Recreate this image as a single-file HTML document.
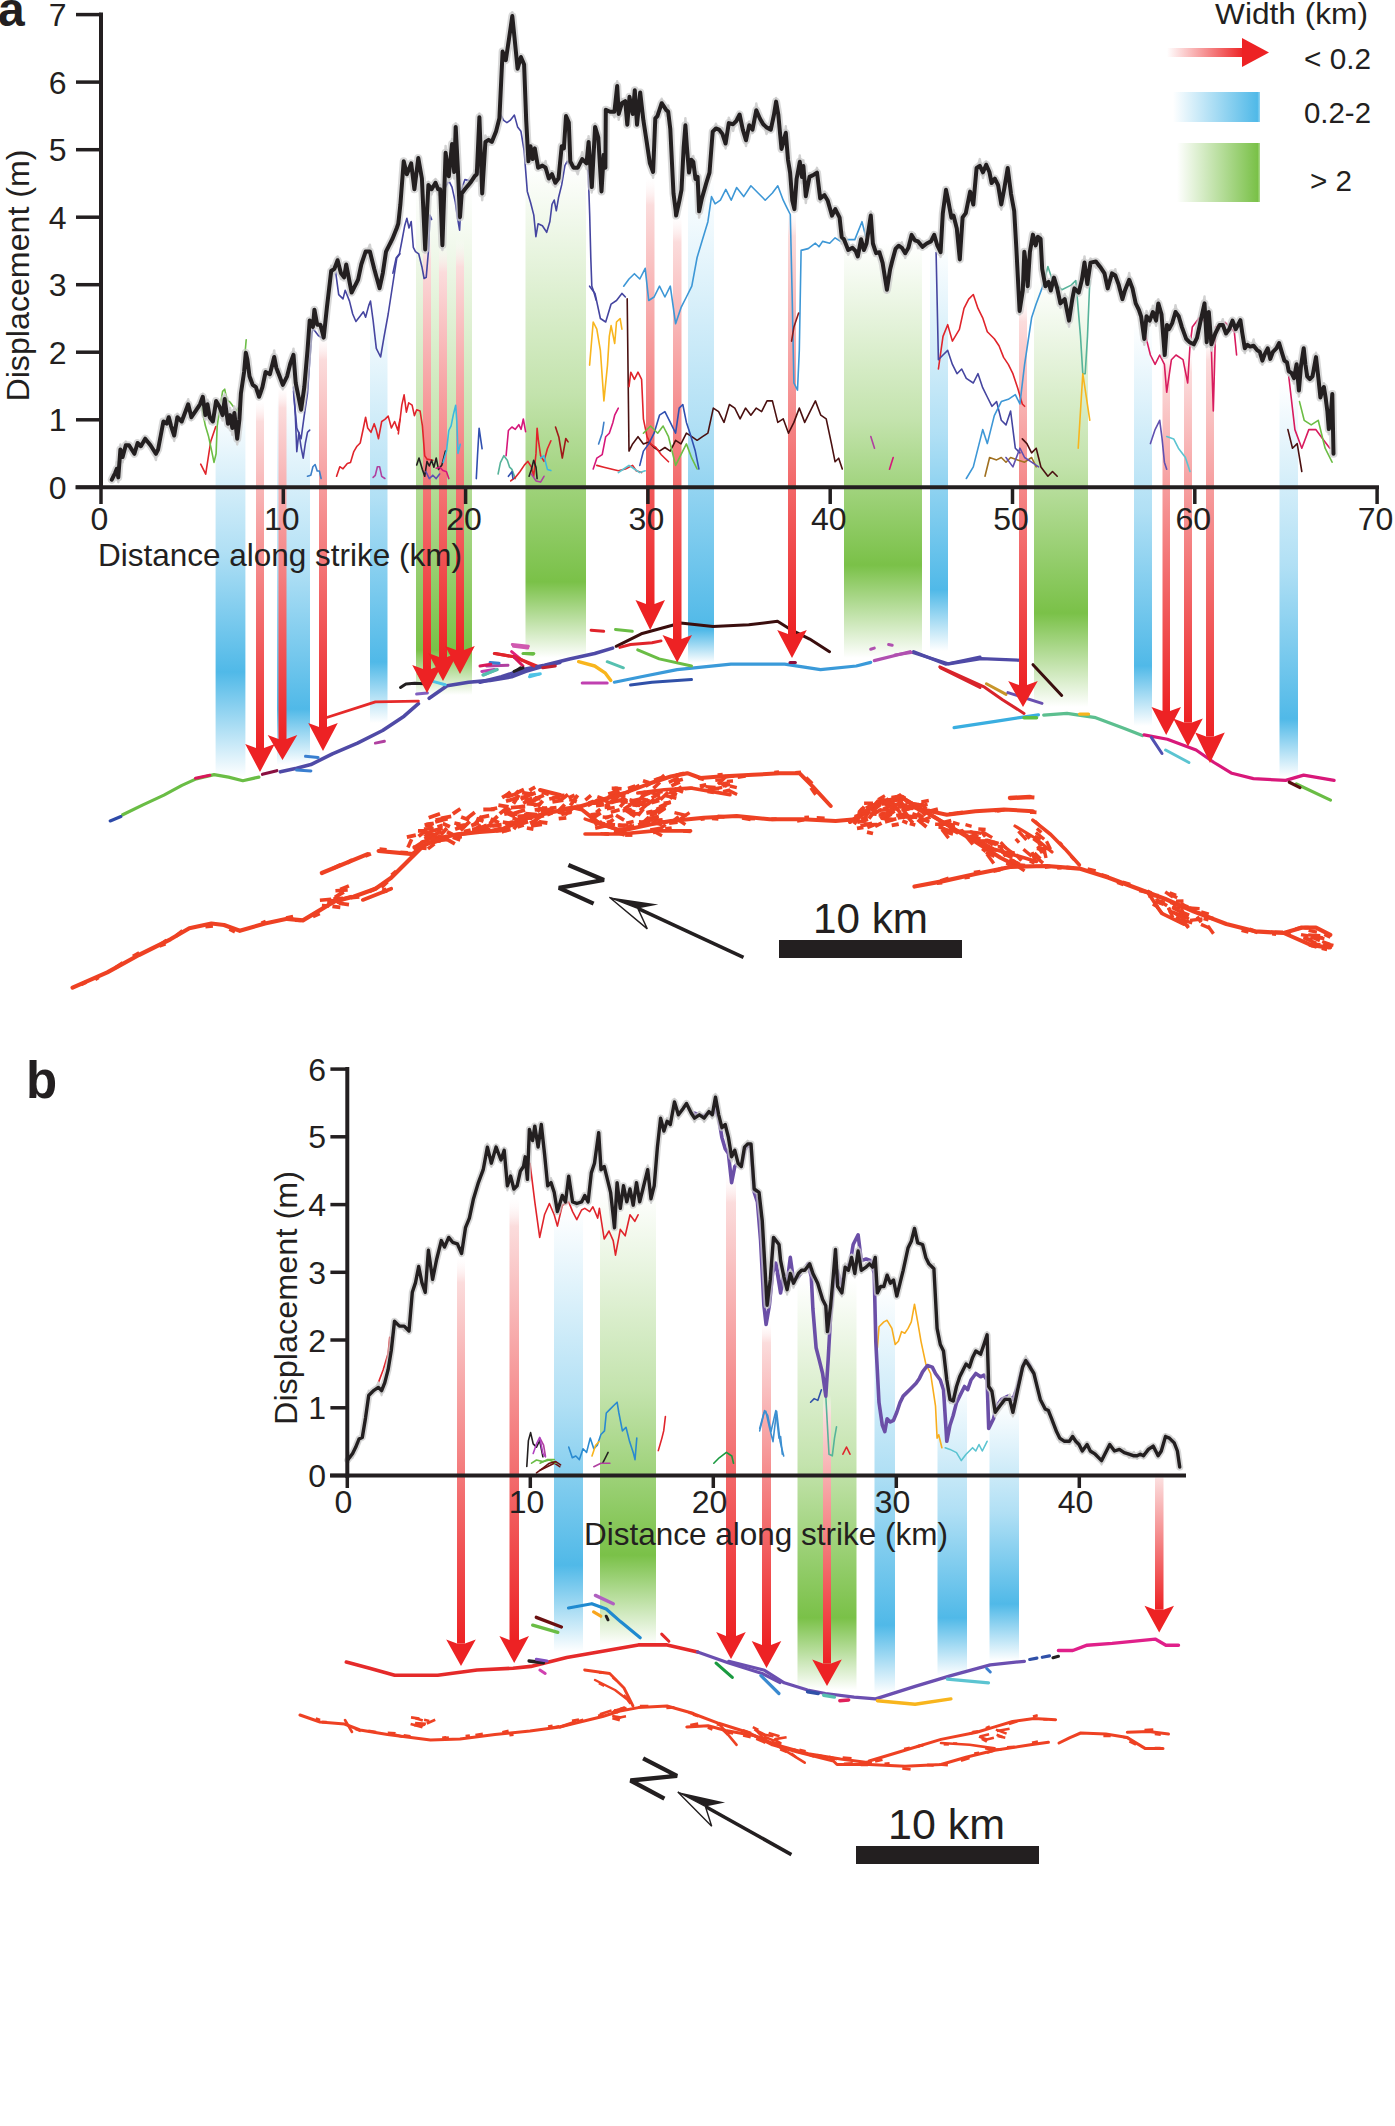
<!DOCTYPE html>
<html><head><meta charset="utf-8"><style>html,body{margin:0;padding:0;background:#fff;}svg{display:block;}</style></head>
<body><svg width="1395" height="2126" viewBox="0 0 1395 2126">
<defs>
<linearGradient id="gBlue" x1="0" y1="0" x2="0" y2="1">
 <stop offset="0" stop-color="#50b9e8" stop-opacity="0"/>
 <stop offset="0.78" stop-color="#50b9e8" stop-opacity="1"/>
 <stop offset="1" stop-color="#50b9e8" stop-opacity="0"/>
</linearGradient>
<linearGradient id="gGreen" x1="0" y1="0" x2="0" y2="1">
 <stop offset="0" stop-color="#7ac148" stop-opacity="0"/>
 <stop offset="0.83" stop-color="#7ac148" stop-opacity="1"/>
 <stop offset="1" stop-color="#7ac148" stop-opacity="0"/>
</linearGradient>
<linearGradient id="gRed" x1="0" y1="0" x2="0" y2="1">
 <stop offset="0" stop-color="#ffffff" stop-opacity="0"/>
 <stop offset="0.07" stop-color="#fbdcdc"/>
 <stop offset="1" stop-color="#ed2224"/>
</linearGradient>
<linearGradient id="gRedH" x1="0" y1="0" x2="1" y2="0">
 <stop offset="0" stop-color="#ed2224" stop-opacity="0"/>
 <stop offset="1" stop-color="#ed2224" stop-opacity="1"/>
</linearGradient>
<linearGradient id="gBlueH" x1="0" y1="0" x2="1" y2="0">
 <stop offset="0" stop-color="#50b9e8" stop-opacity="0"/>
 <stop offset="0.97" stop-color="#50b9e8" stop-opacity="1"/>
 <stop offset="1" stop-color="#50b9e8" stop-opacity="0.6"/>
</linearGradient>
<linearGradient id="gGreenH" x1="0" y1="0" x2="1" y2="0">
 <stop offset="0" stop-color="#7ac148" stop-opacity="0"/>
 <stop offset="0.97" stop-color="#7ac148" stop-opacity="1"/>
 <stop offset="1" stop-color="#7ac148" stop-opacity="0.6"/>
</linearGradient>
<linearGradient id="bg1" x1="0" y1="0" x2="0" y2="1"><stop offset="0" stop-color="#50b9e8" stop-opacity="0"/><stop offset="0.394" stop-color="#50b9e8" stop-opacity="0.45"/><stop offset="0.717" stop-color="#50b9e8" stop-opacity="1"/><stop offset="1" stop-color="#50b9e8" stop-opacity="0"/></linearGradient><linearGradient id="bg2" x1="0" y1="0" x2="0" y2="1"><stop offset="0" stop-color="#50b9e8" stop-opacity="0"/><stop offset="0.466" stop-color="#50b9e8" stop-opacity="0.45"/><stop offset="0.848" stop-color="#50b9e8" stop-opacity="1"/><stop offset="1" stop-color="#50b9e8" stop-opacity="0"/></linearGradient><linearGradient id="bg3" x1="0" y1="0" x2="0" y2="1"><stop offset="0" stop-color="#50b9e8" stop-opacity="0"/><stop offset="0.471" stop-color="#50b9e8" stop-opacity="0.45"/><stop offset="0.856" stop-color="#50b9e8" stop-opacity="1"/><stop offset="1" stop-color="#50b9e8" stop-opacity="0"/></linearGradient><linearGradient id="bg4" x1="0" y1="0" x2="0" y2="1"><stop offset="0" stop-color="#7ac148" stop-opacity="0"/><stop offset="0.501" stop-color="#7ac148" stop-opacity="0.45"/><stop offset="0.911" stop-color="#7ac148" stop-opacity="1"/><stop offset="1" stop-color="#7ac148" stop-opacity="0"/></linearGradient><linearGradient id="bg5" x1="0" y1="0" x2="0" y2="1"><stop offset="0" stop-color="#7ac148" stop-opacity="0"/><stop offset="0.465" stop-color="#7ac148" stop-opacity="0.45"/><stop offset="0.846" stop-color="#7ac148" stop-opacity="1"/><stop offset="1" stop-color="#7ac148" stop-opacity="0"/></linearGradient><linearGradient id="bg6" x1="0" y1="0" x2="0" y2="1"><stop offset="0" stop-color="#50b9e8" stop-opacity="0"/><stop offset="0.513" stop-color="#50b9e8" stop-opacity="0.45"/><stop offset="0.932" stop-color="#50b9e8" stop-opacity="1"/><stop offset="1" stop-color="#50b9e8" stop-opacity="0"/></linearGradient><linearGradient id="bg7" x1="0" y1="0" x2="0" y2="1"><stop offset="0" stop-color="#7ac148" stop-opacity="0"/><stop offset="0.427" stop-color="#7ac148" stop-opacity="0.45"/><stop offset="0.776" stop-color="#7ac148" stop-opacity="1"/><stop offset="1" stop-color="#7ac148" stop-opacity="0"/></linearGradient><linearGradient id="bg8" x1="0" y1="0" x2="0" y2="1"><stop offset="0" stop-color="#50b9e8" stop-opacity="0"/><stop offset="0.468" stop-color="#50b9e8" stop-opacity="0.45"/><stop offset="0.850" stop-color="#50b9e8" stop-opacity="1"/><stop offset="1" stop-color="#50b9e8" stop-opacity="0"/></linearGradient><linearGradient id="bg9" x1="0" y1="0" x2="0" y2="1"><stop offset="0" stop-color="#7ac148" stop-opacity="0"/><stop offset="0.429" stop-color="#7ac148" stop-opacity="0.45"/><stop offset="0.780" stop-color="#7ac148" stop-opacity="1"/><stop offset="1" stop-color="#7ac148" stop-opacity="0"/></linearGradient><linearGradient id="bg10" x1="0" y1="0" x2="0" y2="1"><stop offset="0" stop-color="#50b9e8" stop-opacity="0"/><stop offset="0.468" stop-color="#50b9e8" stop-opacity="0.45"/><stop offset="0.851" stop-color="#50b9e8" stop-opacity="1"/><stop offset="1" stop-color="#50b9e8" stop-opacity="0"/></linearGradient><linearGradient id="bg11" x1="0" y1="0" x2="0" y2="1"><stop offset="0" stop-color="#50b9e8" stop-opacity="0"/><stop offset="0.469" stop-color="#50b9e8" stop-opacity="0.45"/><stop offset="0.853" stop-color="#50b9e8" stop-opacity="1"/><stop offset="1" stop-color="#50b9e8" stop-opacity="0"/></linearGradient><linearGradient id="bg12" x1="0" y1="0" x2="0" y2="1"><stop offset="0" stop-color="#50b9e8" stop-opacity="0"/><stop offset="0.442" stop-color="#50b9e8" stop-opacity="0.45"/><stop offset="0.804" stop-color="#50b9e8" stop-opacity="1"/><stop offset="1" stop-color="#50b9e8" stop-opacity="0"/></linearGradient><linearGradient id="bg13" x1="0" y1="0" x2="0" y2="1"><stop offset="0" stop-color="#7ac148" stop-opacity="0"/><stop offset="0.441" stop-color="#7ac148" stop-opacity="0.45"/><stop offset="0.802" stop-color="#7ac148" stop-opacity="1"/><stop offset="1" stop-color="#7ac148" stop-opacity="0"/></linearGradient><linearGradient id="bg14" x1="0" y1="0" x2="0" y2="1"><stop offset="0" stop-color="#7ac148" stop-opacity="0"/><stop offset="0.453" stop-color="#7ac148" stop-opacity="0.45"/><stop offset="0.824" stop-color="#7ac148" stop-opacity="1"/><stop offset="1" stop-color="#7ac148" stop-opacity="0"/></linearGradient><linearGradient id="bg15" x1="0" y1="0" x2="0" y2="1"><stop offset="0" stop-color="#50b9e8" stop-opacity="0"/><stop offset="0.457" stop-color="#50b9e8" stop-opacity="0.45"/><stop offset="0.832" stop-color="#50b9e8" stop-opacity="1"/><stop offset="1" stop-color="#50b9e8" stop-opacity="0"/></linearGradient><linearGradient id="bg16" x1="0" y1="0" x2="0" y2="1"><stop offset="0" stop-color="#50b9e8" stop-opacity="0"/><stop offset="0.442" stop-color="#50b9e8" stop-opacity="0.45"/><stop offset="0.803" stop-color="#50b9e8" stop-opacity="1"/><stop offset="1" stop-color="#50b9e8" stop-opacity="0"/></linearGradient><linearGradient id="bg17" x1="0" y1="0" x2="0" y2="1"><stop offset="0" stop-color="#50b9e8" stop-opacity="0"/><stop offset="0.429" stop-color="#50b9e8" stop-opacity="0.45"/><stop offset="0.780" stop-color="#50b9e8" stop-opacity="1"/><stop offset="1" stop-color="#50b9e8" stop-opacity="0"/></linearGradient></defs>
<rect width="1395" height="2126" fill="#fff"/>
<rect x="215.6" y="406" width="29.80000000000001" height="371" fill="url(#bg1)"/><rect x="277" y="397" width="33" height="368" fill="url(#bg2)"/><rect x="370" y="300" width="17.5" height="423" fill="url(#bg3)"/><rect x="416" y="187" width="56" height="508" fill="url(#bg4)"/><rect x="525.5" y="164" width="60.5" height="494" fill="url(#bg5)"/><rect x="688" y="178" width="26" height="485" fill="url(#bg6)"/><rect x="844" y="243" width="78" height="415" fill="url(#bg7)"/><rect x="930" y="243" width="18" height="408" fill="url(#bg8)"/><rect x="1034" y="280" width="54" height="427" fill="url(#bg9)"/><rect x="1134" y="322" width="18" height="404" fill="url(#bg10)"/><rect x="1279.5" y="382" width="18.5" height="395" fill="url(#bg11)"/><rect x="554" y="1209" width="29" height="443" fill="url(#bg12)"/><rect x="600" y="1191" width="56" height="454" fill="url(#bg13)"/><rect x="797.5" y="1280" width="59.0" height="410" fill="url(#bg14)"/><rect x="874.5" y="1284" width="20.5" height="410" fill="url(#bg15)"/><rect x="937.5" y="1381" width="29.5" height="295" fill="url(#bg16)"/><rect x="989.5" y="1402" width="29.5" height="259" fill="url(#bg17)"/>
<polyline points="122.7,814.8 142.4,805.1 163.9,795.1 181.9,785.4 196.2,778.9 214.1,774.6 228.5,777.1 242.8,780.7 258.9,777.1" fill="none" stroke="#6abd45" stroke-width="3.2" stroke-linejoin="round" stroke-linecap="round" stroke-linecap="butt"/><polyline points="110.2,820.9 120.9,816.6" fill="none" stroke="#2d4aa8" stroke-width="3.2" stroke-linejoin="round" stroke-linecap="round" stroke-linecap="butt"/><polyline points="195.5,778.2 209.8,775.3" fill="none" stroke="#d8185a" stroke-width="3.2" stroke-linejoin="round" stroke-linecap="round" stroke-linecap="butt"/><polyline points="262.5,774.3 276.8,770.7" fill="none" stroke="#8a1040" stroke-width="3.2" stroke-linejoin="round" stroke-linecap="round" stroke-linecap="butt"/><polyline points="280.4,771.8 296.6,768.2 310.9,764.6 332.4,753.8 357.5,743.1 382.6,730.5 404.1,716.2 418.4,703.7" fill="none" stroke="#4f4aa6" stroke-width="3.6" stroke-linejoin="round" stroke-linecap="round" stroke-linecap="butt"/><polyline points="429.2,698.3 447.1,685.7 468.6,682.2 490.1,680.4 511.6,676.8 525.9,671.4 543.9,666.0 560.0,662.4" fill="none" stroke="#4f4aa6" stroke-width="3.6" stroke-linejoin="round" stroke-linecap="round" stroke-linecap="butt"/><polyline points="325.2,718.0 375.4,701.9 418.4,701.1" fill="none" stroke="#e52a2a" stroke-width="2.8" stroke-linejoin="round" stroke-linecap="round" stroke-linecap="butt"/><polyline points="400.5,687.5 405.9,683.9 414.8,683.2 429.2,683.9" fill="none" stroke="#231f20" stroke-width="3" stroke-linejoin="round" stroke-linecap="round" stroke-linecap="butt"/><polyline points="432.8,681.4 445.3,684.7" fill="none" stroke="#4fc3e6" stroke-width="3" stroke-linejoin="round" stroke-linecap="round" stroke-linecap="butt"/><polyline points="296.6,770.0 310.9,771.0" fill="none" stroke="#3a7fd0" stroke-width="3" stroke-linejoin="round" stroke-linecap="round" stroke-linecap="butt"/><polyline points="305.5,756.3 318.1,757.4" fill="none" stroke="#3a7fd0" stroke-width="3" stroke-linejoin="round" stroke-linecap="round" stroke-linecap="butt"/><polyline points="375.4,743.1 384.4,741.3" fill="none" stroke="#b040a0" stroke-width="3" stroke-linejoin="round" stroke-linecap="round" stroke-linecap="butt"/><polyline points="416.6,694.0 427.4,692.9" fill="none" stroke="#8060c0" stroke-width="3" stroke-linejoin="round" stroke-linecap="round" stroke-linecap="butt"/><polyline points="418.4,673.2 429.2,673.9" fill="none" stroke="#e0207a" stroke-width="3" stroke-linejoin="round" stroke-linecap="round" stroke-linecap="butt"/><polyline points="482.9,675.0 497.3,669.6" fill="none" stroke="#56b39a" stroke-width="3" stroke-linejoin="round" stroke-linecap="round" stroke-linecap="butt"/><polyline points="486.5,666.0 508.0,665.3" fill="none" stroke="#b040a0" stroke-width="3" stroke-linejoin="round" stroke-linecap="round" stroke-linecap="butt"/><polyline points="495.5,653.5 515.2,657.1 536.7,666.0" fill="none" stroke="#e0242b" stroke-width="3" stroke-linejoin="round" stroke-linecap="round" stroke-linecap="butt"/><polyline points="513.4,646.3 527.7,648.1" fill="none" stroke="#d05ab0" stroke-width="3" stroke-linejoin="round" stroke-linecap="round" stroke-linecap="butt"/><polyline points="511.6,651.7 522.4,660.6" fill="none" stroke="#e0207a" stroke-width="3" stroke-linejoin="round" stroke-linecap="round" stroke-linecap="butt"/><polyline points="524.2,653.5 533.1,654.2" fill="none" stroke="#6abd45" stroke-width="3" stroke-linejoin="round" stroke-linecap="round" stroke-linecap="butt"/><polyline points="513.4,672.5 520.6,667.8" fill="none" stroke="#231f20" stroke-width="3" stroke-linejoin="round" stroke-linecap="round" stroke-linecap="butt"/><polyline points="529.5,676.8 540.3,673.9" fill="none" stroke="#4fc3e6" stroke-width="3" stroke-linejoin="round" stroke-linecap="round" stroke-linecap="butt"/><polyline points="490.1,662.4 499.1,663.2" fill="none" stroke="#3a7fd0" stroke-width="3" stroke-linejoin="round" stroke-linecap="round" stroke-linecap="butt"/><polyline points="480.0,682.2 501.5,676.8 523.0,669.6 544.5,665.3 569.6,658.9 594.7,653.5 612.6,648.1" fill="none" stroke="#4f4aa6" stroke-width="3.6" stroke-linejoin="round" stroke-linecap="round" stroke-linecap="butt"/><polyline points="616.2,646.3 641.3,633.8 680.7,623.0 713.0,626.6 748.8,624.8 777.5,621.2 791.8,630.2 809.7,639.1 829.5,651.7" fill="none" stroke="#3a0e0e" stroke-width="3" stroke-linejoin="round" stroke-linecap="round" stroke-linecap="butt"/><polyline points="614.4,682.2 641.3,676.8 677.1,669.6 730.9,664.2 784.7,664.2 820.5,669.6 856.3,666.0 870.7,662.4" fill="none" stroke="#3a9ad9" stroke-width="3.2" stroke-linejoin="round" stroke-linecap="round" stroke-linecap="butt"/><polyline points="874.3,660.6 910.1,651.7" fill="none" stroke="#b050b0" stroke-width="3.2" stroke-linejoin="round" stroke-linecap="round" stroke-linecap="butt"/><polyline points="913.7,651.7 945.9,664.2 980.0,657.1" fill="none" stroke="#4f4aa6" stroke-width="3.2" stroke-linejoin="round" stroke-linecap="round" stroke-linecap="butt"/><polyline points="940.6,667.8 980.0,687.5" fill="none" stroke="#d8242b" stroke-width="3" stroke-linejoin="round" stroke-linecap="round" stroke-linecap="butt"/><polyline points="637.7,649.9 659.2,658.9 691.5,666.0" fill="none" stroke="#6abd45" stroke-width="3" stroke-linejoin="round" stroke-linecap="round" stroke-linecap="butt"/><polyline points="578.6,661.7 594.7,666.0 605.4,673.2 610.8,680.4" fill="none" stroke="#f8b51d" stroke-width="3.4" stroke-linejoin="round" stroke-linecap="round" stroke-linecap="butt"/><polyline points="607.2,661.7 623.4,667.8" fill="none" stroke="#56c0b0" stroke-width="3" stroke-linejoin="round" stroke-linecap="round" stroke-linecap="butt"/><polyline points="582.2,682.9 607.2,682.9" fill="none" stroke="#c040b0" stroke-width="3" stroke-linejoin="round" stroke-linecap="round" stroke-linecap="butt"/><polyline points="630.5,685.0 652.0,682.2 691.5,679.6" fill="none" stroke="#3050a8" stroke-width="3" stroke-linejoin="round" stroke-linecap="round" stroke-linecap="butt"/><polyline points="591.1,630.2 603.7,631.3" fill="none" stroke="#e0242b" stroke-width="3" stroke-linejoin="round" stroke-linecap="round" stroke-linecap="butt"/><polyline points="619.8,647.4 630.5,644.5 652.0,642.7 661.0,640.9" fill="none" stroke="#e0242b" stroke-width="3" stroke-linejoin="round" stroke-linecap="round" stroke-linecap="butt"/><polyline points="615.5,629.5 632.3,631.3" fill="none" stroke="#6abd45" stroke-width="3" stroke-linejoin="round" stroke-linecap="round" stroke-linecap="butt"/><polyline points="480.0,666.0 490.8,664.2" fill="none" stroke="#d8185a" stroke-width="3" stroke-linejoin="round" stroke-linecap="round" stroke-linecap="butt"/><polyline points="481.8,671.4 494.3,669.6" fill="none" stroke="#c040b0" stroke-width="3" stroke-linejoin="round" stroke-linecap="round" stroke-linecap="butt"/><polyline points="483.6,675.0 496.1,669.6" fill="none" stroke="#56c0b0" stroke-width="3" stroke-linejoin="round" stroke-linecap="round" stroke-linecap="butt"/><polyline points="494.3,653.5 515.8,657.1 533.8,666.0" fill="none" stroke="#e0242b" stroke-width="3" stroke-linejoin="round" stroke-linecap="round" stroke-linecap="butt"/><polyline points="512.3,644.5 528.4,646.3" fill="none" stroke="#d05ab0" stroke-width="3" stroke-linejoin="round" stroke-linecap="round" stroke-linecap="butt"/><polyline points="514.1,657.1 523.0,666.0" fill="none" stroke="#d8185a" stroke-width="3" stroke-linejoin="round" stroke-linecap="round" stroke-linecap="butt"/><polyline points="523.0,653.5 533.8,653.5" fill="none" stroke="#6abd45" stroke-width="3" stroke-linejoin="round" stroke-linecap="round" stroke-linecap="butt"/><polyline points="530.2,675.0 539.1,673.9" fill="none" stroke="#4fc3e6" stroke-width="3" stroke-linejoin="round" stroke-linecap="round" stroke-linecap="butt"/><polyline points="542.7,667.8 555.3,666.0" fill="none" stroke="#c02030" stroke-width="3" stroke-linejoin="round" stroke-linecap="round" stroke-linecap="butt"/><polyline points="514.1,671.4 523.0,667.8" fill="none" stroke="#231f20" stroke-width="3" stroke-linejoin="round" stroke-linecap="round" stroke-linecap="butt"/><polyline points="870.7,649.2 874.3,648.1" fill="none" stroke="#b050b0" stroke-width="3" stroke-linejoin="round" stroke-linecap="round" stroke-linecap="butt"/><polyline points="888.6,644.5 892.2,645.2" fill="none" stroke="#b050b0" stroke-width="3" stroke-linejoin="round" stroke-linecap="round" stroke-linecap="butt"/><polyline points="790.0,662.4 795.4,662.4" fill="none" stroke="#8a1040" stroke-width="3" stroke-linejoin="round" stroke-linecap="round" stroke-linecap="butt"/><polyline points="912.9,652.5 948.8,663.9 981.0,658.6 1024.0,660.4" fill="none" stroke="#4f4aa6" stroke-width="3.2" stroke-linejoin="round" stroke-linecap="round" stroke-linecap="butt"/><polyline points="939.8,666.8 984.6,687.2 1002.5,699.8 1024.0,713.4" fill="none" stroke="#d8242b" stroke-width="3" stroke-linejoin="round" stroke-linecap="round" stroke-linecap="butt"/><polyline points="986.4,683.7 1006.1,694.4" fill="none" stroke="#c8952a" stroke-width="3" stroke-linejoin="round" stroke-linecap="round" stroke-linecap="butt"/><polyline points="1007.9,692.6 1042.0,703.4" fill="none" stroke="#6a50b0" stroke-width="3" stroke-linejoin="round" stroke-linecap="round" stroke-linecap="butt"/><polyline points="1033.0,664.7 1061.7,695.5" fill="none" stroke="#3a0e0e" stroke-width="3" stroke-linejoin="round" stroke-linecap="round" stroke-linecap="butt"/><polyline points="954.1,727.7 995.4,721.3 1038.4,714.8" fill="none" stroke="#3aaee0" stroke-width="3.2" stroke-linejoin="round" stroke-linecap="round" stroke-linecap="butt"/><polyline points="1024.0,717.7 1036.6,717.7" fill="none" stroke="#5cbf45" stroke-width="3.4" stroke-linejoin="round" stroke-linecap="round" stroke-linecap="butt"/><polyline points="1043.7,715.2 1067.0,713.4 1095.7,717.7 1124.4,728.5 1142.3,735.6" fill="none" stroke="#5cbf8f" stroke-width="3.2" stroke-linejoin="round" stroke-linecap="round" stroke-linecap="butt"/><polyline points="1079.6,714.1 1088.5,714.1" fill="none" stroke="#f8b51d" stroke-width="3.4" stroke-linejoin="round" stroke-linecap="round" stroke-linecap="butt"/><polyline points="1144.1,734.9 1167.4,739.2 1196.1,750.0 1214.0,762.5 1231.9,773.3 1253.4,778.6 1285.7,780.4 1303.6,775.1 1334.1,780.4" fill="none" stroke="#d8187a" stroke-width="3.2" stroke-linejoin="round" stroke-linecap="round" stroke-linecap="butt"/><polyline points="1296.4,784.0 1330.5,800.1" fill="none" stroke="#6abd45" stroke-width="3.2" stroke-linejoin="round" stroke-linecap="round" stroke-linecap="butt"/><polyline points="1289.3,782.2 1300.0,787.6" fill="none" stroke="#5a1010" stroke-width="3.2" stroke-linejoin="round" stroke-linecap="round" stroke-linecap="butt"/><polyline points="1151.3,737.4 1162.0,753.5" fill="none" stroke="#5050b0" stroke-width="3" stroke-linejoin="round" stroke-linecap="round" stroke-linecap="butt"/><polyline points="1165.6,750.0 1188.9,762.5" fill="none" stroke="#5bc4d1" stroke-width="3" stroke-linejoin="round" stroke-linecap="round" stroke-linecap="butt"/><polyline points="895.0,655.0 911.1,652.5" fill="none" stroke="#b050b0" stroke-width="3" stroke-linejoin="round" stroke-linecap="round" stroke-linecap="butt"/><polyline points="346.3,1662.1 369.6,1668.2 394.7,1675.3 437.7,1675.3 477.1,1670.0 513.0,1668.2 530.9,1666.4 566.7,1657.4 602.6,1651.3 638.4,1644.9 667.1,1644.9 697.6,1652.0" fill="none" stroke="#e52a2a" stroke-width="3.6" stroke-linejoin="round" stroke-linecap="round" stroke-linecap="butt"/><polyline points="697.6,1652.0 728.0,1662.8 762.1,1673.5 780.0,1682.5" fill="none" stroke="#6b4fb0" stroke-width="3.2" stroke-linejoin="round" stroke-linecap="round" stroke-linecap="butt"/><polyline points="568.5,1608.0 591.8,1603.7 606.2,1609.0 620.5,1621.6 640.2,1637.7" fill="none" stroke="#1f8ad0" stroke-width="3.2" stroke-linejoin="round" stroke-linecap="round" stroke-linecap="butt"/><polyline points="595.4,1595.4 613.3,1603.7" fill="none" stroke="#b060c0" stroke-width="3.4" stroke-linejoin="round" stroke-linecap="round" stroke-linecap="butt"/><polyline points="593.6,1611.9 600.8,1616.2" fill="none" stroke="#f8a51d" stroke-width="3.2" stroke-linejoin="round" stroke-linecap="round" stroke-linecap="butt"/><polyline points="536.3,1617.3 561.4,1627.0" fill="none" stroke="#6a1010" stroke-width="3.4" stroke-linejoin="round" stroke-linecap="round" stroke-linecap="butt"/><polyline points="532.7,1625.2 557.8,1632.3" fill="none" stroke="#6abd45" stroke-width="3.4" stroke-linejoin="round" stroke-linecap="round" stroke-linecap="butt"/><polyline points="529.1,1661.0 543.4,1662.8" fill="none" stroke="#231f20" stroke-width="3.4" stroke-linejoin="round" stroke-linecap="round" stroke-linecap="butt"/><polyline points="536.3,1659.2 547.0,1661.0" fill="none" stroke="#8050c0" stroke-width="3" stroke-linejoin="round" stroke-linecap="round" stroke-linecap="butt"/><polyline points="539.9,1670.0 545.2,1673.5" fill="none" stroke="#d040b0" stroke-width="3" stroke-linejoin="round" stroke-linecap="round" stroke-linecap="butt"/><polyline points="661.7,1634.1 668.9,1641.3" fill="none" stroke="#e52a2a" stroke-width="3" stroke-linejoin="round" stroke-linecap="round" stroke-linecap="butt"/><polyline points="606.2,1616.2 608.0,1619.8" fill="none" stroke="#231f20" stroke-width="3" stroke-linejoin="round" stroke-linecap="round" stroke-linecap="butt"/><polyline points="728.7,1661.3 764.5,1670.3 784.2,1682.8 807.5,1690.0 825.4,1693.5 854.1,1697.1 875.6,1698.9 915.1,1686.4 950.9,1675.6 990.3,1664.9 1024.4,1661.3" fill="none" stroke="#6b4fb0" stroke-width="3.2" stroke-linejoin="round" stroke-linecap="round" stroke-linecap="butt"/><polyline points="1029.7,1659.5 1036.9,1658.1" fill="none" stroke="#3050a8" stroke-width="3.2" stroke-linejoin="round" stroke-linecap="round" stroke-linecap="butt"/><polyline points="1042.3,1657.3 1049.5,1655.9" fill="none" stroke="#3050a8" stroke-width="3.2" stroke-linejoin="round" stroke-linecap="round" stroke-linecap="butt"/><polyline points="1053.0,1657.7 1058.4,1656.3" fill="none" stroke="#231f20" stroke-width="3.2" stroke-linejoin="round" stroke-linecap="round" stroke-linecap="butt"/><polyline points="1058.4,1650.5 1072.8,1650.5 1087.1,1645.2 1112.2,1643.4 1155.2,1639.1 1165.9,1645.2 1178.5,1645.2" fill="none" stroke="#e0208a" stroke-width="3.4" stroke-linejoin="round" stroke-linecap="round" stroke-linecap="butt"/><polyline points="877.4,1700.7 915.1,1704.3 950.9,1698.9" fill="none" stroke="#f8b51d" stroke-width="3.4" stroke-linejoin="round" stroke-linecap="round" stroke-linecap="butt"/><polyline points="947.3,1679.2 988.5,1682.8" fill="none" stroke="#5bc4d1" stroke-width="3.2" stroke-linejoin="round" stroke-linecap="round" stroke-linecap="butt"/><polyline points="716.1,1663.1 732.3,1677.4" fill="none" stroke="#1a9a40" stroke-width="3.2" stroke-linejoin="round" stroke-linecap="round" stroke-linecap="butt"/><polyline points="760.9,1675.6 778.9,1693.5" fill="none" stroke="#3a8ad0" stroke-width="3.2" stroke-linejoin="round" stroke-linecap="round" stroke-linecap="butt"/><polyline points="807.5,1691.8 818.3,1693.5" fill="none" stroke="#3050a8" stroke-width="3.4" stroke-linejoin="round" stroke-linecap="round" stroke-linecap="butt"/><polyline points="823.7,1695.3 834.4,1697.1" fill="none" stroke="#56c0b0" stroke-width="3.4" stroke-linejoin="round" stroke-linecap="round" stroke-linecap="butt"/><polyline points="839.8,1700.7 848.7,1700.0" fill="none" stroke="#e0205a" stroke-width="3.4" stroke-linejoin="round" stroke-linecap="round" stroke-linecap="butt"/><polyline points="986.7,1668.5 990.3,1672.0" fill="none" stroke="#3a7fd0" stroke-width="3" stroke-linejoin="round" stroke-linecap="round" stroke-linecap="butt"/><polyline points="72.6,987.6 107.3,972.4 138.9,955.0 170.4,939.3 189.3,928.3 211.4,923.5 224.0,925.0 239.8,930.8 265.0,923.5 287.1,918.8 302.9,920.4 318.7,910.9 334.4,901.5 353.4,896.7 375.5,888.8 391.2,877.8 407.0,862.0 422.8,846.2 438.5,838.4 457.5,834.3 479.6,832.0 500.0,830.5 522.4,819.3 548.8,812.8 575.2,807.8" fill="none" stroke="#ee4123" stroke-width="4.2" stroke-linejoin="round" stroke-linecap="round" /><line x1="81.0" y1="984.4" x2="86.4" y2="982.1" stroke="#ee4123" stroke-width="3.8"/><line x1="95.1" y1="979.4" x2="98.6" y2="977.3" stroke="#ee4123" stroke-width="3.8"/><line x1="115.4" y1="967.8" x2="122.9" y2="962.8" stroke="#ee4123" stroke-width="3.8"/><line x1="133.0" y1="956.5" x2="139.3" y2="953.0" stroke="#ee4123" stroke-width="3.8"/><line x1="159.3" y1="946.0" x2="165.5" y2="943.7" stroke="#ee4123" stroke-width="3.8"/><line x1="160.3" y1="944.8" x2="166.7" y2="940.4" stroke="#ee4123" stroke-width="3.8"/><line x1="176.0" y1="935.9" x2="182.6" y2="930.7" stroke="#ee4123" stroke-width="3.8"/><line x1="205.4" y1="926.7" x2="212.9" y2="925.9" stroke="#ee4123" stroke-width="3.8"/><line x1="229.4" y1="929.0" x2="235.0" y2="931.7" stroke="#ee4123" stroke-width="3.8"/><line x1="261.5" y1="923.2" x2="265.8" y2="921.4" stroke="#ee4123" stroke-width="3.8"/><line x1="286.1" y1="918.1" x2="293.1" y2="916.5" stroke="#ee4123" stroke-width="3.8"/><line x1="295.1" y1="920.0" x2="300.8" y2="920.4" stroke="#ee4123" stroke-width="3.8"/><line x1="312.9" y1="916.6" x2="319.7" y2="913.6" stroke="#ee4123" stroke-width="3.8"/><line x1="331.6" y1="901.5" x2="338.4" y2="898.7" stroke="#ee4123" stroke-width="3.8"/><line x1="350.8" y1="897.7" x2="359.3" y2="896.8" stroke="#ee4123" stroke-width="3.8"/><line x1="369.3" y1="891.4" x2="376.7" y2="888.0" stroke="#ee4123" stroke-width="3.8"/><line x1="381.4" y1="887.3" x2="387.5" y2="881.7" stroke="#ee4123" stroke-width="3.8"/><line x1="391.6" y1="875.2" x2="396.3" y2="871.3" stroke="#ee4123" stroke-width="3.8"/><line x1="410.3" y1="855.8" x2="416.7" y2="850.4" stroke="#ee4123" stroke-width="3.8"/><line x1="432.0" y1="840.8" x2="438.3" y2="836.5" stroke="#ee4123" stroke-width="3.8"/><line x1="455.4" y1="837.0" x2="461.9" y2="836.5" stroke="#ee4123" stroke-width="3.8"/><line x1="463.9" y1="831.6" x2="470.7" y2="830.0" stroke="#ee4123" stroke-width="3.8"/><line x1="483.5" y1="830.2" x2="490.5" y2="829.5" stroke="#ee4123" stroke-width="3.8"/><line x1="501.6" y1="831.9" x2="506.9" y2="830.0" stroke="#ee4123" stroke-width="3.8"/><line x1="546.1" y1="813.6" x2="552.2" y2="811.8" stroke="#ee4123" stroke-width="3.8"/><line x1="565.9" y1="810.1" x2="572.6" y2="809.0" stroke="#ee4123" stroke-width="3.8"/><polyline points="321.8,873.0 367.6,854.1" fill="none" stroke="#ee4123" stroke-width="4.2" stroke-linejoin="round" stroke-linecap="round" /><line x1="365.2" y1="856.1" x2="370.9" y2="853.8" stroke="#ee4123" stroke-width="3.8"/><line x1="332.7" y1="868.6" x2="340.7" y2="864.7" stroke="#ee4123" stroke-width="3.8"/><line x1="347.1" y1="862.9" x2="352.3" y2="859.8" stroke="#ee4123" stroke-width="3.8"/><polyline points="378.6,851.0 413.3,854.1" fill="none" stroke="#ee4123" stroke-width="4.2" stroke-linejoin="round" stroke-linecap="round" /><line x1="379.5" y1="849.1" x2="386.6" y2="850.0" stroke="#ee4123" stroke-width="3.8"/><line x1="400.4" y1="852.3" x2="407.8" y2="852.9" stroke="#ee4123" stroke-width="3.8"/><polyline points="362.8,899.9 391.2,888.8" fill="none" stroke="#ee4123" stroke-width="3.8" stroke-linejoin="round" stroke-linecap="round" /><line x1="382.3" y1="890.2" x2="386.2" y2="889.0" stroke="#ee4123" stroke-width="3.4"/><line x1="382.0" y1="892.2" x2="387.1" y2="891.0" stroke="#ee4123" stroke-width="3.4"/><polyline points="575.0,808.0 598.0,801.0 624.6,793.0 651.0,783.0 670.8,776.5 687.3,773.2 700.5,778.0 720.0,776.5 753.0,774.8 779.6,773.2 799.4,773.2 812.6,786.4 830.7,806.0" fill="none" stroke="#ee4123" stroke-width="4.0" stroke-linejoin="round" stroke-linecap="round" /><line x1="588.3" y1="803.1" x2="593.8" y2="801.1" stroke="#ee4123" stroke-width="3.6"/><line x1="607.7" y1="797.5" x2="613.0" y2="796.1" stroke="#ee4123" stroke-width="3.6"/><line x1="645.5" y1="786.2" x2="651.5" y2="782.9" stroke="#ee4123" stroke-width="3.6"/><line x1="632.3" y1="788.9" x2="639.5" y2="785.4" stroke="#ee4123" stroke-width="3.6"/><line x1="654.1" y1="780.1" x2="661.2" y2="777.7" stroke="#ee4123" stroke-width="3.6"/><line x1="676.0" y1="775.2" x2="684.0" y2="773.2" stroke="#ee4123" stroke-width="3.6"/><line x1="698.4" y1="777.9" x2="703.9" y2="779.4" stroke="#ee4123" stroke-width="3.6"/><line x1="717.6" y1="775.0" x2="722.7" y2="774.5" stroke="#ee4123" stroke-width="3.6"/><line x1="737.7" y1="777.1" x2="745.6" y2="775.9" stroke="#ee4123" stroke-width="3.6"/><line x1="726.1" y1="776.8" x2="734.1" y2="775.9" stroke="#ee4123" stroke-width="3.6"/><line x1="774.3" y1="772.6" x2="779.0" y2="772.1" stroke="#ee4123" stroke-width="3.6"/><line x1="795.3" y1="772.8" x2="801.0" y2="772.4" stroke="#ee4123" stroke-width="3.6"/><line x1="806.0" y1="777.6" x2="812.2" y2="783.6" stroke="#ee4123" stroke-width="3.6"/><line x1="810.9" y1="787.7" x2="815.8" y2="794.6" stroke="#ee4123" stroke-width="3.6"/><polyline points="575.0,808.0 581.8,809.5 598.3,822.6 621.3,830.9 651.0,824.3 670.8,821.0 703.8,817.7 736.7,816.0 769.7,819.3 802.7,819.3 835.6,821.0 855.4,819.3 868.6,809.5 881.8,801.2 903.8,798.7" fill="none" stroke="#ee4123" stroke-width="4.0" stroke-linejoin="round" stroke-linecap="round" /><line x1="589.8" y1="814.3" x2="595.8" y2="820.6" stroke="#ee4123" stroke-width="3.6"/><line x1="615.4" y1="828.9" x2="622.0" y2="832.0" stroke="#ee4123" stroke-width="3.6"/><line x1="629.4" y1="827.2" x2="634.3" y2="825.8" stroke="#ee4123" stroke-width="3.6"/><line x1="638.2" y1="825.1" x2="646.0" y2="822.8" stroke="#ee4123" stroke-width="3.6"/><line x1="669.1" y1="823.1" x2="677.6" y2="822.1" stroke="#ee4123" stroke-width="3.6"/><line x1="700.6" y1="819.1" x2="704.6" y2="818.8" stroke="#ee4123" stroke-width="3.6"/><line x1="676.5" y1="820.5" x2="683.7" y2="819.4" stroke="#ee4123" stroke-width="3.6"/><line x1="717.5" y1="816.3" x2="724.5" y2="816.9" stroke="#ee4123" stroke-width="3.6"/><line x1="712.0" y1="818.5" x2="718.4" y2="818.9" stroke="#ee4123" stroke-width="3.6"/><line x1="748.3" y1="818.6" x2="755.0" y2="818.6" stroke="#ee4123" stroke-width="3.6"/><line x1="742.1" y1="817.9" x2="750.6" y2="819.5" stroke="#ee4123" stroke-width="3.6"/><line x1="797.1" y1="820.9" x2="804.2" y2="819.8" stroke="#ee4123" stroke-width="3.6"/><line x1="771.4" y1="819.4" x2="776.7" y2="819.1" stroke="#ee4123" stroke-width="3.6"/><line x1="816.7" y1="817.8" x2="824.6" y2="818.2" stroke="#ee4123" stroke-width="3.6"/><line x1="804.4" y1="817.5" x2="809.0" y2="817.2" stroke="#ee4123" stroke-width="3.6"/><line x1="854.9" y1="819.4" x2="859.3" y2="819.4" stroke="#ee4123" stroke-width="3.6"/><line x1="860.0" y1="816.7" x2="864.4" y2="813.0" stroke="#ee4123" stroke-width="3.6"/><line x1="875.9" y1="804.0" x2="880.0" y2="801.2" stroke="#ee4123" stroke-width="3.6"/><line x1="884.5" y1="800.4" x2="892.0" y2="799.6" stroke="#ee4123" stroke-width="3.6"/><polyline points="637.8,793.0 664.2,789.7 690.6,788.0 730.0,794.6" fill="none" stroke="#ee4123" stroke-width="3.6" stroke-linejoin="round" stroke-linecap="round" /><line x1="640.0" y1="793.2" x2="645.7" y2="791.9" stroke="#ee4123" stroke-width="3.2"/><line x1="684.9" y1="788.9" x2="692.9" y2="788.1" stroke="#ee4123" stroke-width="3.2"/><line x1="707.5" y1="791.7" x2="713.9" y2="792.6" stroke="#ee4123" stroke-width="3.2"/><line x1="707.4" y1="789.7" x2="713.6" y2="791.1" stroke="#ee4123" stroke-width="3.2"/><polyline points="585.0,834.0 621.0,834.0 654.3,830.9 690.6,830.9" fill="none" stroke="#ee4123" stroke-width="3.6" stroke-linejoin="round" stroke-linecap="round" /><line x1="604.3" y1="833.7" x2="608.7" y2="833.9" stroke="#ee4123" stroke-width="3.2"/><line x1="600.4" y1="833.5" x2="609.0" y2="834.4" stroke="#ee4123" stroke-width="3.2"/><line x1="650.9" y1="831.1" x2="656.2" y2="831.0" stroke="#ee4123" stroke-width="3.2"/><line x1="625.1" y1="835.3" x2="632.4" y2="835.3" stroke="#ee4123" stroke-width="3.2"/><line x1="683.1" y1="831.2" x2="690.7" y2="831.6" stroke="#ee4123" stroke-width="3.2"/><line x1="658.1" y1="829.3" x2="662.1" y2="829.4" stroke="#ee4123" stroke-width="3.2"/><polyline points="585.0,819.0 605.0,826.0 625.0,832.0" fill="none" stroke="#ee4123" stroke-width="3.2" stroke-linejoin="round" stroke-linecap="round" /><line x1="600.8" y1="822.7" x2="605.2" y2="823.6" stroke="#ee4123" stroke-width="2.9"/><line x1="622.3" y1="832.8" x2="626.4" y2="833.6" stroke="#ee4123" stroke-width="2.9"/><polyline points="540.0,790.0 560.0,795.0" fill="none" stroke="#ee4123" stroke-width="4" stroke-linejoin="round" stroke-linecap="round" /><line x1="541.9" y1="792.0" x2="548.8" y2="794.5" stroke="#ee4123" stroke-width="3.6"/><polyline points="850.0,822.0 868.0,809.4 882.3,802.3 903.8,798.7 921.7,809.4 946.8,814.8 975.4,811.2 1004.0,809.4 1032.8,811.2" fill="none" stroke="#ee4123" stroke-width="4.0" stroke-linejoin="round" stroke-linecap="round" /><line x1="866.0" y1="808.3" x2="872.7" y2="803.9" stroke="#ee4123" stroke-width="3.6"/><line x1="878.2" y1="802.4" x2="885.0" y2="799.1" stroke="#ee4123" stroke-width="3.6"/><line x1="898.4" y1="798.8" x2="902.7" y2="798.7" stroke="#ee4123" stroke-width="3.6"/><line x1="914.7" y1="803.6" x2="918.9" y2="806.7" stroke="#ee4123" stroke-width="3.6"/><line x1="928.1" y1="810.3" x2="935.6" y2="812.2" stroke="#ee4123" stroke-width="3.6"/><line x1="957.3" y1="813.1" x2="962.9" y2="812.2" stroke="#ee4123" stroke-width="3.6"/><line x1="949.1" y1="814.1" x2="957.9" y2="813.0" stroke="#ee4123" stroke-width="3.6"/><line x1="997.0" y1="811.0" x2="1004.3" y2="809.7" stroke="#ee4123" stroke-width="3.6"/><line x1="994.7" y1="810.6" x2="1001.1" y2="810.2" stroke="#ee4123" stroke-width="3.6"/><line x1="1029.9" y1="812.1" x2="1034.4" y2="811.9" stroke="#ee4123" stroke-width="3.6"/><line x1="1030.3" y1="812.0" x2="1036.5" y2="812.4" stroke="#ee4123" stroke-width="3.6"/><polyline points="903.8,798.7 939.6,820.2 975.4,841.7 1000.5,857.8 1014.9,865.0" fill="none" stroke="#ee4123" stroke-width="4.0" stroke-linejoin="round" stroke-linecap="round" /><line x1="910.3" y1="803.0" x2="914.7" y2="805.3" stroke="#ee4123" stroke-width="3.6"/><line x1="914.2" y1="807.3" x2="920.9" y2="810.6" stroke="#ee4123" stroke-width="3.6"/><line x1="949.3" y1="827.8" x2="954.3" y2="831.3" stroke="#ee4123" stroke-width="3.6"/><line x1="961.5" y1="830.9" x2="966.0" y2="833.2" stroke="#ee4123" stroke-width="3.6"/><line x1="987.7" y1="848.9" x2="991.9" y2="851.4" stroke="#ee4123" stroke-width="3.6"/><line x1="982.2" y1="848.6" x2="985.9" y2="851.5" stroke="#ee4123" stroke-width="3.6"/><line x1="1006.7" y1="862.5" x2="1012.3" y2="865.6" stroke="#ee4123" stroke-width="3.6"/><polyline points="921.7,809.4 957.5,831.0 993.4,848.9 1036.4,861.4" fill="none" stroke="#ee4123" stroke-width="3.6" stroke-linejoin="round" stroke-linecap="round" /><line x1="950.6" y1="828.0" x2="956.0" y2="831.4" stroke="#ee4123" stroke-width="3.2"/><line x1="951.4" y1="829.7" x2="958.1" y2="833.4" stroke="#ee4123" stroke-width="3.2"/><line x1="973.9" y1="840.3" x2="978.7" y2="842.2" stroke="#ee4123" stroke-width="3.2"/><line x1="982.4" y1="842.2" x2="989.2" y2="846.8" stroke="#ee4123" stroke-width="3.2"/><line x1="1001.4" y1="852.2" x2="1006.2" y2="853.2" stroke="#ee4123" stroke-width="3.2"/><line x1="1029.7" y1="861.1" x2="1034.5" y2="863.2" stroke="#ee4123" stroke-width="3.2"/><line x1="1007.3" y1="851.1" x2="1014.7" y2="853.0" stroke="#ee4123" stroke-width="3.2"/><polyline points="1032.8,820.2 1050.7,834.5 1065.0,848.9 1079.4,865.0" fill="none" stroke="#ee4123" stroke-width="3.6" stroke-linejoin="round" stroke-linecap="round" /><line x1="1034.9" y1="821.1" x2="1038.8" y2="824.9" stroke="#ee4123" stroke-width="3.2"/><line x1="1059.5" y1="842.4" x2="1062.2" y2="845.4" stroke="#ee4123" stroke-width="3.2"/><line x1="1071.0" y1="856.2" x2="1074.4" y2="859.9" stroke="#ee4123" stroke-width="3.2"/><polyline points="1015.0,826.0 1035.0,838.0 1052.0,852.0" fill="none" stroke="#ee4123" stroke-width="3.2" stroke-linejoin="round" stroke-linecap="round" /><line x1="1034.9" y1="836.0" x2="1040.8" y2="839.3" stroke="#ee4123" stroke-width="2.9"/><line x1="1038.5" y1="843.1" x2="1041.9" y2="846.2" stroke="#ee4123" stroke-width="2.9"/><polyline points="914.5,886.5 943.2,881.1 975.4,874.0 1011.3,866.8 1047.1,866.0 1079.4,868.6 1108.0,877.5 1136.7,888.3 1165.4,899.0 1194.0,911.6 1226.3,924.0 1255.0,931.3 1283.7,933.0 1301.6,927.7 1316.0,927.7 1330.3,934.9" fill="none" stroke="#ee4123" stroke-width="4.2" stroke-linejoin="round" stroke-linecap="round" /><line x1="940.4" y1="881.1" x2="948.7" y2="878.4" stroke="#ee4123" stroke-width="3.8"/><line x1="936.8" y1="883.1" x2="942.2" y2="882.5" stroke="#ee4123" stroke-width="3.8"/><line x1="964.4" y1="877.6" x2="969.7" y2="876.9" stroke="#ee4123" stroke-width="3.8"/><line x1="973.9" y1="872.6" x2="980.5" y2="871.5" stroke="#ee4123" stroke-width="3.8"/><line x1="993.3" y1="871.2" x2="1000.7" y2="869.4" stroke="#ee4123" stroke-width="3.8"/><line x1="995.9" y1="870.5" x2="1002.8" y2="868.4" stroke="#ee4123" stroke-width="3.8"/><line x1="1017.9" y1="865.0" x2="1025.1" y2="865.7" stroke="#ee4123" stroke-width="3.8"/><line x1="1044.8" y1="867.0" x2="1050.4" y2="866.3" stroke="#ee4123" stroke-width="3.8"/><line x1="1066.4" y1="867.4" x2="1073.6" y2="868.1" stroke="#ee4123" stroke-width="3.8"/><line x1="1057.2" y1="867.8" x2="1061.6" y2="867.7" stroke="#ee4123" stroke-width="3.8"/><line x1="1101.2" y1="874.7" x2="1108.5" y2="877.1" stroke="#ee4123" stroke-width="3.8"/><line x1="1087.5" y1="869.0" x2="1095.6" y2="871.2" stroke="#ee4123" stroke-width="3.8"/><line x1="1122.7" y1="882.3" x2="1130.2" y2="884.5" stroke="#ee4123" stroke-width="3.8"/><line x1="1117.2" y1="882.2" x2="1123.5" y2="884.4" stroke="#ee4123" stroke-width="3.8"/><line x1="1147.3" y1="891.2" x2="1151.4" y2="893.2" stroke="#ee4123" stroke-width="3.8"/><line x1="1139.3" y1="890.3" x2="1147.0" y2="892.2" stroke="#ee4123" stroke-width="3.8"/><line x1="1170.3" y1="902.3" x2="1176.1" y2="904.3" stroke="#ee4123" stroke-width="3.8"/><line x1="1189.5" y1="907.9" x2="1195.6" y2="911.2" stroke="#ee4123" stroke-width="3.8"/><line x1="1206.8" y1="916.8" x2="1213.2" y2="918.6" stroke="#ee4123" stroke-width="3.8"/><line x1="1201.1" y1="912.1" x2="1208.7" y2="914.4" stroke="#ee4123" stroke-width="3.8"/><line x1="1249.5" y1="929.4" x2="1257.7" y2="932.5" stroke="#ee4123" stroke-width="3.8"/><line x1="1241.6" y1="930.1" x2="1248.5" y2="932.0" stroke="#ee4123" stroke-width="3.8"/><line x1="1274.7" y1="932.4" x2="1283.0" y2="932.4" stroke="#ee4123" stroke-width="3.8"/><line x1="1272.1" y1="933.5" x2="1276.1" y2="934.0" stroke="#ee4123" stroke-width="3.8"/><line x1="1295.5" y1="929.3" x2="1301.8" y2="927.4" stroke="#ee4123" stroke-width="3.8"/><line x1="1304.4" y1="927.7" x2="1308.6" y2="927.7" stroke="#ee4123" stroke-width="3.8"/><line x1="1324.4" y1="934.2" x2="1330.5" y2="937.1" stroke="#ee4123" stroke-width="3.8"/><polyline points="1283.7,933.0 1312.4,945.6 1330.3,947.4" fill="none" stroke="#ee4123" stroke-width="4.0" stroke-linejoin="round" stroke-linecap="round" /><line x1="1309.1" y1="944.8" x2="1316.7" y2="947.1" stroke="#ee4123" stroke-width="3.6"/><line x1="1285.8" y1="931.9" x2="1290.6" y2="933.8" stroke="#ee4123" stroke-width="3.6"/><line x1="1321.7" y1="948.2" x2="1327.1" y2="949.4" stroke="#ee4123" stroke-width="3.6"/><polyline points="1147.5,892.0 1161.8,913.4 1183.3,924.0" fill="none" stroke="#ee4123" stroke-width="3.6" stroke-linejoin="round" stroke-linecap="round" /><line x1="1157.1" y1="907.2" x2="1162.4" y2="913.5" stroke="#ee4123" stroke-width="3.2"/><line x1="1182.1" y1="922.6" x2="1188.7" y2="926.5" stroke="#ee4123" stroke-width="3.2"/><polyline points="1010.0,798.0 1030.0,797.0" fill="none" stroke="#ee4123" stroke-width="4.5" stroke-linejoin="round" stroke-linecap="round" /><line x1="1026.2" y1="796.9" x2="1034.4" y2="797.6" stroke="#ee4123" stroke-width="4.0"/><polyline points="300.0,1715.0 320.0,1722.0 344.5,1724.0 360.0,1730.0 387.5,1734.5 430.5,1740.0 460.0,1739.0 495.0,1734.5 530.0,1731.0 559.6,1727.0 580.0,1722.0 602.6,1716.5 620.0,1711.0 638.4,1707.6 667.0,1706.0 690.0,1712.5 718.7,1723.3 747.3,1732.3 776.0,1744.8 808.3,1753.8 840.5,1759.0 869.2,1762.7" fill="none" stroke="#ee4123" stroke-width="3.0" stroke-linejoin="round" stroke-linecap="round" /><line x1="315.8" y1="1718.4" x2="320.1" y2="1719.9" stroke="#ee4123" stroke-width="2.7"/><line x1="321.9" y1="1722.1" x2="326.7" y2="1722.1" stroke="#ee4123" stroke-width="2.7"/><line x1="355.1" y1="1728.8" x2="360.8" y2="1731.1" stroke="#ee4123" stroke-width="2.7"/><line x1="368.4" y1="1730.9" x2="376.1" y2="1732.1" stroke="#ee4123" stroke-width="2.7"/><line x1="395.4" y1="1734.9" x2="402.8" y2="1736.8" stroke="#ee4123" stroke-width="2.7"/><line x1="403.6" y1="1735.3" x2="410.5" y2="1736.3" stroke="#ee4123" stroke-width="2.7"/><line x1="387.7" y1="1732.9" x2="395.6" y2="1733.3" stroke="#ee4123" stroke-width="2.7"/><line x1="443.9" y1="1738.1" x2="448.9" y2="1737.5" stroke="#ee4123" stroke-width="2.7"/><line x1="442.2" y1="1737.9" x2="446.3" y2="1737.3" stroke="#ee4123" stroke-width="2.7"/><line x1="465.6" y1="1736.2" x2="469.9" y2="1735.6" stroke="#ee4123" stroke-width="2.7"/><line x1="475.4" y1="1735.0" x2="482.8" y2="1733.9" stroke="#ee4123" stroke-width="2.7"/><line x1="509.4" y1="1735.1" x2="513.5" y2="1734.6" stroke="#ee4123" stroke-width="2.7"/><line x1="502.3" y1="1732.3" x2="508.6" y2="1730.9" stroke="#ee4123" stroke-width="2.7"/><line x1="548.1" y1="1726.6" x2="552.6" y2="1725.7" stroke="#ee4123" stroke-width="2.7"/><line x1="551.5" y1="1727.9" x2="559.3" y2="1726.3" stroke="#ee4123" stroke-width="2.7"/><line x1="578.3" y1="1721.4" x2="583.3" y2="1719.8" stroke="#ee4123" stroke-width="2.7"/><line x1="598.1" y1="1715.8" x2="603.7" y2="1714.6" stroke="#ee4123" stroke-width="2.7"/><line x1="614.1" y1="1710.6" x2="621.0" y2="1709.4" stroke="#ee4123" stroke-width="2.7"/><line x1="619.9" y1="1709.0" x2="624.6" y2="1707.5" stroke="#ee4123" stroke-width="2.7"/><line x1="639.9" y1="1706.2" x2="648.4" y2="1706.1" stroke="#ee4123" stroke-width="2.7"/><line x1="666.4" y1="1707.9" x2="674.4" y2="1707.4" stroke="#ee4123" stroke-width="2.7"/><line x1="688.6" y1="1712.6" x2="694.0" y2="1713.3" stroke="#ee4123" stroke-width="2.7"/><line x1="716.8" y1="1724.2" x2="722.1" y2="1725.5" stroke="#ee4123" stroke-width="2.7"/><line x1="693.0" y1="1714.5" x2="698.4" y2="1716.3" stroke="#ee4123" stroke-width="2.7"/><line x1="745.0" y1="1732.7" x2="752.6" y2="1734.2" stroke="#ee4123" stroke-width="2.7"/><line x1="742.8" y1="1730.2" x2="751.0" y2="1733.0" stroke="#ee4123" stroke-width="2.7"/><line x1="759.2" y1="1737.4" x2="766.7" y2="1740.0" stroke="#ee4123" stroke-width="2.7"/><line x1="754.9" y1="1736.1" x2="762.1" y2="1738.4" stroke="#ee4123" stroke-width="2.7"/><line x1="799.3" y1="1749.7" x2="805.6" y2="1751.2" stroke="#ee4123" stroke-width="2.7"/><line x1="798.8" y1="1752.3" x2="805.1" y2="1753.1" stroke="#ee4123" stroke-width="2.7"/><line x1="830.1" y1="1758.8" x2="835.2" y2="1759.0" stroke="#ee4123" stroke-width="2.7"/><line x1="829.0" y1="1756.9" x2="837.1" y2="1759.2" stroke="#ee4123" stroke-width="2.7"/><line x1="866.4" y1="1761.8" x2="871.9" y2="1762.9" stroke="#ee4123" stroke-width="2.7"/><line x1="842.7" y1="1757.5" x2="851.5" y2="1758.4" stroke="#ee4123" stroke-width="2.7"/><polyline points="584.6,1670.0 609.7,1673.5 624.0,1688.0 633.0,1706.0" fill="none" stroke="#ee4123" stroke-width="2.8" stroke-linejoin="round" stroke-linecap="round" /><line x1="598.9" y1="1672.6" x2="603.3" y2="1672.7" stroke="#ee4123" stroke-width="2.5"/><line x1="612.8" y1="1677.5" x2="616.5" y2="1680.4" stroke="#ee4123" stroke-width="2.5"/><line x1="627.6" y1="1699.7" x2="630.5" y2="1703.9" stroke="#ee4123" stroke-width="2.5"/><polyline points="595.0,1680.0 615.0,1690.0 628.0,1700.0" fill="none" stroke="#ee4123" stroke-width="2.4" stroke-linejoin="round" stroke-linecap="round" /><line x1="598.8" y1="1683.3" x2="604.2" y2="1686.1" stroke="#ee4123" stroke-width="2.2"/><line x1="623.8" y1="1695.0" x2="628.7" y2="1699.5" stroke="#ee4123" stroke-width="2.2"/><polyline points="686.8,1727.0 708.0,1725.8 725.8,1730.5 754.5,1735.8 772.4,1744.8 797.5,1752.0 833.4,1761.0 837.0,1764.5 869.2,1764.5 905.0,1766.3 941.0,1764.5 966.0,1757.3 994.7,1750.2 1030.5,1744.8 1048.4,1742.3" fill="none" stroke="#ee4123" stroke-width="3.0" stroke-linejoin="round" stroke-linecap="round" /><line x1="690.3" y1="1725.1" x2="698.2" y2="1723.6" stroke="#ee4123" stroke-width="2.7"/><line x1="707.8" y1="1727.5" x2="712.4" y2="1729.4" stroke="#ee4123" stroke-width="2.7"/><line x1="728.0" y1="1732.4" x2="733.1" y2="1733.3" stroke="#ee4123" stroke-width="2.7"/><line x1="743.1" y1="1735.4" x2="750.7" y2="1737.1" stroke="#ee4123" stroke-width="2.7"/><line x1="761.5" y1="1737.4" x2="767.0" y2="1740.4" stroke="#ee4123" stroke-width="2.7"/><line x1="793.8" y1="1749.6" x2="801.5" y2="1752.0" stroke="#ee4123" stroke-width="2.7"/><line x1="817.3" y1="1755.0" x2="824.7" y2="1756.8" stroke="#ee4123" stroke-width="2.7"/><line x1="809.9" y1="1755.3" x2="814.1" y2="1756.4" stroke="#ee4123" stroke-width="2.7"/><line x1="860.7" y1="1765.0" x2="867.9" y2="1764.8" stroke="#ee4123" stroke-width="2.7"/><line x1="843.9" y1="1763.8" x2="852.8" y2="1763.4" stroke="#ee4123" stroke-width="2.7"/><line x1="884.5" y1="1763.8" x2="889.6" y2="1763.4" stroke="#ee4123" stroke-width="2.7"/><line x1="902.3" y1="1768.3" x2="910.6" y2="1769.3" stroke="#ee4123" stroke-width="2.7"/><line x1="927.1" y1="1764.8" x2="933.7" y2="1765.4" stroke="#ee4123" stroke-width="2.7"/><line x1="939.1" y1="1764.5" x2="947.9" y2="1765.1" stroke="#ee4123" stroke-width="2.7"/><line x1="960.9" y1="1760.7" x2="969.5" y2="1758.0" stroke="#ee4123" stroke-width="2.7"/><line x1="974.2" y1="1753.5" x2="979.1" y2="1752.9" stroke="#ee4123" stroke-width="2.7"/><line x1="986.9" y1="1752.8" x2="993.2" y2="1750.8" stroke="#ee4123" stroke-width="2.7"/><line x1="996.1" y1="1749.7" x2="1001.5" y2="1749.3" stroke="#ee4123" stroke-width="2.7"/><line x1="1007.0" y1="1747.4" x2="1014.7" y2="1746.8" stroke="#ee4123" stroke-width="2.7"/><line x1="1032.0" y1="1742.7" x2="1037.9" y2="1741.5" stroke="#ee4123" stroke-width="2.7"/><polyline points="869.2,1761.0 905.0,1750.2 941.0,1739.4 976.7,1732.3 994.7,1726.9 1012.6,1721.5 1034.0,1718.6 1055.6,1719.7" fill="none" stroke="#ee4123" stroke-width="3.0" stroke-linejoin="round" stroke-linecap="round" /><line x1="875.1" y1="1761.4" x2="882.5" y2="1759.8" stroke="#ee4123" stroke-width="2.7"/><line x1="904.0" y1="1749.0" x2="909.8" y2="1747.9" stroke="#ee4123" stroke-width="2.7"/><line x1="916.3" y1="1747.0" x2="922.6" y2="1745.0" stroke="#ee4123" stroke-width="2.7"/><line x1="917.9" y1="1746.2" x2="923.3" y2="1745.2" stroke="#ee4123" stroke-width="2.7"/><line x1="972.5" y1="1732.0" x2="978.0" y2="1731.4" stroke="#ee4123" stroke-width="2.7"/><line x1="969.8" y1="1733.8" x2="974.2" y2="1732.2" stroke="#ee4123" stroke-width="2.7"/><line x1="985.8" y1="1728.2" x2="989.8" y2="1726.6" stroke="#ee4123" stroke-width="2.7"/><line x1="1008.9" y1="1723.9" x2="1017.3" y2="1721.3" stroke="#ee4123" stroke-width="2.7"/><line x1="1033.0" y1="1716.6" x2="1037.7" y2="1715.3" stroke="#ee4123" stroke-width="2.7"/><line x1="1043.3" y1="1719.3" x2="1047.6" y2="1719.3" stroke="#ee4123" stroke-width="2.7"/><polyline points="941.0,1743.0 969.6,1744.8 994.7,1748.4" fill="none" stroke="#ee4123" stroke-width="2.6" stroke-linejoin="round" stroke-linecap="round" /><line x1="943.7" y1="1744.5" x2="948.9" y2="1744.5" stroke="#ee4123" stroke-width="2.3"/><line x1="953.0" y1="1743.4" x2="957.2" y2="1743.4" stroke="#ee4123" stroke-width="2.3"/><line x1="985.1" y1="1748.4" x2="993.5" y2="1750.1" stroke="#ee4123" stroke-width="2.3"/><polyline points="718.7,1723.3 736.6,1744.8" fill="none" stroke="#ee4123" stroke-width="2.6" stroke-linejoin="round" stroke-linecap="round" /><line x1="722.2" y1="1729.5" x2="727.9" y2="1734.9" stroke="#ee4123" stroke-width="2.3"/><polyline points="776.0,1744.8 804.7,1762.7" fill="none" stroke="#ee4123" stroke-width="2.6" stroke-linejoin="round" stroke-linecap="round" /><line x1="791.2" y1="1753.1" x2="796.5" y2="1757.3" stroke="#ee4123" stroke-width="2.3"/><line x1="780.1" y1="1749.4" x2="786.8" y2="1752.3" stroke="#ee4123" stroke-width="2.3"/><polyline points="1059.0,1743.0 1070.0,1737.6 1080.7,1733.0 1105.8,1734.0 1127.3,1737.6 1145.0,1748.4 1163.0,1748.4" fill="none" stroke="#ee4123" stroke-width="3.0" stroke-linejoin="round" stroke-linecap="round" /><line x1="1103.4" y1="1735.8" x2="1110.7" y2="1736.0" stroke="#ee4123" stroke-width="2.7"/><line x1="1123.3" y1="1737.0" x2="1129.2" y2="1738.2" stroke="#ee4123" stroke-width="2.7"/><line x1="1129.4" y1="1741.4" x2="1136.0" y2="1744.6" stroke="#ee4123" stroke-width="2.7"/><line x1="1154.8" y1="1748.2" x2="1160.6" y2="1748.0" stroke="#ee4123" stroke-width="2.7"/><polyline points="1127.3,1732.3 1148.8,1731.5 1168.5,1734.0" fill="none" stroke="#ee4123" stroke-width="3.0" stroke-linejoin="round" stroke-linecap="round" /><line x1="1144.5" y1="1730.1" x2="1153.3" y2="1729.7" stroke="#ee4123" stroke-width="2.7"/><line x1="1154.8" y1="1733.8" x2="1160.8" y2="1734.6" stroke="#ee4123" stroke-width="2.7"/><polyline points="345.0,1720.0 352.0,1732.0" fill="none" stroke="#ee4123" stroke-width="2.6" stroke-linejoin="round" stroke-linecap="round" /><polyline points="560.0,1727.0 575.0,1722.0" fill="none" stroke="#ee4123" stroke-width="3" stroke-linejoin="round" stroke-linecap="round" /><line x1="572.0" y1="1720.8" x2="579.0" y2="1719.5" stroke="#ee4123" stroke-width="2.7"/><line x1="319.9" y1="900.2" x2="331.1" y2="899.2" stroke="#ee4123" stroke-width="3.6"/><line x1="332.4" y1="906.4" x2="340.3" y2="907.4" stroke="#ee4123" stroke-width="3.6"/><line x1="335.4" y1="890.7" x2="347.7" y2="890.0" stroke="#ee4123" stroke-width="3.6"/><line x1="327.2" y1="902.5" x2="334.4" y2="902.4" stroke="#ee4123" stroke-width="3.6"/><line x1="340.2" y1="889.5" x2="348.9" y2="885.9" stroke="#ee4123" stroke-width="3.6"/><line x1="328.3" y1="899.8" x2="333.8" y2="901.2" stroke="#ee4123" stroke-width="3.6"/><line x1="333.8" y1="901.3" x2="339.4" y2="899.2" stroke="#ee4123" stroke-width="3.6"/><line x1="339.6" y1="899.7" x2="351.9" y2="896.4" stroke="#ee4123" stroke-width="3.6"/><line x1="321.9" y1="905.6" x2="329.2" y2="906.0" stroke="#ee4123" stroke-width="3.6"/><line x1="337.1" y1="902.0" x2="343.1" y2="903.5" stroke="#ee4123" stroke-width="3.6"/><line x1="338.9" y1="903.3" x2="349.0" y2="904.6" stroke="#ee4123" stroke-width="3.6"/><line x1="335.0" y1="897.0" x2="343.9" y2="892.1" stroke="#ee4123" stroke-width="3.6"/><line x1="334.0" y1="899.3" x2="340.8" y2="893.0" stroke="#ee4123" stroke-width="3.6"/><line x1="337.8" y1="898.6" x2="343.0" y2="898.3" stroke="#ee4123" stroke-width="3.6"/><line x1="455.1" y1="829.3" x2="462.5" y2="826.8" stroke="#ee4123" stroke-width="3.8"/><line x1="479.4" y1="828.2" x2="486.9" y2="825.4" stroke="#ee4123" stroke-width="3.8"/><line x1="430.4" y1="831.3" x2="442.7" y2="828.4" stroke="#ee4123" stroke-width="3.8"/><line x1="435.5" y1="820.2" x2="446.2" y2="818.2" stroke="#ee4123" stroke-width="3.8"/><line x1="461.1" y1="816.9" x2="469.2" y2="820.0" stroke="#ee4123" stroke-width="3.8"/><line x1="418.6" y1="836.4" x2="424.8" y2="831.2" stroke="#ee4123" stroke-width="3.8"/><line x1="437.3" y1="841.2" x2="448.8" y2="838.2" stroke="#ee4123" stroke-width="3.8"/><line x1="431.4" y1="843.1" x2="440.8" y2="840.0" stroke="#ee4123" stroke-width="3.8"/><line x1="437.5" y1="827.1" x2="442.4" y2="825.4" stroke="#ee4123" stroke-width="3.8"/><line x1="452.8" y1="813.9" x2="460.4" y2="808.7" stroke="#ee4123" stroke-width="3.8"/><line x1="475.0" y1="829.5" x2="481.1" y2="825.0" stroke="#ee4123" stroke-width="3.8"/><line x1="452.8" y1="837.3" x2="460.3" y2="839.9" stroke="#ee4123" stroke-width="3.8"/><line x1="432.1" y1="836.5" x2="441.2" y2="830.7" stroke="#ee4123" stroke-width="3.8"/><line x1="435.2" y1="822.0" x2="447.6" y2="818.7" stroke="#ee4123" stroke-width="3.8"/><line x1="460.5" y1="830.4" x2="469.7" y2="821.3" stroke="#ee4123" stroke-width="3.8"/><line x1="447.4" y1="839.7" x2="454.9" y2="843.9" stroke="#ee4123" stroke-width="3.8"/><line x1="418.0" y1="830.8" x2="427.2" y2="831.0" stroke="#ee4123" stroke-width="3.8"/><line x1="424.6" y1="825.2" x2="433.8" y2="823.3" stroke="#ee4123" stroke-width="3.8"/><line x1="439.0" y1="839.8" x2="447.0" y2="839.5" stroke="#ee4123" stroke-width="3.8"/><line x1="420.7" y1="842.8" x2="429.1" y2="839.7" stroke="#ee4123" stroke-width="3.8"/><line x1="442.7" y1="823.6" x2="449.9" y2="826.7" stroke="#ee4123" stroke-width="3.8"/><line x1="423.4" y1="831.6" x2="435.1" y2="835.2" stroke="#ee4123" stroke-width="3.8"/><line x1="472.1" y1="830.4" x2="478.7" y2="831.6" stroke="#ee4123" stroke-width="3.8"/><line x1="426.0" y1="825.6" x2="432.7" y2="825.5" stroke="#ee4123" stroke-width="3.8"/><line x1="455.0" y1="835.1" x2="467.2" y2="833.1" stroke="#ee4123" stroke-width="3.8"/><line x1="441.0" y1="818.4" x2="451.2" y2="816.3" stroke="#ee4123" stroke-width="3.8"/><line x1="454.4" y1="823.0" x2="460.4" y2="824.3" stroke="#ee4123" stroke-width="3.8"/><line x1="423.9" y1="829.2" x2="433.7" y2="828.7" stroke="#ee4123" stroke-width="3.8"/><line x1="456.4" y1="826.7" x2="465.1" y2="824.8" stroke="#ee4123" stroke-width="3.8"/><line x1="406.9" y1="837.1" x2="415.8" y2="835.2" stroke="#ee4123" stroke-width="3.8"/><line x1="426.0" y1="824.6" x2="431.6" y2="823.5" stroke="#ee4123" stroke-width="3.8"/><line x1="428.7" y1="817.8" x2="440.0" y2="813.7" stroke="#ee4123" stroke-width="3.8"/><line x1="432.2" y1="841.3" x2="444.1" y2="838.4" stroke="#ee4123" stroke-width="3.8"/><line x1="472.1" y1="829.5" x2="484.0" y2="828.1" stroke="#ee4123" stroke-width="3.8"/><line x1="437.8" y1="835.3" x2="442.5" y2="838.0" stroke="#ee4123" stroke-width="3.8"/><line x1="467.2" y1="818.2" x2="474.8" y2="812.3" stroke="#ee4123" stroke-width="3.8"/><line x1="447.0" y1="831.8" x2="458.1" y2="837.2" stroke="#ee4123" stroke-width="3.8"/><line x1="432.5" y1="837.6" x2="441.0" y2="841.2" stroke="#ee4123" stroke-width="3.8"/><line x1="440.7" y1="834.9" x2="447.0" y2="828.1" stroke="#ee4123" stroke-width="3.8"/><line x1="427.5" y1="839.9" x2="436.9" y2="834.4" stroke="#ee4123" stroke-width="3.8"/><line x1="512.8" y1="817.7" x2="521.9" y2="821.9" stroke="#ee4123" stroke-width="3.8"/><line x1="510.9" y1="807.7" x2="523.3" y2="806.7" stroke="#ee4123" stroke-width="3.8"/><line x1="508.2" y1="813.7" x2="515.0" y2="816.8" stroke="#ee4123" stroke-width="3.8"/><line x1="490.4" y1="831.1" x2="501.8" y2="828.1" stroke="#ee4123" stroke-width="3.8"/><line x1="526.0" y1="817.0" x2="532.6" y2="818.6" stroke="#ee4123" stroke-width="3.8"/><line x1="492.4" y1="825.9" x2="500.1" y2="824.9" stroke="#ee4123" stroke-width="3.8"/><line x1="502.8" y1="822.1" x2="509.0" y2="823.1" stroke="#ee4123" stroke-width="3.8"/><line x1="507.1" y1="826.1" x2="513.5" y2="825.0" stroke="#ee4123" stroke-width="3.8"/><line x1="481.5" y1="829.6" x2="486.3" y2="825.2" stroke="#ee4123" stroke-width="3.8"/><line x1="489.8" y1="825.8" x2="501.6" y2="824.6" stroke="#ee4123" stroke-width="3.8"/><line x1="481.0" y1="817.3" x2="489.2" y2="815.6" stroke="#ee4123" stroke-width="3.8"/><line x1="485.5" y1="827.5" x2="492.2" y2="823.7" stroke="#ee4123" stroke-width="3.8"/><line x1="471.2" y1="825.6" x2="479.0" y2="822.7" stroke="#ee4123" stroke-width="3.8"/><line x1="519.0" y1="824.4" x2="527.6" y2="821.1" stroke="#ee4123" stroke-width="3.8"/><line x1="473.6" y1="825.5" x2="481.7" y2="816.2" stroke="#ee4123" stroke-width="3.8"/><line x1="517.8" y1="816.5" x2="524.4" y2="816.0" stroke="#ee4123" stroke-width="3.8"/><line x1="499.7" y1="813.7" x2="507.3" y2="807.7" stroke="#ee4123" stroke-width="3.8"/><line x1="496.5" y1="830.2" x2="508.2" y2="830.0" stroke="#ee4123" stroke-width="3.8"/><line x1="495.9" y1="830.8" x2="505.1" y2="828.6" stroke="#ee4123" stroke-width="3.8"/><line x1="478.5" y1="828.4" x2="485.4" y2="827.1" stroke="#ee4123" stroke-width="3.8"/><line x1="476.4" y1="818.4" x2="483.5" y2="821.2" stroke="#ee4123" stroke-width="3.8"/><line x1="509.6" y1="813.0" x2="517.6" y2="814.3" stroke="#ee4123" stroke-width="3.8"/><line x1="489.8" y1="823.6" x2="497.6" y2="816.2" stroke="#ee4123" stroke-width="3.8"/><line x1="491.0" y1="809.3" x2="497.2" y2="808.0" stroke="#ee4123" stroke-width="3.8"/><line x1="490.7" y1="818.9" x2="499.0" y2="822.8" stroke="#ee4123" stroke-width="3.8"/><line x1="517.7" y1="817.9" x2="524.4" y2="817.0" stroke="#ee4123" stroke-width="3.8"/><line x1="505.0" y1="824.0" x2="513.3" y2="822.2" stroke="#ee4123" stroke-width="3.8"/><line x1="514.3" y1="813.3" x2="525.0" y2="809.9" stroke="#ee4123" stroke-width="3.8"/><line x1="483.3" y1="809.5" x2="494.6" y2="809.3" stroke="#ee4123" stroke-width="3.8"/><line x1="519.2" y1="806.9" x2="525.2" y2="806.5" stroke="#ee4123" stroke-width="3.8"/><line x1="520.8" y1="797.6" x2="528.4" y2="796.4" stroke="#ee4123" stroke-width="3.8"/><line x1="526.7" y1="803.7" x2="535.8" y2="804.3" stroke="#ee4123" stroke-width="3.8"/><line x1="522.1" y1="792.7" x2="532.5" y2="794.3" stroke="#ee4123" stroke-width="3.8"/><line x1="517.4" y1="792.6" x2="523.9" y2="789.6" stroke="#ee4123" stroke-width="3.8"/><line x1="528.8" y1="803.3" x2="537.8" y2="798.6" stroke="#ee4123" stroke-width="3.8"/><line x1="513.9" y1="795.5" x2="518.8" y2="790.9" stroke="#ee4123" stroke-width="3.8"/><line x1="502.1" y1="797.7" x2="510.2" y2="792.9" stroke="#ee4123" stroke-width="3.8"/><line x1="529.3" y1="790.4" x2="535.2" y2="787.2" stroke="#ee4123" stroke-width="3.8"/><line x1="534.6" y1="797.5" x2="540.6" y2="799.0" stroke="#ee4123" stroke-width="3.8"/><line x1="505.3" y1="796.7" x2="510.5" y2="791.8" stroke="#ee4123" stroke-width="3.8"/><line x1="520.8" y1="799.4" x2="530.1" y2="794.2" stroke="#ee4123" stroke-width="3.8"/><line x1="498.4" y1="805.1" x2="508.6" y2="806.8" stroke="#ee4123" stroke-width="3.8"/><line x1="523.2" y1="803.3" x2="532.3" y2="798.1" stroke="#ee4123" stroke-width="3.8"/><line x1="528.4" y1="795.4" x2="535.6" y2="792.9" stroke="#ee4123" stroke-width="3.8"/><line x1="533.4" y1="799.6" x2="543.9" y2="795.2" stroke="#ee4123" stroke-width="3.8"/><line x1="506.2" y1="797.0" x2="514.3" y2="794.5" stroke="#ee4123" stroke-width="3.8"/><line x1="525.1" y1="796.5" x2="532.6" y2="792.8" stroke="#ee4123" stroke-width="3.8"/><line x1="513.4" y1="803.6" x2="519.0" y2="794.9" stroke="#ee4123" stroke-width="3.8"/><line x1="524.3" y1="799.6" x2="532.1" y2="799.3" stroke="#ee4123" stroke-width="3.8"/><line x1="506.0" y1="801.3" x2="518.4" y2="797.6" stroke="#ee4123" stroke-width="3.8"/><line x1="424.5" y1="839.0" x2="431.8" y2="834.8" stroke="#ee4123" stroke-width="3.6"/><line x1="427.1" y1="842.9" x2="432.9" y2="842.8" stroke="#ee4123" stroke-width="3.6"/><line x1="407.9" y1="847.6" x2="411.6" y2="839.2" stroke="#ee4123" stroke-width="3.6"/><line x1="413.0" y1="848.3" x2="423.9" y2="841.2" stroke="#ee4123" stroke-width="3.6"/><line x1="415.8" y1="847.5" x2="426.6" y2="848.5" stroke="#ee4123" stroke-width="3.6"/><line x1="431.0" y1="839.7" x2="435.3" y2="837.1" stroke="#ee4123" stroke-width="3.6"/><line x1="424.5" y1="836.7" x2="432.4" y2="830.0" stroke="#ee4123" stroke-width="3.6"/><line x1="413.8" y1="849.5" x2="424.2" y2="844.9" stroke="#ee4123" stroke-width="3.6"/><line x1="412.9" y1="847.1" x2="418.2" y2="848.0" stroke="#ee4123" stroke-width="3.6"/><line x1="427.9" y1="848.9" x2="434.4" y2="843.9" stroke="#ee4123" stroke-width="3.6"/><line x1="549.2" y1="799.0" x2="554.7" y2="797.8" stroke="#ee4123" stroke-width="3.8"/><line x1="537.4" y1="811.9" x2="540.6" y2="807.4" stroke="#ee4123" stroke-width="3.8"/><line x1="569.5" y1="799.5" x2="576.8" y2="801.8" stroke="#ee4123" stroke-width="3.8"/><line x1="538.9" y1="816.7" x2="544.0" y2="815.6" stroke="#ee4123" stroke-width="3.8"/><line x1="552.4" y1="801.8" x2="563.3" y2="800.2" stroke="#ee4123" stroke-width="3.8"/><line x1="563.7" y1="808.9" x2="576.2" y2="806.8" stroke="#ee4123" stroke-width="3.8"/><line x1="561.3" y1="814.5" x2="571.4" y2="812.2" stroke="#ee4123" stroke-width="3.8"/><line x1="576.2" y1="806.1" x2="582.6" y2="806.9" stroke="#ee4123" stroke-width="3.8"/><line x1="558.8" y1="810.5" x2="564.8" y2="804.5" stroke="#ee4123" stroke-width="3.8"/><line x1="541.8" y1="807.8" x2="547.1" y2="808.9" stroke="#ee4123" stroke-width="3.8"/><line x1="552.5" y1="798.0" x2="560.6" y2="797.2" stroke="#ee4123" stroke-width="3.8"/><line x1="566.7" y1="811.7" x2="571.9" y2="810.9" stroke="#ee4123" stroke-width="3.8"/><line x1="561.0" y1="799.8" x2="568.0" y2="794.4" stroke="#ee4123" stroke-width="3.8"/><line x1="541.9" y1="811.4" x2="550.3" y2="813.8" stroke="#ee4123" stroke-width="3.8"/><line x1="550.0" y1="808.3" x2="556.5" y2="807.6" stroke="#ee4123" stroke-width="3.8"/><line x1="558.5" y1="795.9" x2="564.5" y2="795.5" stroke="#ee4123" stroke-width="3.8"/><line x1="568.5" y1="797.9" x2="574.6" y2="795.2" stroke="#ee4123" stroke-width="3.8"/><line x1="534.7" y1="809.8" x2="543.1" y2="809.0" stroke="#ee4123" stroke-width="3.8"/><line x1="557.9" y1="811.8" x2="567.6" y2="814.2" stroke="#ee4123" stroke-width="3.8"/><line x1="570.4" y1="805.5" x2="577.7" y2="795.2" stroke="#ee4123" stroke-width="3.8"/><line x1="547.2" y1="814.7" x2="552.5" y2="812.8" stroke="#ee4123" stroke-width="3.8"/><line x1="558.7" y1="818.7" x2="566.3" y2="817.8" stroke="#ee4123" stroke-width="3.8"/><line x1="670.0" y1="798.7" x2="674.5" y2="793.7" stroke="#ee4123" stroke-width="3.6"/><line x1="612.3" y1="800.4" x2="622.4" y2="800.8" stroke="#ee4123" stroke-width="3.6"/><line x1="646.4" y1="813.1" x2="657.8" y2="811.2" stroke="#ee4123" stroke-width="3.6"/><line x1="641.2" y1="802.6" x2="648.5" y2="800.0" stroke="#ee4123" stroke-width="3.6"/><line x1="647.6" y1="804.2" x2="654.5" y2="799.0" stroke="#ee4123" stroke-width="3.6"/><line x1="620.6" y1="801.3" x2="627.8" y2="802.3" stroke="#ee4123" stroke-width="3.6"/><line x1="655.8" y1="811.0" x2="665.5" y2="807.6" stroke="#ee4123" stroke-width="3.6"/><line x1="649.2" y1="791.9" x2="660.0" y2="795.5" stroke="#ee4123" stroke-width="3.6"/><line x1="646.7" y1="812.6" x2="652.5" y2="811.3" stroke="#ee4123" stroke-width="3.6"/><line x1="634.9" y1="806.4" x2="639.7" y2="800.4" stroke="#ee4123" stroke-width="3.6"/><line x1="636.1" y1="804.8" x2="643.3" y2="795.0" stroke="#ee4123" stroke-width="3.6"/><line x1="669.0" y1="792.0" x2="677.0" y2="794.9" stroke="#ee4123" stroke-width="3.6"/><line x1="606.8" y1="808.7" x2="614.7" y2="807.5" stroke="#ee4123" stroke-width="3.6"/><line x1="638.0" y1="815.5" x2="643.5" y2="808.8" stroke="#ee4123" stroke-width="3.6"/><line x1="628.3" y1="789.0" x2="635.9" y2="788.4" stroke="#ee4123" stroke-width="3.6"/><line x1="610.9" y1="802.7" x2="621.2" y2="799.8" stroke="#ee4123" stroke-width="3.6"/><line x1="656.3" y1="792.7" x2="662.6" y2="791.4" stroke="#ee4123" stroke-width="3.6"/><line x1="671.3" y1="785.9" x2="679.8" y2="782.0" stroke="#ee4123" stroke-width="3.6"/><line x1="656.5" y1="779.5" x2="661.9" y2="779.1" stroke="#ee4123" stroke-width="3.6"/><line x1="660.4" y1="799.7" x2="668.2" y2="792.0" stroke="#ee4123" stroke-width="3.6"/><line x1="674.4" y1="788.7" x2="683.1" y2="792.2" stroke="#ee4123" stroke-width="3.6"/><line x1="647.7" y1="792.6" x2="654.2" y2="791.3" stroke="#ee4123" stroke-width="3.6"/><line x1="651.6" y1="797.9" x2="657.6" y2="795.0" stroke="#ee4123" stroke-width="3.6"/><line x1="672.7" y1="792.9" x2="681.6" y2="786.8" stroke="#ee4123" stroke-width="3.6"/><line x1="620.1" y1="806.9" x2="625.2" y2="801.3" stroke="#ee4123" stroke-width="3.6"/><line x1="660.5" y1="778.5" x2="664.4" y2="775.1" stroke="#ee4123" stroke-width="3.6"/><line x1="610.8" y1="812.2" x2="619.6" y2="809.7" stroke="#ee4123" stroke-width="3.6"/><line x1="663.6" y1="803.2" x2="670.8" y2="802.4" stroke="#ee4123" stroke-width="3.6"/><line x1="651.5" y1="802.7" x2="659.3" y2="800.4" stroke="#ee4123" stroke-width="3.6"/><line x1="628.0" y1="788.5" x2="635.3" y2="785.9" stroke="#ee4123" stroke-width="3.6"/><line x1="659.4" y1="807.0" x2="670.7" y2="801.8" stroke="#ee4123" stroke-width="3.6"/><line x1="610.4" y1="797.1" x2="618.7" y2="800.8" stroke="#ee4123" stroke-width="3.6"/><line x1="668.8" y1="782.3" x2="678.6" y2="777.5" stroke="#ee4123" stroke-width="3.6"/><line x1="665.2" y1="795.4" x2="676.4" y2="798.3" stroke="#ee4123" stroke-width="3.6"/><line x1="653.4" y1="788.4" x2="659.9" y2="782.3" stroke="#ee4123" stroke-width="3.6"/><line x1="656.5" y1="809.4" x2="666.1" y2="805.1" stroke="#ee4123" stroke-width="3.6"/><line x1="643.0" y1="780.7" x2="649.3" y2="782.8" stroke="#ee4123" stroke-width="3.6"/><line x1="655.0" y1="801.0" x2="660.9" y2="797.0" stroke="#ee4123" stroke-width="3.6"/><line x1="673.7" y1="781.8" x2="682.8" y2="779.2" stroke="#ee4123" stroke-width="3.6"/><line x1="626.7" y1="793.1" x2="630.6" y2="789.9" stroke="#ee4123" stroke-width="3.6"/><line x1="705.5" y1="786.6" x2="715.6" y2="787.4" stroke="#ee4123" stroke-width="3.4"/><line x1="729.0" y1="790.6" x2="737.1" y2="794.5" stroke="#ee4123" stroke-width="3.4"/><line x1="699.8" y1="785.9" x2="706.2" y2="784.6" stroke="#ee4123" stroke-width="3.4"/><line x1="722.9" y1="783.7" x2="727.9" y2="783.0" stroke="#ee4123" stroke-width="3.4"/><line x1="722.4" y1="786.1" x2="730.2" y2="784.4" stroke="#ee4123" stroke-width="3.4"/><line x1="700.4" y1="787.8" x2="705.1" y2="785.0" stroke="#ee4123" stroke-width="3.4"/><line x1="723.1" y1="791.6" x2="730.2" y2="790.0" stroke="#ee4123" stroke-width="3.4"/><line x1="726.8" y1="781.4" x2="733.0" y2="781.0" stroke="#ee4123" stroke-width="3.4"/><line x1="715.3" y1="780.4" x2="723.5" y2="779.6" stroke="#ee4123" stroke-width="3.4"/><line x1="717.9" y1="784.2" x2="726.9" y2="775.8" stroke="#ee4123" stroke-width="3.4"/><line x1="711.0" y1="789.7" x2="722.1" y2="787.3" stroke="#ee4123" stroke-width="3.4"/><line x1="719.5" y1="782.6" x2="726.9" y2="786.5" stroke="#ee4123" stroke-width="3.4"/><line x1="729.8" y1="786.0" x2="736.8" y2="787.6" stroke="#ee4123" stroke-width="3.4"/><line x1="708.2" y1="788.1" x2="719.1" y2="788.8" stroke="#ee4123" stroke-width="3.4"/><line x1="899.0" y1="795.2" x2="905.2" y2="798.2" stroke="#ee4123" stroke-width="3.6"/><line x1="881.6" y1="813.2" x2="887.8" y2="814.3" stroke="#ee4123" stroke-width="3.6"/><line x1="905.7" y1="801.5" x2="914.1" y2="804.3" stroke="#ee4123" stroke-width="3.6"/><line x1="894.1" y1="804.4" x2="900.5" y2="813.4" stroke="#ee4123" stroke-width="3.6"/><line x1="916.7" y1="803.7" x2="920.5" y2="808.7" stroke="#ee4123" stroke-width="3.6"/><line x1="921.0" y1="802.9" x2="926.3" y2="809.1" stroke="#ee4123" stroke-width="3.6"/><line x1="898.8" y1="802.9" x2="908.2" y2="807.1" stroke="#ee4123" stroke-width="3.6"/><line x1="911.7" y1="803.4" x2="923.7" y2="805.6" stroke="#ee4123" stroke-width="3.6"/><line x1="885.9" y1="813.1" x2="892.1" y2="812.3" stroke="#ee4123" stroke-width="3.6"/><line x1="919.2" y1="817.7" x2="929.3" y2="822.1" stroke="#ee4123" stroke-width="3.6"/><line x1="908.5" y1="818.1" x2="913.0" y2="823.0" stroke="#ee4123" stroke-width="3.6"/><line x1="881.1" y1="801.8" x2="887.6" y2="804.6" stroke="#ee4123" stroke-width="3.6"/><line x1="917.8" y1="809.3" x2="923.1" y2="811.9" stroke="#ee4123" stroke-width="3.6"/><line x1="926.5" y1="812.1" x2="937.9" y2="808.9" stroke="#ee4123" stroke-width="3.6"/><line x1="921.4" y1="801.9" x2="928.8" y2="800.4" stroke="#ee4123" stroke-width="3.6"/><line x1="919.1" y1="821.9" x2="930.5" y2="817.2" stroke="#ee4123" stroke-width="3.6"/><line x1="917.1" y1="812.9" x2="922.5" y2="817.2" stroke="#ee4123" stroke-width="3.6"/><line x1="886.2" y1="798.8" x2="895.8" y2="805.2" stroke="#ee4123" stroke-width="3.6"/><line x1="902.2" y1="808.6" x2="908.1" y2="816.1" stroke="#ee4123" stroke-width="3.6"/><line x1="917.6" y1="819.7" x2="926.5" y2="827.0" stroke="#ee4123" stroke-width="3.6"/><line x1="920.1" y1="808.8" x2="925.5" y2="815.7" stroke="#ee4123" stroke-width="3.6"/><line x1="901.1" y1="803.2" x2="905.0" y2="807.7" stroke="#ee4123" stroke-width="3.6"/><line x1="920.6" y1="805.9" x2="927.6" y2="804.3" stroke="#ee4123" stroke-width="3.6"/><line x1="902.4" y1="820.9" x2="907.4" y2="823.0" stroke="#ee4123" stroke-width="3.6"/><line x1="898.3" y1="806.4" x2="905.1" y2="807.4" stroke="#ee4123" stroke-width="3.6"/><line x1="909.8" y1="823.6" x2="915.3" y2="825.1" stroke="#ee4123" stroke-width="3.6"/><line x1="886.8" y1="804.9" x2="897.4" y2="809.7" stroke="#ee4123" stroke-width="3.6"/><line x1="909.5" y1="804.8" x2="913.3" y2="809.3" stroke="#ee4123" stroke-width="3.6"/><line x1="912.4" y1="813.8" x2="923.5" y2="817.6" stroke="#ee4123" stroke-width="3.6"/><line x1="908.6" y1="816.6" x2="917.4" y2="817.4" stroke="#ee4123" stroke-width="3.6"/><line x1="1006.6" y1="863.1" x2="1012.6" y2="867.0" stroke="#ee4123" stroke-width="3.4"/><line x1="1014.9" y1="864.6" x2="1024.6" y2="870.9" stroke="#ee4123" stroke-width="3.4"/><line x1="1009.0" y1="860.1" x2="1018.3" y2="863.9" stroke="#ee4123" stroke-width="3.4"/><line x1="1004.9" y1="847.2" x2="1014.2" y2="854.6" stroke="#ee4123" stroke-width="3.4"/><line x1="985.1" y1="839.8" x2="992.9" y2="845.2" stroke="#ee4123" stroke-width="3.4"/><line x1="1011.8" y1="860.0" x2="1019.7" y2="864.3" stroke="#ee4123" stroke-width="3.4"/><line x1="991.0" y1="849.9" x2="1000.8" y2="850.6" stroke="#ee4123" stroke-width="3.4"/><line x1="997.7" y1="846.7" x2="1003.7" y2="846.3" stroke="#ee4123" stroke-width="3.4"/><line x1="1016.0" y1="854.6" x2="1021.4" y2="860.6" stroke="#ee4123" stroke-width="3.4"/><line x1="984.5" y1="840.2" x2="996.2" y2="844.6" stroke="#ee4123" stroke-width="3.4"/><line x1="1003.4" y1="853.6" x2="1012.3" y2="857.9" stroke="#ee4123" stroke-width="3.4"/><line x1="986.9" y1="854.0" x2="993.8" y2="863.4" stroke="#ee4123" stroke-width="3.4"/><line x1="1005.8" y1="852.8" x2="1010.9" y2="853.1" stroke="#ee4123" stroke-width="3.4"/><line x1="1010.5" y1="859.6" x2="1015.2" y2="861.7" stroke="#ee4123" stroke-width="3.4"/><line x1="1000.1" y1="846.1" x2="1005.7" y2="856.5" stroke="#ee4123" stroke-width="3.4"/><line x1="1000.6" y1="842.1" x2="1005.8" y2="847.9" stroke="#ee4123" stroke-width="3.4"/><line x1="985.8" y1="852.3" x2="994.5" y2="856.5" stroke="#ee4123" stroke-width="3.4"/><line x1="992.9" y1="841.7" x2="997.9" y2="844.4" stroke="#ee4123" stroke-width="3.4"/><line x1="1172.5" y1="907.4" x2="1180.6" y2="908.4" stroke="#ee4123" stroke-width="3.4"/><line x1="1176.0" y1="901.3" x2="1183.5" y2="901.0" stroke="#ee4123" stroke-width="3.4"/><line x1="1190.0" y1="920.4" x2="1202.5" y2="919.0" stroke="#ee4123" stroke-width="3.4"/><line x1="1182.2" y1="919.9" x2="1192.2" y2="922.9" stroke="#ee4123" stroke-width="3.4"/><line x1="1174.4" y1="904.2" x2="1186.6" y2="908.1" stroke="#ee4123" stroke-width="3.4"/><line x1="1188.7" y1="907.9" x2="1199.6" y2="908.6" stroke="#ee4123" stroke-width="3.4"/><line x1="1182.0" y1="918.7" x2="1188.5" y2="927.9" stroke="#ee4123" stroke-width="3.4"/><line x1="1189.3" y1="908.8" x2="1196.8" y2="908.6" stroke="#ee4123" stroke-width="3.4"/><line x1="1197.1" y1="916.5" x2="1201.0" y2="922.4" stroke="#ee4123" stroke-width="3.4"/><line x1="1201.0" y1="924.4" x2="1209.8" y2="928.3" stroke="#ee4123" stroke-width="3.4"/><line x1="1172.1" y1="907.5" x2="1181.6" y2="912.4" stroke="#ee4123" stroke-width="3.4"/><line x1="1179.6" y1="912.1" x2="1188.0" y2="917.0" stroke="#ee4123" stroke-width="3.4"/><line x1="1195.1" y1="911.6" x2="1206.7" y2="915.1" stroke="#ee4123" stroke-width="3.4"/><line x1="1207.7" y1="925.7" x2="1213.5" y2="933.7" stroke="#ee4123" stroke-width="3.4"/><line x1="1203.6" y1="918.5" x2="1208.5" y2="919.9" stroke="#ee4123" stroke-width="3.4"/><line x1="1169.0" y1="910.9" x2="1180.0" y2="914.8" stroke="#ee4123" stroke-width="3.4"/><line x1="504.2" y1="814.1" x2="511.9" y2="812.7" stroke="#ee4123" stroke-width="3.8"/><line x1="539.9" y1="809.5" x2="547.2" y2="807.9" stroke="#ee4123" stroke-width="3.8"/><line x1="505.2" y1="814.0" x2="510.2" y2="808.2" stroke="#ee4123" stroke-width="3.8"/><line x1="519.1" y1="818.7" x2="531.5" y2="817.3" stroke="#ee4123" stroke-width="3.8"/><line x1="520.3" y1="819.0" x2="525.7" y2="817.7" stroke="#ee4123" stroke-width="3.8"/><line x1="541.6" y1="812.7" x2="553.2" y2="808.6" stroke="#ee4123" stroke-width="3.8"/><line x1="539.0" y1="821.8" x2="547.4" y2="823.0" stroke="#ee4123" stroke-width="3.8"/><line x1="538.3" y1="816.7" x2="543.1" y2="814.9" stroke="#ee4123" stroke-width="3.8"/><line x1="513.7" y1="829.2" x2="517.7" y2="823.7" stroke="#ee4123" stroke-width="3.8"/><line x1="526.2" y1="818.5" x2="537.4" y2="815.0" stroke="#ee4123" stroke-width="3.8"/><line x1="534.2" y1="824.2" x2="541.5" y2="821.8" stroke="#ee4123" stroke-width="3.8"/><line x1="525.3" y1="813.7" x2="537.0" y2="814.6" stroke="#ee4123" stroke-width="3.8"/><line x1="534.4" y1="818.2" x2="541.5" y2="816.2" stroke="#ee4123" stroke-width="3.8"/><line x1="517.4" y1="826.9" x2="523.7" y2="824.9" stroke="#ee4123" stroke-width="3.8"/><line x1="537.8" y1="806.4" x2="542.7" y2="800.7" stroke="#ee4123" stroke-width="3.8"/><line x1="532.3" y1="823.5" x2="540.0" y2="816.3" stroke="#ee4123" stroke-width="3.8"/><line x1="531.0" y1="825.9" x2="541.9" y2="824.4" stroke="#ee4123" stroke-width="3.8"/><line x1="523.8" y1="814.2" x2="530.4" y2="816.5" stroke="#ee4123" stroke-width="3.8"/><line x1="516.4" y1="825.1" x2="528.1" y2="821.7" stroke="#ee4123" stroke-width="3.8"/><line x1="516.6" y1="825.7" x2="525.8" y2="816.5" stroke="#ee4123" stroke-width="3.8"/><line x1="533.5" y1="805.4" x2="540.5" y2="804.2" stroke="#ee4123" stroke-width="3.8"/><line x1="526.9" y1="828.0" x2="533.4" y2="829.1" stroke="#ee4123" stroke-width="3.8"/><line x1="504.9" y1="830.9" x2="510.6" y2="829.3" stroke="#ee4123" stroke-width="3.8"/><line x1="529.9" y1="823.3" x2="534.8" y2="821.0" stroke="#ee4123" stroke-width="3.8"/><line x1="541.2" y1="812.5" x2="552.7" y2="808.4" stroke="#ee4123" stroke-width="3.8"/><line x1="509.7" y1="822.6" x2="517.2" y2="822.1" stroke="#ee4123" stroke-width="3.8"/><line x1="585.3" y1="800.2" x2="591.0" y2="795.4" stroke="#ee4123" stroke-width="3.6"/><line x1="630.2" y1="801.2" x2="637.1" y2="801.4" stroke="#ee4123" stroke-width="3.6"/><line x1="640.9" y1="823.1" x2="646.3" y2="820.9" stroke="#ee4123" stroke-width="3.6"/><line x1="627.9" y1="809.7" x2="635.1" y2="812.1" stroke="#ee4123" stroke-width="3.6"/><line x1="602.7" y1="817.0" x2="608.6" y2="817.5" stroke="#ee4123" stroke-width="3.6"/><line x1="619.3" y1="795.6" x2="625.5" y2="795.6" stroke="#ee4123" stroke-width="3.6"/><line x1="617.8" y1="825.4" x2="628.4" y2="825.0" stroke="#ee4123" stroke-width="3.6"/><line x1="616.0" y1="815.2" x2="624.1" y2="820.1" stroke="#ee4123" stroke-width="3.6"/><line x1="632.4" y1="805.0" x2="640.2" y2="805.5" stroke="#ee4123" stroke-width="3.6"/><line x1="629.9" y1="813.6" x2="639.7" y2="813.9" stroke="#ee4123" stroke-width="3.6"/><line x1="624.6" y1="809.5" x2="635.1" y2="816.6" stroke="#ee4123" stroke-width="3.6"/><line x1="618.6" y1="829.0" x2="628.7" y2="829.2" stroke="#ee4123" stroke-width="3.6"/><line x1="639.9" y1="810.4" x2="648.4" y2="803.4" stroke="#ee4123" stroke-width="3.6"/><line x1="590.0" y1="817.9" x2="599.0" y2="822.5" stroke="#ee4123" stroke-width="3.6"/><line x1="612.4" y1="791.0" x2="619.6" y2="794.0" stroke="#ee4123" stroke-width="3.6"/><line x1="614.5" y1="788.4" x2="621.6" y2="788.7" stroke="#ee4123" stroke-width="3.6"/><line x1="606.5" y1="825.6" x2="613.5" y2="819.1" stroke="#ee4123" stroke-width="3.6"/><line x1="615.3" y1="798.9" x2="621.6" y2="793.0" stroke="#ee4123" stroke-width="3.6"/><line x1="596.2" y1="812.5" x2="600.4" y2="809.1" stroke="#ee4123" stroke-width="3.6"/><line x1="633.5" y1="800.5" x2="640.3" y2="799.0" stroke="#ee4123" stroke-width="3.6"/><line x1="604.7" y1="818.0" x2="613.2" y2="815.6" stroke="#ee4123" stroke-width="3.6"/><line x1="601.9" y1="798.9" x2="609.0" y2="802.7" stroke="#ee4123" stroke-width="3.6"/><line x1="608.7" y1="797.5" x2="615.3" y2="791.2" stroke="#ee4123" stroke-width="3.6"/><line x1="626.3" y1="823.3" x2="633.6" y2="821.6" stroke="#ee4123" stroke-width="3.6"/><line x1="623.8" y1="809.2" x2="630.6" y2="804.7" stroke="#ee4123" stroke-width="3.6"/><line x1="606.9" y1="822.5" x2="611.9" y2="821.0" stroke="#ee4123" stroke-width="3.6"/><line x1="606.7" y1="824.3" x2="615.1" y2="824.7" stroke="#ee4123" stroke-width="3.6"/><line x1="604.6" y1="807.4" x2="610.4" y2="806.5" stroke="#ee4123" stroke-width="3.6"/><line x1="641.4" y1="796.4" x2="650.1" y2="792.8" stroke="#ee4123" stroke-width="3.6"/><line x1="597.3" y1="796.7" x2="603.5" y2="798.9" stroke="#ee4123" stroke-width="3.6"/><line x1="592.5" y1="803.3" x2="603.7" y2="802.9" stroke="#ee4123" stroke-width="3.6"/><line x1="596.0" y1="805.6" x2="603.9" y2="804.6" stroke="#ee4123" stroke-width="3.6"/><line x1="630.1" y1="802.2" x2="638.4" y2="802.3" stroke="#ee4123" stroke-width="3.6"/><line x1="629.5" y1="799.7" x2="641.2" y2="802.7" stroke="#ee4123" stroke-width="3.6"/><line x1="594.2" y1="817.2" x2="600.8" y2="812.9" stroke="#ee4123" stroke-width="3.6"/><line x1="595.2" y1="828.2" x2="607.1" y2="825.4" stroke="#ee4123" stroke-width="3.6"/><line x1="622.6" y1="810.8" x2="631.7" y2="809.5" stroke="#ee4123" stroke-width="3.6"/><line x1="608.2" y1="794.0" x2="619.4" y2="790.7" stroke="#ee4123" stroke-width="3.6"/><line x1="625.8" y1="828.7" x2="632.2" y2="824.9" stroke="#ee4123" stroke-width="3.6"/><line x1="594.7" y1="825.2" x2="602.0" y2="821.5" stroke="#ee4123" stroke-width="3.6"/><line x1="621.4" y1="797.1" x2="627.1" y2="800.9" stroke="#ee4123" stroke-width="3.6"/><line x1="628.5" y1="804.8" x2="639.4" y2="802.2" stroke="#ee4123" stroke-width="3.6"/><line x1="614.0" y1="831.3" x2="624.7" y2="835.0" stroke="#ee4123" stroke-width="3.6"/><line x1="590.7" y1="814.8" x2="598.7" y2="813.9" stroke="#ee4123" stroke-width="3.6"/><line x1="618.3" y1="824.8" x2="625.2" y2="826.5" stroke="#ee4123" stroke-width="3.6"/><line x1="611.7" y1="788.3" x2="617.8" y2="788.3" stroke="#ee4123" stroke-width="3.6"/><line x1="635.2" y1="804.0" x2="645.9" y2="804.4" stroke="#ee4123" stroke-width="3.6"/><line x1="640.4" y1="798.0" x2="649.6" y2="801.3" stroke="#ee4123" stroke-width="3.6"/><line x1="605.1" y1="806.1" x2="615.1" y2="798.6" stroke="#ee4123" stroke-width="3.6"/><line x1="587.7" y1="805.7" x2="598.1" y2="799.9" stroke="#ee4123" stroke-width="3.6"/><line x1="639.9" y1="825.5" x2="648.9" y2="817.0" stroke="#ee4123" stroke-width="3.4"/><line x1="649.7" y1="814.9" x2="657.1" y2="813.7" stroke="#ee4123" stroke-width="3.4"/><line x1="652.9" y1="832.9" x2="659.4" y2="829.4" stroke="#ee4123" stroke-width="3.4"/><line x1="660.6" y1="828.3" x2="665.7" y2="824.7" stroke="#ee4123" stroke-width="3.4"/><line x1="647.9" y1="820.1" x2="653.5" y2="820.3" stroke="#ee4123" stroke-width="3.4"/><line x1="650.2" y1="829.9" x2="662.0" y2="827.9" stroke="#ee4123" stroke-width="3.4"/><line x1="638.9" y1="821.7" x2="650.0" y2="822.7" stroke="#ee4123" stroke-width="3.4"/><line x1="657.5" y1="813.5" x2="665.3" y2="808.4" stroke="#ee4123" stroke-width="3.4"/><line x1="653.7" y1="820.2" x2="662.6" y2="819.6" stroke="#ee4123" stroke-width="3.4"/><line x1="648.2" y1="818.5" x2="658.8" y2="816.4" stroke="#ee4123" stroke-width="3.4"/><line x1="674.5" y1="812.7" x2="686.7" y2="815.7" stroke="#ee4123" stroke-width="3.4"/><line x1="665.2" y1="828.8" x2="671.7" y2="827.9" stroke="#ee4123" stroke-width="3.4"/><line x1="659.9" y1="821.8" x2="667.6" y2="822.0" stroke="#ee4123" stroke-width="3.4"/><line x1="652.8" y1="822.0" x2="662.1" y2="824.8" stroke="#ee4123" stroke-width="3.4"/><line x1="651.2" y1="830.0" x2="662.0" y2="835.7" stroke="#ee4123" stroke-width="3.4"/><line x1="676.3" y1="818.5" x2="685.4" y2="824.6" stroke="#ee4123" stroke-width="3.4"/><line x1="643.8" y1="823.6" x2="648.5" y2="821.5" stroke="#ee4123" stroke-width="3.4"/><line x1="645.9" y1="820.9" x2="658.3" y2="817.8" stroke="#ee4123" stroke-width="3.4"/><line x1="673.4" y1="820.8" x2="678.6" y2="816.5" stroke="#ee4123" stroke-width="3.4"/><line x1="680.4" y1="818.8" x2="689.5" y2="812.6" stroke="#ee4123" stroke-width="3.4"/><line x1="854.0" y1="824.2" x2="860.9" y2="814.8" stroke="#ee4123" stroke-width="3.8"/><line x1="854.7" y1="816.7" x2="861.4" y2="815.4" stroke="#ee4123" stroke-width="3.8"/><line x1="867.0" y1="832.1" x2="873.0" y2="833.5" stroke="#ee4123" stroke-width="3.8"/><line x1="871.5" y1="806.2" x2="878.4" y2="804.8" stroke="#ee4123" stroke-width="3.8"/><line x1="898.0" y1="806.9" x2="907.6" y2="804.8" stroke="#ee4123" stroke-width="3.8"/><line x1="881.8" y1="804.2" x2="893.0" y2="801.2" stroke="#ee4123" stroke-width="3.8"/><line x1="904.1" y1="810.0" x2="915.6" y2="806.9" stroke="#ee4123" stroke-width="3.8"/><line x1="858.8" y1="812.6" x2="862.7" y2="808.3" stroke="#ee4123" stroke-width="3.8"/><line x1="891.6" y1="807.0" x2="903.0" y2="801.4" stroke="#ee4123" stroke-width="3.8"/><line x1="902.6" y1="816.6" x2="913.6" y2="817.3" stroke="#ee4123" stroke-width="3.8"/><line x1="904.6" y1="809.9" x2="913.3" y2="806.9" stroke="#ee4123" stroke-width="3.8"/><line x1="874.2" y1="813.7" x2="881.5" y2="809.3" stroke="#ee4123" stroke-width="3.8"/><line x1="885.0" y1="822.0" x2="896.3" y2="818.7" stroke="#ee4123" stroke-width="3.8"/><line x1="860.5" y1="825.9" x2="872.1" y2="823.3" stroke="#ee4123" stroke-width="3.8"/><line x1="868.6" y1="824.9" x2="877.2" y2="824.6" stroke="#ee4123" stroke-width="3.8"/><line x1="891.5" y1="797.7" x2="896.6" y2="796.8" stroke="#ee4123" stroke-width="3.8"/><line x1="891.7" y1="825.4" x2="898.7" y2="824.1" stroke="#ee4123" stroke-width="3.8"/><line x1="868.2" y1="806.0" x2="877.8" y2="804.5" stroke="#ee4123" stroke-width="3.8"/><line x1="897.7" y1="818.0" x2="904.8" y2="816.8" stroke="#ee4123" stroke-width="3.8"/><line x1="868.9" y1="818.7" x2="876.1" y2="809.0" stroke="#ee4123" stroke-width="3.8"/><line x1="867.3" y1="827.5" x2="873.4" y2="825.1" stroke="#ee4123" stroke-width="3.8"/><line x1="864.1" y1="824.2" x2="871.8" y2="824.7" stroke="#ee4123" stroke-width="3.8"/><line x1="861.2" y1="819.7" x2="867.1" y2="816.5" stroke="#ee4123" stroke-width="3.8"/><line x1="857.2" y1="822.1" x2="866.2" y2="820.6" stroke="#ee4123" stroke-width="3.8"/><line x1="896.2" y1="815.6" x2="906.6" y2="814.0" stroke="#ee4123" stroke-width="3.8"/><line x1="855.0" y1="817.4" x2="861.3" y2="813.8" stroke="#ee4123" stroke-width="3.8"/><line x1="857.0" y1="828.3" x2="863.4" y2="827.3" stroke="#ee4123" stroke-width="3.8"/><line x1="899.1" y1="802.8" x2="904.4" y2="796.0" stroke="#ee4123" stroke-width="3.8"/><line x1="880.6" y1="802.6" x2="885.5" y2="800.5" stroke="#ee4123" stroke-width="3.8"/><line x1="902.1" y1="809.0" x2="912.7" y2="804.7" stroke="#ee4123" stroke-width="3.8"/><line x1="885.1" y1="817.4" x2="891.4" y2="814.0" stroke="#ee4123" stroke-width="3.8"/><line x1="899.2" y1="816.1" x2="912.1" y2="816.7" stroke="#ee4123" stroke-width="3.8"/><line x1="883.3" y1="809.3" x2="893.4" y2="804.6" stroke="#ee4123" stroke-width="3.8"/><line x1="858.5" y1="814.4" x2="864.3" y2="806.6" stroke="#ee4123" stroke-width="3.8"/><line x1="881.3" y1="818.0" x2="893.4" y2="819.7" stroke="#ee4123" stroke-width="3.8"/><line x1="865.0" y1="817.4" x2="869.7" y2="810.6" stroke="#ee4123" stroke-width="3.8"/><line x1="872.9" y1="806.7" x2="878.7" y2="800.3" stroke="#ee4123" stroke-width="3.8"/><line x1="890.2" y1="800.2" x2="901.2" y2="794.8" stroke="#ee4123" stroke-width="3.8"/><line x1="861.8" y1="821.3" x2="868.0" y2="819.3" stroke="#ee4123" stroke-width="3.8"/><line x1="875.1" y1="826.3" x2="881.6" y2="823.1" stroke="#ee4123" stroke-width="3.8"/><line x1="946.3" y1="822.1" x2="954.6" y2="826.1" stroke="#ee4123" stroke-width="3.4"/><line x1="935.1" y1="824.2" x2="945.9" y2="824.3" stroke="#ee4123" stroke-width="3.4"/><line x1="938.8" y1="826.8" x2="948.6" y2="830.7" stroke="#ee4123" stroke-width="3.4"/><line x1="969.6" y1="836.1" x2="980.5" y2="839.0" stroke="#ee4123" stroke-width="3.4"/><line x1="986.2" y1="839.9" x2="998.6" y2="843.5" stroke="#ee4123" stroke-width="3.4"/><line x1="952.9" y1="822.3" x2="959.3" y2="824.3" stroke="#ee4123" stroke-width="3.4"/><line x1="958.3" y1="831.4" x2="963.4" y2="830.5" stroke="#ee4123" stroke-width="3.4"/><line x1="975.3" y1="839.5" x2="981.3" y2="841.8" stroke="#ee4123" stroke-width="3.4"/><line x1="945.1" y1="829.3" x2="951.0" y2="832.6" stroke="#ee4123" stroke-width="3.4"/><line x1="966.8" y1="837.2" x2="972.8" y2="844.5" stroke="#ee4123" stroke-width="3.4"/><line x1="941.9" y1="829.5" x2="948.6" y2="838.1" stroke="#ee4123" stroke-width="3.4"/><line x1="944.5" y1="831.9" x2="953.0" y2="834.0" stroke="#ee4123" stroke-width="3.4"/><line x1="982.0" y1="832.2" x2="985.3" y2="836.7" stroke="#ee4123" stroke-width="3.4"/><line x1="938.8" y1="823.3" x2="951.2" y2="820.3" stroke="#ee4123" stroke-width="3.4"/><line x1="971.4" y1="834.1" x2="978.4" y2="836.4" stroke="#ee4123" stroke-width="3.4"/><line x1="969.8" y1="831.9" x2="981.2" y2="833.3" stroke="#ee4123" stroke-width="3.4"/><line x1="965.5" y1="824.7" x2="971.6" y2="826.3" stroke="#ee4123" stroke-width="3.4"/><line x1="978.3" y1="829.0" x2="985.6" y2="829.5" stroke="#ee4123" stroke-width="3.4"/><line x1="965.1" y1="832.1" x2="972.5" y2="831.9" stroke="#ee4123" stroke-width="3.4"/><line x1="981.3" y1="831.2" x2="992.2" y2="837.6" stroke="#ee4123" stroke-width="3.4"/><line x1="948.9" y1="825.3" x2="952.5" y2="831.7" stroke="#ee4123" stroke-width="3.4"/><line x1="948.1" y1="823.0" x2="954.4" y2="827.5" stroke="#ee4123" stroke-width="3.4"/><line x1="939.1" y1="825.7" x2="948.4" y2="831.8" stroke="#ee4123" stroke-width="3.4"/><line x1="978.1" y1="841.0" x2="990.2" y2="840.7" stroke="#ee4123" stroke-width="3.4"/><line x1="1018.4" y1="831.2" x2="1026.5" y2="839.8" stroke="#ee4123" stroke-width="3.4"/><line x1="1032.0" y1="852.1" x2="1035.3" y2="861.1" stroke="#ee4123" stroke-width="3.4"/><line x1="1036.9" y1="828.4" x2="1041.4" y2="832.6" stroke="#ee4123" stroke-width="3.4"/><line x1="1037.8" y1="848.0" x2="1045.3" y2="853.1" stroke="#ee4123" stroke-width="3.4"/><line x1="1033.3" y1="838.6" x2="1041.8" y2="844.9" stroke="#ee4123" stroke-width="3.4"/><line x1="1035.8" y1="832.5" x2="1044.2" y2="839.3" stroke="#ee4123" stroke-width="3.4"/><line x1="1037.5" y1="846.2" x2="1041.3" y2="849.5" stroke="#ee4123" stroke-width="3.4"/><line x1="1039.1" y1="847.8" x2="1042.2" y2="853.1" stroke="#ee4123" stroke-width="3.4"/><line x1="1046.5" y1="841.2" x2="1050.5" y2="849.3" stroke="#ee4123" stroke-width="3.4"/><line x1="1026.0" y1="834.2" x2="1029.7" y2="838.7" stroke="#ee4123" stroke-width="3.4"/><line x1="1023.4" y1="849.3" x2="1031.7" y2="856.2" stroke="#ee4123" stroke-width="3.4"/><line x1="1033.2" y1="854.6" x2="1043.0" y2="863.1" stroke="#ee4123" stroke-width="3.4"/><line x1="1036.7" y1="848.5" x2="1048.1" y2="848.6" stroke="#ee4123" stroke-width="3.4"/><line x1="1015.7" y1="838.9" x2="1019.1" y2="842.6" stroke="#ee4123" stroke-width="3.4"/><line x1="1044.2" y1="849.7" x2="1046.0" y2="858.0" stroke="#ee4123" stroke-width="3.4"/><line x1="1034.4" y1="853.0" x2="1040.4" y2="858.7" stroke="#ee4123" stroke-width="3.4"/><line x1="1168.6" y1="908.1" x2="1171.3" y2="913.2" stroke="#ee4123" stroke-width="3.4"/><line x1="1179.5" y1="914.7" x2="1189.0" y2="919.0" stroke="#ee4123" stroke-width="3.4"/><line x1="1148.3" y1="896.0" x2="1158.7" y2="895.5" stroke="#ee4123" stroke-width="3.4"/><line x1="1180.0" y1="905.5" x2="1188.3" y2="906.8" stroke="#ee4123" stroke-width="3.4"/><line x1="1155.4" y1="900.3" x2="1164.8" y2="902.2" stroke="#ee4123" stroke-width="3.4"/><line x1="1178.2" y1="915.1" x2="1185.2" y2="919.6" stroke="#ee4123" stroke-width="3.4"/><line x1="1159.9" y1="901.3" x2="1167.1" y2="905.8" stroke="#ee4123" stroke-width="3.4"/><line x1="1156.1" y1="901.7" x2="1163.6" y2="904.5" stroke="#ee4123" stroke-width="3.4"/><line x1="1152.8" y1="904.1" x2="1158.2" y2="907.3" stroke="#ee4123" stroke-width="3.4"/><line x1="1175.9" y1="917.1" x2="1185.9" y2="923.4" stroke="#ee4123" stroke-width="3.4"/><line x1="1165.2" y1="891.9" x2="1173.0" y2="897.1" stroke="#ee4123" stroke-width="3.4"/><line x1="1172.5" y1="906.2" x2="1177.9" y2="909.6" stroke="#ee4123" stroke-width="3.4"/><line x1="1180.6" y1="903.1" x2="1190.5" y2="908.9" stroke="#ee4123" stroke-width="3.4"/><line x1="1169.7" y1="892.8" x2="1176.1" y2="895.3" stroke="#ee4123" stroke-width="3.4"/><line x1="1168.9" y1="893.9" x2="1177.2" y2="897.7" stroke="#ee4123" stroke-width="3.4"/><line x1="1181.3" y1="908.0" x2="1184.4" y2="916.0" stroke="#ee4123" stroke-width="3.4"/><line x1="1183.6" y1="912.8" x2="1189.2" y2="915.1" stroke="#ee4123" stroke-width="3.4"/><line x1="1172.5" y1="911.9" x2="1180.1" y2="916.5" stroke="#ee4123" stroke-width="3.4"/><line x1="1156.4" y1="898.5" x2="1160.6" y2="903.3" stroke="#ee4123" stroke-width="3.4"/><line x1="1168.5" y1="907.5" x2="1172.8" y2="917.7" stroke="#ee4123" stroke-width="3.4"/><line x1="1303.2" y1="937.8" x2="1312.6" y2="939.8" stroke="#ee4123" stroke-width="3.4"/><line x1="1314.5" y1="935.8" x2="1322.6" y2="938.0" stroke="#ee4123" stroke-width="3.4"/><line x1="1308.6" y1="930.3" x2="1316.9" y2="932.2" stroke="#ee4123" stroke-width="3.4"/><line x1="1305.0" y1="938.4" x2="1316.3" y2="943.4" stroke="#ee4123" stroke-width="3.4"/><line x1="1323.0" y1="944.8" x2="1329.7" y2="947.9" stroke="#ee4123" stroke-width="3.4"/><line x1="1301.0" y1="934.6" x2="1308.6" y2="935.9" stroke="#ee4123" stroke-width="3.4"/><line x1="1312.6" y1="943.9" x2="1320.4" y2="944.7" stroke="#ee4123" stroke-width="3.4"/><line x1="1322.2" y1="941.5" x2="1330.0" y2="944.4" stroke="#ee4123" stroke-width="3.4"/><line x1="1310.6" y1="936.8" x2="1319.9" y2="940.6" stroke="#ee4123" stroke-width="3.4"/><line x1="1310.8" y1="944.4" x2="1315.8" y2="942.7" stroke="#ee4123" stroke-width="3.4"/><line x1="1308.1" y1="934.9" x2="1320.2" y2="935.8" stroke="#ee4123" stroke-width="3.4"/><line x1="1314.8" y1="946.1" x2="1324.5" y2="946.8" stroke="#ee4123" stroke-width="3.4"/><line x1="1323.5" y1="943.4" x2="1333.4" y2="945.3" stroke="#ee4123" stroke-width="3.4"/><line x1="1313.8" y1="936.7" x2="1324.4" y2="938.6" stroke="#ee4123" stroke-width="3.4"/><line x1="861.2" y1="812.2" x2="868.3" y2="812.8" stroke="#ee4123" stroke-width="3.4"/><line x1="884.8" y1="803.5" x2="895.2" y2="810.2" stroke="#ee4123" stroke-width="3.4"/><line x1="871.5" y1="811.7" x2="880.8" y2="804.5" stroke="#ee4123" stroke-width="3.4"/><line x1="885.3" y1="800.8" x2="890.7" y2="803.6" stroke="#ee4123" stroke-width="3.4"/><line x1="878.1" y1="799.6" x2="884.9" y2="795.6" stroke="#ee4123" stroke-width="3.4"/><line x1="869.7" y1="813.9" x2="876.5" y2="814.2" stroke="#ee4123" stroke-width="3.4"/><line x1="880.0" y1="813.4" x2="887.5" y2="815.7" stroke="#ee4123" stroke-width="3.4"/><line x1="883.7" y1="802.2" x2="890.5" y2="803.5" stroke="#ee4123" stroke-width="3.4"/><line x1="880.8" y1="810.0" x2="893.7" y2="810.1" stroke="#ee4123" stroke-width="3.4"/><line x1="878.6" y1="815.0" x2="889.5" y2="814.7" stroke="#ee4123" stroke-width="3.4"/><line x1="886.1" y1="817.0" x2="894.7" y2="811.2" stroke="#ee4123" stroke-width="3.4"/><line x1="880.1" y1="818.5" x2="889.0" y2="812.5" stroke="#ee4123" stroke-width="3.4"/><line x1="861.0" y1="811.2" x2="869.5" y2="810.8" stroke="#ee4123" stroke-width="3.4"/><line x1="864.1" y1="803.2" x2="873.0" y2="803.1" stroke="#ee4123" stroke-width="3.4"/><line x1="415.5" y1="1718.2" x2="422.8" y2="1720.4" stroke="#ee4123" stroke-width="2.6"/><line x1="410.6" y1="1723.9" x2="422.5" y2="1727.3" stroke="#ee4123" stroke-width="2.6"/><line x1="426.8" y1="1723.5" x2="435.2" y2="1719.7" stroke="#ee4123" stroke-width="2.6"/><line x1="415.1" y1="1723.1" x2="425.9" y2="1723.9" stroke="#ee4123" stroke-width="2.6"/><line x1="424.1" y1="1719.8" x2="429.3" y2="1721.0" stroke="#ee4123" stroke-width="2.6"/><line x1="411.0" y1="1717.4" x2="419.4" y2="1718.6" stroke="#ee4123" stroke-width="2.6"/><line x1="414.1" y1="1725.1" x2="420.9" y2="1725.0" stroke="#ee4123" stroke-width="2.6"/><line x1="419.6" y1="1726.2" x2="424.8" y2="1724.5" stroke="#ee4123" stroke-width="2.6"/><line x1="613.8" y1="1718.8" x2="626.0" y2="1716.2" stroke="#ee4123" stroke-width="2.6"/><line x1="618.1" y1="1711.1" x2="626.6" y2="1708.0" stroke="#ee4123" stroke-width="2.6"/><line x1="613.3" y1="1711.6" x2="625.5" y2="1707.5" stroke="#ee4123" stroke-width="2.6"/><line x1="612.2" y1="1716.0" x2="621.3" y2="1717.5" stroke="#ee4123" stroke-width="2.6"/><line x1="614.3" y1="1711.1" x2="621.8" y2="1710.4" stroke="#ee4123" stroke-width="2.6"/><line x1="599.9" y1="1714.3" x2="611.6" y2="1710.4" stroke="#ee4123" stroke-width="2.6"/><line x1="612.4" y1="1718.2" x2="619.8" y2="1720.2" stroke="#ee4123" stroke-width="2.6"/><line x1="611.8" y1="1712.2" x2="618.1" y2="1712.2" stroke="#ee4123" stroke-width="2.6"/><line x1="771.5" y1="1741.8" x2="781.2" y2="1744.8" stroke="#ee4123" stroke-width="2.6"/><line x1="760.8" y1="1734.2" x2="773.5" y2="1736.3" stroke="#ee4123" stroke-width="2.6"/><line x1="756.2" y1="1738.9" x2="765.5" y2="1742.7" stroke="#ee4123" stroke-width="2.6"/><line x1="756.1" y1="1730.2" x2="764.4" y2="1739.3" stroke="#ee4123" stroke-width="2.6"/><line x1="773.7" y1="1739.1" x2="781.2" y2="1743.6" stroke="#ee4123" stroke-width="2.6"/><line x1="752.8" y1="1727.2" x2="758.4" y2="1729.9" stroke="#ee4123" stroke-width="2.6"/><line x1="775.0" y1="1739.1" x2="786.6" y2="1737.3" stroke="#ee4123" stroke-width="2.6"/><line x1="768.6" y1="1732.9" x2="779.5" y2="1736.3" stroke="#ee4123" stroke-width="2.6"/><line x1="754.3" y1="1729.3" x2="764.7" y2="1734.6" stroke="#ee4123" stroke-width="2.6"/><line x1="763.7" y1="1736.5" x2="774.6" y2="1740.9" stroke="#ee4123" stroke-width="2.6"/><line x1="995.9" y1="1729.6" x2="1006.6" y2="1733.6" stroke="#ee4123" stroke-width="2.6"/><line x1="979.0" y1="1736.6" x2="987.5" y2="1739.7" stroke="#ee4123" stroke-width="2.6"/><line x1="996.6" y1="1734.8" x2="1002.5" y2="1737.0" stroke="#ee4123" stroke-width="2.6"/><line x1="997.6" y1="1736.1" x2="1005.3" y2="1737.7" stroke="#ee4123" stroke-width="2.6"/><line x1="985.7" y1="1739.7" x2="993.9" y2="1737.7" stroke="#ee4123" stroke-width="2.6"/><line x1="979.8" y1="1736.4" x2="989.1" y2="1734.2" stroke="#ee4123" stroke-width="2.6"/><line x1="996.9" y1="1731.0" x2="1009.6" y2="1728.7" stroke="#ee4123" stroke-width="2.6"/><line x1="981.8" y1="1738.8" x2="986.9" y2="1741.6" stroke="#ee4123" stroke-width="2.6"/><polyline points="568.4,865.0 603.9,880.0 558.9,887.9 593.6,903.6" fill="none" stroke="#231f20" stroke-width="4.3" stroke-linejoin="bevel"/><line x1="743.5" y1="957.3" x2="637.8" y2="908.4" stroke="#231f20" stroke-width="3.6"/><polygon points="609.4,897.3 658.3,904.4 637.8,908.4" fill="#231f20"/><polygon points="609.4,897.3 637.8,908.4 647.3,928.9" fill="#fff" stroke="#231f20" stroke-width="1.4" stroke-linejoin="miter"/><polyline points="643.1,1758.4 677.0,1775.8 630.5,1780.5 664.4,1798.6" fill="none" stroke="#231f20" stroke-width="4.3" stroke-linejoin="bevel"/><line x1="791.4" y1="1854.6" x2="705.4" y2="1806.5" stroke="#231f20" stroke-width="3.6"/><polygon points="677.8,1792.0 725.1,1802.6 705.4,1806.5" fill="#231f20"/><polygon points="677.8,1792.0 705.4,1806.5 711.7,1826.2" fill="#fff" stroke="#231f20" stroke-width="1.4" stroke-linejoin="miter"/>
<rect x="256" y="397" width="8" height="351" fill="url(#gRed)"/><polygon points="245.2,744 256.0,748 264.0,748 274.8,744 260.0,772" fill="#ed2224"/><rect x="278.5" y="383" width="8.0" height="356" fill="url(#gRed)"/><polygon points="267.7,735 278.5,739 286.5,739 297.3,735 282.5,760" fill="#ed2224"/><rect x="319" y="332" width="8" height="395" fill="url(#gRed)"/><polygon points="308.2,723 319.0,727 327.0,727 337.8,723 323.0,751" fill="#ed2224"/><rect x="423" y="229" width="8" height="440" fill="url(#gRed)"/><polygon points="412.2,665 423.0,669 431.0,669 441.8,665 427.0,693" fill="#ed2224"/><rect x="439" y="243" width="8" height="414" fill="url(#gRed)"/><polygon points="428.2,653 439.0,657 447.0,657 457.8,653 443.0,681" fill="#ed2224"/><rect x="456" y="238" width="8" height="412" fill="url(#gRed)"/><polygon points="445.2,646 456.0,650 464.0,650 474.8,646 460.0,674" fill="#ed2224"/><rect x="646" y="175" width="8.5" height="429" fill="url(#gRed)"/><polygon points="635.5,600 646.0,604 654.5,604 665.0,600 650.2,630" fill="#ed2224"/><rect x="673" y="212" width="8.5" height="427" fill="url(#gRed)"/><polygon points="662.5,635 673.0,639 681.5,639 692.0,635 677.2,662.6" fill="#ed2224"/><rect x="788" y="206" width="8" height="428" fill="url(#gRed)"/><polygon points="777.2,630 788.0,634 796.0,634 806.8,630 792.0,658" fill="#ed2224"/><rect x="1019" y="294" width="8" height="391" fill="url(#gRed)"/><polygon points="1008.2,681 1019.0,685 1027.0,685 1037.8,681 1023.0,707" fill="#ed2224"/><rect x="1162.5" y="346" width="7.5" height="365" fill="url(#gRed)"/><polygon points="1151.5,707 1162.5,711 1170.0,711 1181.0,707 1166.2,735" fill="#ed2224"/><rect x="1184" y="346" width="8" height="376.5" fill="url(#gRed)"/><polygon points="1173.2,718.5 1184.0,722.5 1192.0,722.5 1202.8,718.5 1188.0,746.5" fill="#ed2224"/><rect x="1206" y="332" width="8" height="404.5" fill="url(#gRed)"/><polygon points="1195.2,732.5 1206.0,736.5 1214.0,736.5 1224.8,732.5 1210.0,763" fill="#ed2224"/><rect x="457" y="1255" width="8" height="388.5" fill="url(#gRed)"/><polygon points="446.2,1639.5 457.0,1643.5 465.0,1643.5 475.8,1639.5 461.0,1666" fill="#ed2224"/><rect x="509.5" y="1195" width="9.5" height="445" fill="url(#gRed)"/><polygon points="499.4,1636 509.5,1640 519.0,1640 529.0,1636 514.2,1663" fill="#ed2224"/><rect x="726" y="1170" width="10" height="466" fill="url(#gRed)"/><polygon points="716.2,1632 726.0,1636 736.0,1636 745.8,1632 731.0,1659" fill="#ed2224"/><rect x="762" y="1320" width="9" height="325" fill="url(#gRed)"/><polygon points="751.7,1641 762.0,1645 771.0,1645 781.3,1641 766.5,1668" fill="#ed2224"/><rect x="823" y="1395" width="8" height="268.5" fill="url(#gRed)"/><polygon points="812.2,1659.5 823.0,1663.5 831.0,1663.5 841.8,1659.5 827.0,1686" fill="#ed2224"/><rect x="1155" y="1470" width="8.5" height="139.70000000000005" fill="url(#gRed)"/><polygon points="1144.5,1605.7 1155.0,1609.7 1163.5,1609.7 1174.0,1605.7 1159.2,1632.6" fill="#ed2224"/>
<polyline points="293.5,387.1 295.3,415.1 296.8,451.6 298.9,432.3 301.1,447.3 303.2,458.1 305.4,443.0 307.5,432.3 309.7,430.1" fill="none" stroke="#4545a0" stroke-width="1.6" stroke-linejoin="round" stroke-linecap="round" /><polyline points="293.5,391.4 296.8,428.0 301.1,438.7 304.3,415.1 307.5,393.5 309.7,361.3 311.8,333.3 312.9,329.0 315.1,331.2 318.3,335.5 321.5,337.6 323.7,337.6" fill="none" stroke="#4545a0" stroke-width="1.6" stroke-linejoin="round" stroke-linecap="round" /><polyline points="335.5,271.0 338.7,294.6 343.0,298.9 345.2,290.3 349.5,301.1 352.7,314.0 355.9,321.5 360.2,316.1 363.4,311.8 365.6,317.2 368.8,305.4 370.5,301.1 373.1,320.4 376.3,348.4 380.6,357.0 383.9,337.6 388.2,314.0 392.5,286.0 396.8,258.1 400.0,253.8" fill="none" stroke="#4545a0" stroke-width="1.6" stroke-linejoin="round" stroke-linecap="round" /><polyline points="392.9,273.1 396.1,258.1 399.4,253.8 401.5,243.0 404.7,225.8 406.9,218.3 409.0,228.0 411.2,221.5 413.3,247.3 415.5,251.6 418.7,253.8 421.9,266.7 424.1,278.5 426.2,277.4 428.4,251.6 429.9,215.1 431.6,219.4" fill="none" stroke="#4545a0" stroke-width="1.6" stroke-linejoin="round" stroke-linecap="round" /><polyline points="445.6,187.1 448.8,180.6 452.0,187.1 455.3,202.2 457.4,217.2 459.6,230.1 461.7,189.2 464.9,179.6 469.2,180.6 472.5,180.6 475.7,176.3 478.9,172.0" fill="none" stroke="#4545a0" stroke-width="1.6" stroke-linejoin="round" stroke-linecap="round" /><polyline points="497.2,129.0 500.4,114.0 503.7,120.4 506.9,122.6 510.1,120.4 514.4,115.1 517.6,126.9 520.9,131.2 524.1,150.5 527.3,191.4 530.5,202.2 533.8,215.1 535.9,236.6 538.1,223.7 542.4,225.8 546.7,232.3 549.9,221.5 552.0,204.3 554.2,200.0 556.3,210.8 558.5,197.8 561.7,184.9 564.9,165.6 567.1,161.3 570.3,165.6 573.5,165.6 576.8,169.9 580.0,163.4 583.2,159.1 586.5,161.3 588.2,172.0 589.7,215.1 590.8,258.1 591.8,286.0 594.0,292.5 596.1,300.0" fill="none" stroke="#4545a0" stroke-width="1.6" stroke-linejoin="round" stroke-linecap="round" /><polyline points="589.6,286.2 595.0,293.4 600.4,318.5 605.7,322.0 611.1,304.1 616.5,300.5 621.9,293.4 625.4,297.0" fill="none" stroke="#4545a0" stroke-width="1.6" stroke-linejoin="round" stroke-linecap="round" /><polyline points="623.7,286.2 629.0,279.0 634.4,273.7 639.8,279.0 645.2,268.3 648.7,300.5 654.1,297.0 659.5,286.2 664.9,297.0 670.3,286.2 675.6,323.8 681.0,307.7 686.4,297.0 691.8,286.2 697.1,257.5 702.5,239.6 707.9,221.7 711.5,196.6 715.1,203.8 720.4,200.2 725.8,189.4 731.2,200.2 736.6,187.6 743.7,196.6 750.9,185.8 758.1,193.0 765.2,200.2 772.4,193.0 777.8,185.8 783.2,200.2 786.7,207.3 790.3,214.5 792.1,293.4 793.9,383.0 797.5,390.1 799.3,350.7 801.1,250.4 808.2,248.6 815.4,243.2 819.0,246.8 822.6,241.4 829.7,243.2 835.1,237.8 840.5,241.4 847.7,239.6 854.8,239.6 862.0,221.7 865.6,236.0" fill="none" stroke="#3d97d6" stroke-width="1.6" stroke-linejoin="round" stroke-linecap="round" /><polyline points="336.6,476.3 339.8,466.7 343.0,468.8 347.3,463.4 350.5,462.4 353.8,451.6 357.0,446.2 360.2,443.0 363.4,428.0 365.6,417.2 367.7,428.0 371.0,432.3 374.2,423.7 376.3,430.1 378.5,438.7 381.7,421.5 384.9,419.4 388.2,416.1 391.4,428.0 394.6,421.5 397.8,430.1 400.0,419.4" fill="none" stroke="#e0242b" stroke-width="1.6" stroke-linejoin="round" stroke-linecap="round" /><polyline points="398.3,433.9 401.8,405.2 404.1,394.9 406.4,412.1 408.7,402.9 412.1,405.2 414.4,415.6 416.7,409.8 420.1,411.0 422.4,425.9 424.7,455.7 427.0,459.1 432.8,460.3" fill="none" stroke="#e0242b" stroke-width="1.6" stroke-linejoin="round" stroke-linecap="round" /><polyline points="416.7,464.9 419.0,458.0 422.4,469.4 424.7,476.3 427.0,461.4 429.3,466.0 431.6,460.3 433.9,467.2 436.2,458.0 438.5,469.4 441.9,464.9 445.4,451.1" fill="none" stroke="#231f20" stroke-width="1.6" stroke-linejoin="round" stroke-linecap="round" /><polyline points="425.9,471.7 429.3,478.6 432.8,475.2 436.2,478.6 439.6,474.0" fill="none" stroke="#6050b0" stroke-width="1.6" stroke-linejoin="round" stroke-linecap="round" /><polyline points="436.2,468.3 439.6,467.2 443.1,470.6 446.5,471.7 448.8,478.6" fill="none" stroke="#d6177a" stroke-width="1.6" stroke-linejoin="round" stroke-linecap="round" /><polyline points="443.1,462.6 446.5,451.1 448.8,430.5 451.1,425.9 453.4,414.4 455.7,405.2 456.8,421.3 458.0,453.4 460.3,444.2" fill="none" stroke="#3cb8e0" stroke-width="1.6" stroke-linejoin="round" stroke-linecap="round" /><polyline points="476.3,478.6 477.5,455.7 479.1,428.2 482.1,448.8" fill="none" stroke="#3050b0" stroke-width="1.6" stroke-linejoin="round" stroke-linecap="round" /><polyline points="498.1,474.0 500.4,462.6 503.9,455.7 507.3,460.3 509.6,467.2 511.9,469.4 515.3,478.6" fill="none" stroke="#56b39a" stroke-width="1.6" stroke-linejoin="round" stroke-linecap="round" /><polyline points="506.1,455.7 508.4,430.5 511.9,427.0 515.3,429.3 518.8,424.7 521.1,429.3 523.3,419.0 525.6,431.6" fill="none" stroke="#d6177a" stroke-width="1.6" stroke-linejoin="round" stroke-linecap="round" /><polyline points="510.7,480.9 515.3,477.5 519.9,471.7 524.5,464.9 527.9,461.4 531.4,467.2 533.7,476.3 536.0,453.4 537.1,428.2 538.3,439.6 540.6,455.7 544.0,461.4 547.4,448.8 550.9,440.8" fill="none" stroke="#e0242b" stroke-width="1.6" stroke-linejoin="round" stroke-linecap="round" /><polyline points="555.5,427.0 558.9,437.3 562.3,458.0 565.8,438.5 568.1,441.9" fill="none" stroke="#a01818" stroke-width="1.6" stroke-linejoin="round" stroke-linecap="round" /><polyline points="529.1,476.3 531.4,469.4 533.7,460.3 536.0,467.2 537.1,478.6" fill="none" stroke="#231f20" stroke-width="1.6" stroke-linejoin="round" stroke-linecap="round" /><polyline points="540.6,458.0 544.0,455.7 547.4,469.4 550.9,470.6" fill="none" stroke="#3cb8e0" stroke-width="1.6" stroke-linejoin="round" stroke-linecap="round" /><polyline points="508.4,476.3 511.9,471.7 513.0,478.6" fill="none" stroke="#3050b0" stroke-width="1.6" stroke-linejoin="round" stroke-linecap="round" /><polyline points="531.4,474.0 536.0,480.9 540.6,482.1 544.0,476.3" fill="none" stroke="#b040a0" stroke-width="1.6" stroke-linejoin="round" stroke-linecap="round" /><polyline points="200.7,464.1 205.7,474.2 210.7,441.5 215.8,426.5" fill="none" stroke="#e0242b" stroke-width="1.6" stroke-linejoin="round" stroke-linecap="round" /><polyline points="201.1,404.3 203.2,415.1 205.4,425.8 208.6,436.6 211.8,451.6 214.0,462.4 216.1,453.8 217.2,425.8 219.4,410.8 222.6,391.4 224.7,389.2 226.9,400.0 230.1,402.2 233.3,406.5 236.6,410.8 238.7,406.5 240.9,393.5 243.0,376.3 246.2,339.8" fill="none" stroke="#6cbd45" stroke-width="1.6" stroke-linejoin="round" stroke-linecap="round" /><polyline points="307.5,476.3 310.8,475.3 312.9,466.7 315.1,464.5 317.2,471.0 319.4,471.0 321.1,478.5" fill="none" stroke="#3d7fc8" stroke-width="1.6" stroke-linejoin="round" stroke-linecap="round" /><polyline points="373.1,477.4 375.3,475.3 377.4,466.7 379.6,466.7 381.7,476.3 384.9,478.5" fill="none" stroke="#b040a0" stroke-width="1.6" stroke-linejoin="round" stroke-linecap="round" /><polyline points="627.2,298.7 629.0,451.1 632.6,443.9 638.0,436.7 643.4,443.9 648.7,442.1 654.1,447.5 659.5,451.1 664.9,447.5 670.3,451.1 675.6,440.3 681.0,443.9 686.4,433.2 691.8,436.7 697.1,440.3 702.5,436.7 707.9,433.2 713.3,408.1 718.6,411.6 724.0,422.4 729.4,404.5 734.8,408.1 740.1,418.8 745.5,408.1 750.9,415.2 756.3,408.1 761.6,411.6 767.0,400.9 772.4,400.9 777.8,422.4 783.2,418.8 788.5,433.2 793.9,422.4 799.3,408.1 804.7,422.4 810.0,411.6 815.4,400.9 820.8,415.2 826.2,418.8 831.5,443.9 835.1,461.8 838.7,458.2 842.3,469.0" fill="none" stroke="#4a1010" stroke-width="1.6" stroke-linejoin="round" stroke-linecap="round" /><polyline points="589.6,365.1 593.2,322.0 596.8,329.2 600.4,350.7 603.9,400.9 607.5,365.1 609.3,336.4 611.1,325.6 614.7,343.5 616.5,322.0 620.1,318.5 621.9,329.2" fill="none" stroke="#f8b51d" stroke-width="1.6" stroke-linejoin="round" stroke-linecap="round" /><polyline points="629.0,386.6 630.8,372.2 634.4,379.4 638.0,372.2 641.6,379.4 643.4,418.8 647.0,436.7 650.5,443.9 655.9,447.5 661.3,454.7 668.5,461.8" fill="none" stroke="#e0242b" stroke-width="1.6" stroke-linejoin="round" stroke-linecap="round" /><polyline points="639.8,465.4 643.4,451.1 648.7,443.9 654.1,433.2 659.5,415.2 664.9,411.6 670.3,422.4 675.6,433.2 679.2,408.1 682.8,404.5 686.4,422.4 690.0,433.2 695.3,451.1 698.9,469.0" fill="none" stroke="#3050b0" stroke-width="1.6" stroke-linejoin="round" stroke-linecap="round" /><polyline points="643.4,433.2 650.5,426.0 657.7,433.2 663.1,426.0 668.5,436.7 675.6,465.4 681.0,454.7 686.4,443.9 691.8,458.2 697.1,469.0" fill="none" stroke="#6cbd45" stroke-width="1.6" stroke-linejoin="round" stroke-linecap="round" /><polyline points="593.2,469.0 596.8,458.2 602.2,454.7 605.7,436.7 609.3,433.2 612.9,422.4 614.7,415.2 618.3,408.1" fill="none" stroke="#d6177a" stroke-width="1.6" stroke-linejoin="round" stroke-linecap="round" /><polyline points="596.8,465.4 603.9,467.2 611.1,469.0 618.3,470.8 625.4,469.0 632.6,465.4 636.2,470.8 641.6,472.6" fill="none" stroke="#e0242b" stroke-width="1.6" stroke-linejoin="round" stroke-linecap="round" /><polyline points="618.3,472.6 623.7,469.0 629.0,465.4 634.4,469.0 639.8,472.6 645.2,470.8" fill="none" stroke="#5bc4d1" stroke-width="1.6" stroke-linejoin="round" stroke-linecap="round" /><polyline points="598.6,443.9 602.2,433.2 603.9,422.4" fill="none" stroke="#3d7fc8" stroke-width="1.6" stroke-linejoin="round" stroke-linecap="round" /><polyline points="938.4,369.0 943.0,336.4 947.7,324.7 952.4,341.1 959.4,329.4 964.0,308.4 968.7,299.1 973.3,294.5 978.0,308.4 982.7,317.8 987.3,331.7 994.3,338.7 999.0,345.7 1003.6,357.4 1008.3,364.4 1012.9,373.7 1017.6,387.7 1022.3,404.0 1024.6,406.3" fill="none" stroke="#e0242b" stroke-width="1.6" stroke-linejoin="round" stroke-linecap="round" /><polyline points="936.1,252.5 938.4,359.7 943.0,355.0 947.7,350.4 952.4,364.4 957.0,373.7 961.7,369.0 966.3,378.3 973.3,383.0 978.0,373.7 982.7,387.7 987.3,397.0 992.0,406.3 996.6,401.6 1001.3,420.3 1006.0,424.9 1010.6,411.0 1015.3,448.2 1019.9,452.9" fill="none" stroke="#4545a0" stroke-width="1.6" stroke-linejoin="round" stroke-linecap="round" /><polyline points="966.3,478.5 973.3,466.9 982.7,429.6 987.3,443.6 994.3,415.6 1001.3,401.6 1008.3,399.3 1015.3,394.6 1019.9,404.0 1024.6,364.4 1031.6,317.8 1036.2,303.8 1043.2,285.1" fill="none" stroke="#3d97d6" stroke-width="1.6" stroke-linejoin="round" stroke-linecap="round" /><polyline points="1043.2,285.1 1047.9,266.5 1052.5,280.5 1061.9,289.8 1071.2,285.1 1075.8,280.5 1080.5,336.4 1082.8,373.7 1085.2,373.7 1087.5,336.4 1089.8,280.5" fill="none" stroke="#56b39a" stroke-width="1.6" stroke-linejoin="round" stroke-linecap="round" /><polyline points="1078.2,448.2 1082.8,373.7 1089.8,420.3" fill="none" stroke="#f8b51d" stroke-width="1.6" stroke-linejoin="round" stroke-linecap="round" /><polyline points="985.0,476.2 989.6,457.5 996.6,459.9 1001.3,457.5 1006.0,462.2 1010.6,457.5 1017.6,459.9 1024.6,462.2 1031.6,457.5 1036.2,466.9" fill="none" stroke="#a07020" stroke-width="1.6" stroke-linejoin="round" stroke-linecap="round" /><polyline points="1006.0,457.5 1012.9,466.9 1019.9,448.2 1024.6,457.5 1031.6,462.2 1038.6,466.9" fill="none" stroke="#6050b0" stroke-width="1.6" stroke-linejoin="round" stroke-linecap="round" /><polyline points="1022.3,438.9 1026.9,443.6 1031.6,452.9 1036.2,448.2 1040.9,466.9 1047.9,476.2 1052.5,471.5 1057.2,476.2" fill="none" stroke="#4a1010" stroke-width="1.6" stroke-linejoin="round" stroke-linecap="round" /><polyline points="1143.4,327.1 1150.4,355.0 1155.1,364.4 1159.7,355.0 1164.4,364.4 1166.7,392.3 1171.4,359.7 1176.0,355.0 1183.0,359.7 1187.7,383.0 1190.0,345.7 1192.3,327.1 1199.3,317.8 1206.3,322.4 1211.0,336.4 1213.3,411.0 1215.6,327.1 1225.0,322.4 1234.3,331.7 1236.6,355.0" fill="none" stroke="#d81b5e" stroke-width="1.6" stroke-linejoin="round" stroke-linecap="round" /><polyline points="1287.9,369.0 1294.9,429.6 1301.8,448.2 1308.8,429.6 1315.8,429.6 1322.8,438.9 1329.8,448.2" fill="none" stroke="#d81b5e" stroke-width="1.6" stroke-linejoin="round" stroke-linecap="round" /><polyline points="1299.5,401.6 1304.2,420.3 1311.2,424.9 1318.2,420.3 1325.1,448.2 1332.1,462.2" fill="none" stroke="#6cbd45" stroke-width="1.6" stroke-linejoin="round" stroke-linecap="round" /><polyline points="1287.9,429.6 1292.5,448.2 1297.2,443.6 1301.8,471.5" fill="none" stroke="#4a1010" stroke-width="1.6" stroke-linejoin="round" stroke-linecap="round" /><polyline points="1150.4,443.6 1155.1,429.6 1159.7,420.3 1162.1,438.9 1164.4,462.2 1166.7,469.2" fill="none" stroke="#6050b0" stroke-width="1.6" stroke-linejoin="round" stroke-linecap="round" /><polyline points="1166.7,436.6 1173.7,438.9 1178.4,448.2 1185.4,457.5 1190.0,471.5" fill="none" stroke="#5bc4d1" stroke-width="1.6" stroke-linejoin="round" stroke-linecap="round" /><polyline points="791.6,341.1 793.9,327.1 798.6,313.1" fill="none" stroke="#8a1a1a" stroke-width="1.6" stroke-linejoin="round" stroke-linecap="round" /><polyline points="870.8,436.6 874.5,448.2" fill="none" stroke="#b040a0" stroke-width="1.6" stroke-linejoin="round" stroke-linecap="round" /><polyline points="889.5,469.2 893.2,457.5" fill="none" stroke="#d6177a" stroke-width="1.6" stroke-linejoin="round" stroke-linecap="round" /><polyline points="530.0,1163.2 534.8,1201.9 539.7,1237.4 544.5,1214.8 549.4,1203.5 554.2,1214.8 557.4,1226.1 562.3,1205.2 568.7,1201.9 572.6,1211.6 576.8,1219.7 581.6,1210.0 584.8,1208.4 589.7,1211.6 592.9,1206.8 597.7,1218.1 599.4,1208.4 604.2,1239.0 609.0,1231.0 613.2,1240.6 615.5,1255.2 620.3,1229.4 625.2,1235.8 630.0,1214.8 634.8,1221.3 638.1,1214.8" fill="none" stroke="#e0242b" stroke-width="1.6" stroke-linejoin="round" stroke-linecap="round" /><polyline points="568.7,1447.0 572.3,1457.8 575.8,1456.0 579.4,1459.6 583.0,1448.8 586.6,1452.4 590.2,1438.1 593.8,1448.8 597.3,1445.2 600.9,1434.5 604.5,1430.9 606.3,1413.0 609.9,1409.4 613.5,1405.8 617.1,1402.2 618.9,1413.0 622.4,1430.9 626.0,1427.3 629.6,1441.6 633.2,1452.4 635.0,1459.6 636.8,1438.1" fill="none" stroke="#2a8ad0" stroke-width="1.6" stroke-linejoin="round" stroke-linecap="round" /><polyline points="592.0,1456.0 595.6,1445.2 599.1,1441.6" fill="none" stroke="#f8b51d" stroke-width="1.6" stroke-linejoin="round" stroke-linecap="round" /><polyline points="602.7,1463.2 606.3,1456.0 608.1,1452.4" fill="none" stroke="#231f20" stroke-width="1.6" stroke-linejoin="round" stroke-linecap="round" /><polyline points="593.8,1466.7 600.9,1463.2 609.9,1463.2" fill="none" stroke="#b040a0" stroke-width="1.6" stroke-linejoin="round" stroke-linecap="round" /><polyline points="658.3,1450.6 661.9,1438.1 663.7,1430.9 665.4,1416.6" fill="none" stroke="#e0242b" stroke-width="1.6" stroke-linejoin="round" stroke-linecap="round" /><polyline points="713.8,1463.2 719.2,1457.8 726.4,1452.4 731.8,1456.0 733.5,1463.2" fill="none" stroke="#1a9a40" stroke-width="1.6" stroke-linejoin="round" stroke-linecap="round" /><polyline points="759.7,1430.9 764.0,1413.0 765.8,1411.2 769.4,1427.3 773.0,1441.6 776.6,1411.2 780.1,1441.6 783.7,1456.0" fill="none" stroke="#3d8fd1" stroke-width="1.6" stroke-linejoin="round" stroke-linecap="round" /><polyline points="810.6,1402.2 814.2,1398.6 817.8,1400.4 821.4,1389.7" fill="none" stroke="#3050a8" stroke-width="1.6" stroke-linejoin="round" stroke-linecap="round" /><polyline points="842.9,1454.2 846.5,1447.0 850.0,1454.2" fill="none" stroke="#e0242b" stroke-width="1.6" stroke-linejoin="round" stroke-linecap="round" /><polyline points="540.0,1438.1 543.6,1445.2 545.4,1456.0" fill="none" stroke="#b040a0" stroke-width="1.6" stroke-linejoin="round" stroke-linecap="round" /><polyline points="540.0,1470.3 547.2,1466.7 554.3,1463.2 559.7,1466.7" fill="none" stroke="#6a1010" stroke-width="1.6" stroke-linejoin="round" stroke-linecap="round" /><polyline points="540.0,1463.2 547.2,1459.6 554.3,1459.6" fill="none" stroke="#6abd45" stroke-width="1.6" stroke-linejoin="round" stroke-linecap="round" /><polyline points="526.8,1466.5 528.4,1440.6 530.6,1432.6 533.2,1443.9 536.5,1447.1 539.7,1440.6 542.9,1456.8" fill="none" stroke="#231f20" stroke-width="1.6" stroke-linejoin="round" stroke-linecap="round" /><polyline points="533.2,1453.5 536.5,1443.9 539.7,1437.4 542.9,1453.5 545.5,1456.8" fill="none" stroke="#b040c0" stroke-width="1.6" stroke-linejoin="round" stroke-linecap="round" /><polyline points="531.6,1463.2 536.5,1460.0 542.9,1461.6 549.4,1460.0 555.8,1463.2" fill="none" stroke="#6abd45" stroke-width="1.6" stroke-linejoin="round" stroke-linecap="round" /><polyline points="536.5,1472.9 542.9,1468.1 549.4,1463.2 555.8,1461.6 560.6,1464.8" fill="none" stroke="#6a1010" stroke-width="1.6" stroke-linejoin="round" stroke-linecap="round" /><polyline points="378.4,1382.6 383.2,1369.7 388.1,1353.5 389.7,1337.4" fill="none" stroke="#e0242b" stroke-width="1.6" stroke-linejoin="round" stroke-linecap="round" /><polyline points="877.4,1347.7 879.0,1326.8 883.9,1321.9 887.1,1320.3 891.9,1328.4 895.2,1344.5 898.4,1341.3 901.6,1331.6 904.8,1333.2 908.1,1328.4 911.3,1321.9 914.5,1304.2 917.7,1321.9 921.0,1341.3 925.8,1363.9 930.6,1373.5 935.5,1405.8 937.1,1438.1 938.7,1434.8 941.9,1447.7" fill="none" stroke="#f8ad1d" stroke-width="1.6" stroke-linejoin="round" stroke-linecap="round" /><polyline points="945.2,1447.7 950.0,1449.4 956.5,1452.6 961.3,1460.6 966.1,1454.2 972.6,1447.7 975.8,1451.0 979.0,1444.5 982.3,1451.0 987.1,1441.3" fill="none" stroke="#5bc4d1" stroke-width="1.6" stroke-linejoin="round" stroke-linecap="round" /><polyline points="759.7,1428.4 764.5,1410.6 767.7,1415.5 771.0,1431.6 775.8,1410.6 779.0,1438.1 780.6,1436.5 782.3,1454.2" fill="none" stroke="#3d8fd1" stroke-width="1.6" stroke-linejoin="round" stroke-linecap="round" /><polyline points="825.8,1396.1 827.4,1425.2 829.0,1454.2 832.3,1455.8 834.5,1438.1 836.5,1426.8" fill="none" stroke="#56b39a" stroke-width="1.6" stroke-linejoin="round" stroke-linecap="round" /><polyline points="694.5,1113.2 699.4,1114.8 704.2,1116.5 709.0,1111.6 712.3,1114.8 715.5,1108.4 718.7,1118.1 721.9,1137.4 725.2,1148.7 728.4,1153.5 731.6,1182.6 734.8,1166.5 738.1,1163.2 741.3,1166.5 744.5,1150.3 747.7,1145.5 751.0,1147.1 754.2,1192.3 757.4,1201.9 760.6,1240.6 763.9,1305.2 766.1,1324.5 769.4,1305.2 772.6,1272.9 775.8,1263.2 780.0,1285.8 777.4,1273.5 780.6,1292.9 783.9,1273.5 787.1,1283.2 790.3,1257.4 793.5,1280.0 798.4,1276.8 803.2,1270.3 808.1,1263.9 811.3,1276.8 812.9,1309.0 816.1,1347.7 819.4,1360.6 822.6,1373.5 825.8,1396.1 828.1,1360.6 830.6,1315.5 833.2,1286.5 837.1,1270.3 841.9,1286.5 845.2,1267.1 850.0,1263.9 853.2,1244.5 858.1,1234.8 861.3,1260.6 866.1,1259.0 871.0,1260.6 874.2,1273.5 875.8,1341.3 879.0,1402.6 882.3,1425.2 884.8,1431.6 887.1,1418.7 890.3,1421.9 893.5,1420.3 896.8,1412.3 900.0,1402.6 903.2,1396.1 906.5,1392.9 909.7,1389.7 912.9,1386.5 916.1,1383.2 919.4,1378.4 922.6,1371.9 927.4,1365.5 932.3,1367.1 935.5,1373.5 940.3,1380.0 943.5,1389.7 946.8,1441.3 950.0,1425.2 953.2,1415.5 956.5,1402.6 959.7,1396.1 964.5,1386.5 967.7,1389.7 971.0,1380.0 975.8,1373.5 980.6,1376.8 983.9,1375.2 987.1,1380.0 988.7,1428.4 993.5,1418.7 996.8,1405.8 1001.6,1399.4 1008.1,1396.1 1012.9,1399.4 1017.7,1386.5 1022.6,1367.1 1025.8,1359.0 1030.6,1367.1" fill="none" stroke="#6b4fa7" stroke-width="3.6" stroke-linejoin="round" stroke-linecap="round" /><polyline points="111.8,474.9 115.1,478.3 116.8,462.1 118.3,482.2 120.4,444.5 122.6,462.3 125.8,441.6 129.0,450.1 134.4,448.3 137.6,449.1 140.9,443.0 145.2,442.8 150.5,442.0 155.9,460.0 158.1,443.7 163.4,424.5 166.7,416.7 168.8,424.1 171.0,420.3 174.2,440.9 177.4,413.7 181.7,424.4 188.2,399.3 191.4,420.3 195.7,407.2 200.0,408.1 202.8,393.8 205.4,419.8 207.5,399.7 209.7,423.5 212.9,416.5 216.1,406.6 219.4,401.6 222.6,420.6 224.7,394.2 228.0,427.6 230.1,408.1 232.3,434.9 234.4,406.6 237.2,444.5 239.4,415.2 240.9,397.3 244.1,368.0 245.8,355.8 247.3,353.1 249.5,380.8 252.7,378.6 255.9,391.5 259.1,390.0 262.4,393.5 265.6,369.2 269.9,377.9 274.2,350.4 276.3,372.5 279.6,369.4 282.8,389.4 287.1,373.2 290.3,368.9 293.5,348.8 295.7,386.7 301.1,406.5 304.3,391.3 307.5,343.7 309.7,326.4 312.9,323.6 314.4,313.5 317.2,321.5 320.4,327.8 323.7,331.5 326.9,311.1 331.2,265.8 334.4,273.5 337.6,256.6 340.9,279.0 344.1,274.1 346.2,270.0 351.6,289.2 358.1,284.1 361.3,260.8 365.6,255.5 369.9,244.7 374.2,275.0 379.6,284.1 382.8,279.6 386.0,247.9 392.5,243.2 396.8,221.6 398.3,229.2 400.4,201.1 403.7,168.2 406.9,170.5 411.2,167.3 414.4,183.2 418.3,162.2 421.9,174.5 425.2,252.6 428.4,181.8 431.6,194.5 435.5,179.0 438.1,194.6 440.2,184.9 442.4,249.9 445.6,145.9 448.8,181.2 452.0,138.9 454.2,178.5 455.7,123.3 457.8,171.2 460.0,210.6 461.7,199.8 464.9,185.4 470.3,186.4 474.6,170.4 476.8,180.9 479.4,113.6 482.2,200.3 485.4,135.4 488.6,145.1 491.8,137.4 496.1,134.4 499.4,115.3 502.6,58.5 505.8,56.4 509.0,44.5 512.3,12.2 514.4,42.8 517.6,63.5 520.9,61.0 524.1,61.0 526.2,126.3 528.4,158.2 530.5,150.0 532.7,154.0 534.8,154.8 538.1,162.4 542.4,169.6 545.6,161.1 548.8,182.2 552.0,171.3 555.3,186.7 558.5,173.8 561.7,149.3 563.9,144.8 566.0,120.5 568.8,117.4 570.3,164.6 573.5,163.4 577.8,174.3 582.2,152.2 586.5,169.0 588.6,136.2 591.8,192.4 595.1,123.5 598.3,140.6 601.5,188.5 603.7,161.5 605.4,162.0 605.8,116.5 610.1,108.9 614.4,117.3 617.2,81.2 618.7,119.8 621.9,99.1 625.2,108.1 627.3,121.6 629.5,101.9 632.7,108.1 634.8,96.9 637.0,118.8 640.2,98.2 643.4,114.3 646.7,148.6 649.9,159.2 653.1,177.7 655.3,111.7 657.4,122.6 661.7,98.7 666.0,115.8 668.2,105.4 670.3,134.2 673.5,188.1 675.7,215.2 676.1,210.3 679.4,205.9 681.5,186.6 683.7,152.3 685.4,118.3 686.9,153.3 689.0,166.7 691.2,164.1 693.3,155.9 695.5,184.3 697.6,172.2 699.1,217.6 701.9,195.2 706.2,189.3 709.5,169.7 712.7,137.0 715.9,123.7 719.1,133.3 722.4,128.1 725.6,148.4 728.8,117.7 733.1,130.9 736.3,117.1 739.6,117.4 742.8,125.5 746.0,146.0 749.2,121.6 752.5,133.1 756.3,103.6 760.0,124.4 763.2,119.5 766.5,134.0 770.8,125.4 774.0,120.1 776.1,98.0 778.3,119.1 781.5,142.7 783.7,147.0 785.8,126.3 788.0,164.1 790.1,167.3 792.3,204.7 794.4,205.8 796.6,183.9 799.8,155.5 801.9,183.2 803.4,160.3 805.8,203.0 809.5,172.9 813.8,178.2 817.0,167.9 820.2,202.3 824.5,191.5 827.7,205.1 832.0,210.2 835.3,214.0 839.6,213.6 841.7,243.4 843.9,232.3 848.2,254.7 852.5,244.7 855.7,254.0 857.8,250.0 861.1,242.2 863.9,244.2 866.5,248.7 870.8,211.5 872.9,249.7 876.1,250.3 879.4,255.5 882.6,258.2 886.9,292.7 890.1,263.1 892.3,264.5 895.5,245.5 898.7,248.7 901.9,242.4 905.2,257.9 908.4,242.4 911.6,240.5 914.8,234.1 918.1,248.2 922.4,241.1 926.7,247.2 931.0,236.6 934.2,238.5 937.4,242.9 940.6,256.9 942.8,207.6 946.0,193.3 948.2,196.6 951.4,222.0 953.5,209.9 956.8,233.5 959.8,254.0 962.6,223.4 965.8,208.7 970.1,197.7 973.3,197.9 976.6,171.1 979.8,159.1 983.0,178.1 986.2,161.4 989.5,177.0 991.6,177.6 994.8,185.3 998.1,180.8 1001.3,209.7 1004.5,180.8 1007.7,174.1 1011.0,187.0 1014.2,215.7 1016.3,242.0 1019.6,314.6 1022.8,284.7 1024.3,258.1 1026.0,259.2 1027.7,292.1 1029.9,248.1 1032.9,241.2 1035.7,238.5 1037.8,243.7 1040.6,233.9 1042.2,275.2 1045.4,282.1 1048.6,288.6 1050.8,284.1 1054.0,281.9 1057.2,285.2 1060.4,308.1 1064.7,294.0 1069.0,326.7 1072.3,294.3 1074.4,291.3 1078.7,286.5 1081.9,282.9 1084.5,256.4 1087.3,287.6 1090.5,258.4 1095.9,267.6 1100.2,263.5 1104.5,276.8 1107.7,283.4 1112.0,279.2 1115.3,269.2 1118.5,289.8 1122.4,292.4 1124.9,295.4 1129.2,273.0 1132.5,291.5 1135.7,299.7 1138.9,314.9 1141.1,312.3 1144.3,344.8 1146.5,310.9 1149.7,325.6 1152.9,305.7 1156.1,325.8 1158.3,299.3 1161.5,318.6 1164.7,348.7 1166.9,331.5 1169.0,325.6 1172.3,329.2 1175.5,305.2 1178.7,321.3 1181.9,321.9 1186.2,342.6 1189.5,337.1 1193.8,349.2 1197.0,332.5 1200.2,325.7 1204.5,296.6 1206.7,347.1 1208.8,307.6 1211.4,350.5 1215.3,328.4 1219.6,329.8 1222.8,319.2 1226.0,336.6 1229.2,324.2 1232.5,325.2 1235.7,322.4 1240.4,326.9 1242.2,328.6 1244.8,353.1 1247.5,341.5 1250.1,351.2 1253.6,339.5 1257.1,356.7 1259.8,347.1 1262.4,364.8 1265.0,350.0 1267.7,353.7 1270.3,352.2 1272.9,355.2 1276.4,342.3 1279.1,346.0 1281.7,348.2 1284.4,364.4 1287.0,356.7 1288.7,375.3 1291.4,368.6 1294.0,383.6 1296.6,360.9 1298.9,396.4 1301.0,362.6 1303.7,353.3 1305.4,360.3 1307.2,380.1 1309.8,374.1 1312.5,381.1 1316.0,352.8 1318.6,384.5 1320.4,392.5 1322.1,394.0 1323.9,383.3 1325.6,403.0 1327.4,406.1 1328.8,434.2 1330.0,419.2 1332.3,399.4 1333.5,447.3" fill="none" stroke="#d2d2d2" stroke-width="2.5" stroke-linejoin="round" stroke-linecap="round" /><polyline points="111.8,479.6 115.1,473.1 116.8,468.8 118.3,477.4 120.4,449.5 122.6,457.0 125.8,445.2 129.0,445.2 134.4,453.8 137.6,443.0 140.9,446.2 145.2,438.7 150.5,445.2 155.9,453.8 158.1,449.5 163.4,421.5 166.7,423.7 168.8,417.2 171.0,425.8 174.2,435.5 177.4,417.2 181.7,421.5 188.2,404.3 191.4,417.2 195.7,410.8 200.0,404.3 202.8,396.8 205.4,415.1 207.5,404.3 209.7,417.2 212.9,421.5 216.1,401.1 219.4,406.5 222.6,415.1 224.7,398.9 228.0,423.7 230.1,415.1 232.3,428.0 234.4,412.9 237.2,438.7 239.4,419.4 240.9,393.5 244.1,372.0 245.8,352.7 247.3,359.1 249.5,376.3 252.7,384.9 255.9,387.1 259.1,396.8 262.4,387.1 265.6,372.0 269.9,374.2 274.2,357.0 276.3,367.7 279.6,376.3 282.8,384.9 287.1,376.3 290.3,363.4 293.5,354.8 295.7,382.8 301.1,409.7 304.3,387.1 307.5,350.5 309.7,320.4 312.9,326.9 314.4,309.7 317.2,324.7 320.4,324.7 323.7,337.6 326.9,307.5 331.2,271.0 334.4,268.8 337.6,260.2 340.9,273.1 344.1,277.4 346.2,264.5 351.6,292.5 358.1,279.6 361.3,264.5 365.6,251.6 369.9,251.6 374.2,268.8 379.6,288.2 382.8,273.1 386.0,251.6 392.5,238.7 396.8,228.0 398.3,223.7 400.4,204.3 403.7,161.3 406.9,174.2 411.2,163.4 414.4,189.2 418.3,158.1 421.9,178.5 425.2,249.5 428.4,184.9 431.6,189.2 435.5,182.8 438.1,189.2 440.2,189.2 442.4,245.2 445.6,152.7 448.8,176.3 452.0,144.1 454.2,172.0 455.7,126.9 457.8,167.7 460.0,217.2 461.7,193.5 464.9,189.2 470.3,182.8 474.6,176.3 476.8,174.2 479.4,117.2 482.2,193.5 485.4,141.9 488.6,139.8 491.8,141.9 496.1,131.2 499.4,118.3 502.6,51.6 505.8,60.2 509.0,38.7 512.3,16.1 514.4,36.6 517.6,68.8 520.9,57.0 524.1,64.5 526.2,120.4 528.4,161.3 530.5,146.2 532.7,159.1 534.8,148.4 538.1,167.7 542.4,165.6 545.6,167.7 548.8,178.5 552.0,174.2 555.3,182.8 558.5,178.5 561.7,146.2 563.9,148.4 566.0,116.1 568.8,122.6 570.3,161.3 573.5,167.7 577.8,167.7 582.2,159.1 586.5,163.4 588.6,141.9 591.8,187.1 595.1,126.9 598.3,137.6 601.5,191.4 603.7,154.8 605.4,167.7 605.8,109.7 610.1,111.8 614.4,111.8 617.2,86.0 618.7,114.0 621.9,103.2 625.2,101.1 627.3,124.7 629.5,96.8 632.7,114.0 634.8,90.3 637.0,124.7 640.2,92.5 643.4,120.4 646.7,141.9 649.9,163.4 653.1,172.0 655.3,118.3 657.4,116.1 661.7,103.2 666.0,109.7 668.2,111.8 670.3,129.0 673.5,193.5 675.7,210.8 676.1,215.6 679.4,200.5 681.5,189.8 683.7,146.8 685.4,125.3 686.9,146.8 689.0,172.6 691.2,159.7 693.3,161.8 695.5,179.0 697.6,176.9 699.1,211.3 701.9,198.4 706.2,183.3 709.5,172.6 712.7,131.7 715.9,128.5 719.1,129.6 722.4,133.9 725.6,143.5 728.8,123.1 733.1,124.2 736.3,121.0 739.6,114.5 742.8,129.6 746.0,140.3 749.2,125.3 752.5,129.6 756.3,110.2 760.0,118.8 763.2,124.2 766.5,127.4 770.8,129.6 774.0,114.5 776.1,101.6 778.3,114.5 781.5,148.9 783.7,140.3 785.8,132.8 788.0,159.7 790.1,172.6 792.3,200.5 794.4,209.1 796.6,179.0 799.8,161.8 801.9,176.9 803.4,166.1 805.8,196.2 809.5,176.9 813.8,174.7 817.0,172.6 820.2,198.4 824.5,195.2 827.7,200.5 832.0,215.6 835.3,209.1 839.6,217.7 841.7,237.1 843.9,239.2 848.2,250.0 852.5,247.8 855.7,251.1 857.8,256.5 861.1,239.2 863.9,250.0 866.5,243.5 870.8,215.6 872.9,243.5 876.1,253.2 879.4,252.2 882.6,262.9 886.9,289.8 890.1,269.4 892.3,260.8 895.5,248.9 898.7,245.7 901.9,247.8 905.2,253.2 908.4,247.8 911.6,234.9 914.8,240.3 918.1,241.4 922.4,246.8 926.7,243.5 931.0,241.4 934.2,234.9 937.4,245.7 940.6,252.2 942.8,213.4 946.0,189.8 948.2,200.5 951.4,217.7 953.5,215.6 956.8,228.5 959.8,259.4 962.6,217.4 965.8,213.1 970.1,191.6 973.3,204.5 976.6,168.0 979.8,165.8 983.0,172.3 986.2,164.7 989.5,172.3 991.6,183.0 994.8,178.7 998.1,185.2 1001.3,204.5 1004.5,187.3 1007.7,168.0 1011.0,193.8 1014.2,211.0 1016.3,247.5 1019.6,311.0 1022.8,290.5 1024.3,251.8 1026.0,264.7 1027.7,286.2 1029.9,251.8 1032.9,234.6 1035.7,245.4 1037.8,236.8 1040.6,238.9 1042.2,269.0 1045.4,286.2 1048.6,281.9 1050.8,290.5 1054.0,277.6 1057.2,288.4 1060.4,303.4 1064.7,299.1 1069.0,320.6 1072.3,299.1 1074.4,288.4 1078.7,292.7 1081.9,279.8 1084.5,262.6 1087.3,284.1 1090.5,262.6 1095.9,261.5 1100.2,266.9 1104.5,273.3 1107.7,288.4 1112.0,273.3 1115.3,275.5 1118.5,284.1 1122.4,299.1 1124.9,290.5 1129.2,279.8 1132.5,288.4 1135.7,303.4 1138.9,309.9 1141.1,316.3 1144.3,338.9 1146.5,316.3 1149.7,320.6 1152.9,312.0 1156.1,320.6 1158.3,303.4 1161.5,314.2 1164.7,355.1 1166.9,324.9 1169.0,329.2 1172.3,322.8 1175.5,312.0 1178.7,316.3 1181.9,327.1 1186.2,338.9 1189.5,342.2 1193.8,344.3 1197.0,337.8 1200.2,322.8 1204.5,303.4 1206.7,342.2 1208.8,312.0 1211.4,344.3 1215.3,333.5 1219.6,324.9 1222.8,324.9 1226.0,333.5 1229.2,329.2 1232.5,320.6 1235.7,329.2 1240.4,320.2 1242.2,332.5 1244.8,348.3 1247.5,344.8 1250.1,346.6 1253.6,345.7 1257.1,350.1 1259.8,351.9 1262.4,360.6 1265.0,353.6 1267.7,348.3 1270.3,358.9 1272.9,351.9 1276.4,348.3 1279.1,343.1 1281.7,351.9 1284.4,360.6 1287.0,362.4 1288.7,371.2 1291.4,372.9 1294.0,378.2 1296.6,364.2 1298.9,390.5 1301.0,365.9 1303.7,348.3 1305.4,364.2 1307.2,376.4 1309.8,379.1 1312.5,376.4 1316.0,357.1 1318.6,380.0 1320.4,397.5 1322.1,390.5 1323.9,387.0 1325.6,397.5 1327.4,411.6 1328.8,429.1 1330.0,425.6 1332.3,394.0 1333.5,453.7" fill="none" stroke="#c8c8c8" stroke-width="8" stroke-linejoin="round" stroke-linecap="round" opacity="0.7"/><polyline points="111.8,479.6 115.1,473.1 116.8,468.8 118.3,477.4 120.4,449.5 122.6,457.0 125.8,445.2 129.0,445.2 134.4,453.8 137.6,443.0 140.9,446.2 145.2,438.7 150.5,445.2 155.9,453.8 158.1,449.5 163.4,421.5 166.7,423.7 168.8,417.2 171.0,425.8 174.2,435.5 177.4,417.2 181.7,421.5 188.2,404.3 191.4,417.2 195.7,410.8 200.0,404.3 202.8,396.8 205.4,415.1 207.5,404.3 209.7,417.2 212.9,421.5 216.1,401.1 219.4,406.5 222.6,415.1 224.7,398.9 228.0,423.7 230.1,415.1 232.3,428.0 234.4,412.9 237.2,438.7 239.4,419.4 240.9,393.5 244.1,372.0 245.8,352.7 247.3,359.1 249.5,376.3 252.7,384.9 255.9,387.1 259.1,396.8 262.4,387.1 265.6,372.0 269.9,374.2 274.2,357.0 276.3,367.7 279.6,376.3 282.8,384.9 287.1,376.3 290.3,363.4 293.5,354.8 295.7,382.8 301.1,409.7 304.3,387.1 307.5,350.5 309.7,320.4 312.9,326.9 314.4,309.7 317.2,324.7 320.4,324.7 323.7,337.6 326.9,307.5 331.2,271.0 334.4,268.8 337.6,260.2 340.9,273.1 344.1,277.4 346.2,264.5 351.6,292.5 358.1,279.6 361.3,264.5 365.6,251.6 369.9,251.6 374.2,268.8 379.6,288.2 382.8,273.1 386.0,251.6 392.5,238.7 396.8,228.0 398.3,223.7 400.4,204.3 403.7,161.3 406.9,174.2 411.2,163.4 414.4,189.2 418.3,158.1 421.9,178.5 425.2,249.5 428.4,184.9 431.6,189.2 435.5,182.8 438.1,189.2 440.2,189.2 442.4,245.2 445.6,152.7 448.8,176.3 452.0,144.1 454.2,172.0 455.7,126.9 457.8,167.7 460.0,217.2 461.7,193.5 464.9,189.2 470.3,182.8 474.6,176.3 476.8,174.2 479.4,117.2 482.2,193.5 485.4,141.9 488.6,139.8 491.8,141.9 496.1,131.2 499.4,118.3 502.6,51.6 505.8,60.2 509.0,38.7 512.3,16.1 514.4,36.6 517.6,68.8 520.9,57.0 524.1,64.5 526.2,120.4 528.4,161.3 530.5,146.2 532.7,159.1 534.8,148.4 538.1,167.7 542.4,165.6 545.6,167.7 548.8,178.5 552.0,174.2 555.3,182.8 558.5,178.5 561.7,146.2 563.9,148.4 566.0,116.1 568.8,122.6 570.3,161.3 573.5,167.7 577.8,167.7 582.2,159.1 586.5,163.4 588.6,141.9 591.8,187.1 595.1,126.9 598.3,137.6 601.5,191.4 603.7,154.8 605.4,167.7 605.8,109.7 610.1,111.8 614.4,111.8 617.2,86.0 618.7,114.0 621.9,103.2 625.2,101.1 627.3,124.7 629.5,96.8 632.7,114.0 634.8,90.3 637.0,124.7 640.2,92.5 643.4,120.4 646.7,141.9 649.9,163.4 653.1,172.0 655.3,118.3 657.4,116.1 661.7,103.2 666.0,109.7 668.2,111.8 670.3,129.0 673.5,193.5 675.7,210.8 676.1,215.6 679.4,200.5 681.5,189.8 683.7,146.8 685.4,125.3 686.9,146.8 689.0,172.6 691.2,159.7 693.3,161.8 695.5,179.0 697.6,176.9 699.1,211.3 701.9,198.4 706.2,183.3 709.5,172.6 712.7,131.7 715.9,128.5 719.1,129.6 722.4,133.9 725.6,143.5 728.8,123.1 733.1,124.2 736.3,121.0 739.6,114.5 742.8,129.6 746.0,140.3 749.2,125.3 752.5,129.6 756.3,110.2 760.0,118.8 763.2,124.2 766.5,127.4 770.8,129.6 774.0,114.5 776.1,101.6 778.3,114.5 781.5,148.9 783.7,140.3 785.8,132.8 788.0,159.7 790.1,172.6 792.3,200.5 794.4,209.1 796.6,179.0 799.8,161.8 801.9,176.9 803.4,166.1 805.8,196.2 809.5,176.9 813.8,174.7 817.0,172.6 820.2,198.4 824.5,195.2 827.7,200.5 832.0,215.6 835.3,209.1 839.6,217.7 841.7,237.1 843.9,239.2 848.2,250.0 852.5,247.8 855.7,251.1 857.8,256.5 861.1,239.2 863.9,250.0 866.5,243.5 870.8,215.6 872.9,243.5 876.1,253.2 879.4,252.2 882.6,262.9 886.9,289.8 890.1,269.4 892.3,260.8 895.5,248.9 898.7,245.7 901.9,247.8 905.2,253.2 908.4,247.8 911.6,234.9 914.8,240.3 918.1,241.4 922.4,246.8 926.7,243.5 931.0,241.4 934.2,234.9 937.4,245.7 940.6,252.2 942.8,213.4 946.0,189.8 948.2,200.5 951.4,217.7 953.5,215.6 956.8,228.5 959.8,259.4 962.6,217.4 965.8,213.1 970.1,191.6 973.3,204.5 976.6,168.0 979.8,165.8 983.0,172.3 986.2,164.7 989.5,172.3 991.6,183.0 994.8,178.7 998.1,185.2 1001.3,204.5 1004.5,187.3 1007.7,168.0 1011.0,193.8 1014.2,211.0 1016.3,247.5 1019.6,311.0 1022.8,290.5 1024.3,251.8 1026.0,264.7 1027.7,286.2 1029.9,251.8 1032.9,234.6 1035.7,245.4 1037.8,236.8 1040.6,238.9 1042.2,269.0 1045.4,286.2 1048.6,281.9 1050.8,290.5 1054.0,277.6 1057.2,288.4 1060.4,303.4 1064.7,299.1 1069.0,320.6 1072.3,299.1 1074.4,288.4 1078.7,292.7 1081.9,279.8 1084.5,262.6 1087.3,284.1 1090.5,262.6 1095.9,261.5 1100.2,266.9 1104.5,273.3 1107.7,288.4 1112.0,273.3 1115.3,275.5 1118.5,284.1 1122.4,299.1 1124.9,290.5 1129.2,279.8 1132.5,288.4 1135.7,303.4 1138.9,309.9 1141.1,316.3 1144.3,338.9 1146.5,316.3 1149.7,320.6 1152.9,312.0 1156.1,320.6 1158.3,303.4 1161.5,314.2 1164.7,355.1 1166.9,324.9 1169.0,329.2 1172.3,322.8 1175.5,312.0 1178.7,316.3 1181.9,327.1 1186.2,338.9 1189.5,342.2 1193.8,344.3 1197.0,337.8 1200.2,322.8 1204.5,303.4 1206.7,342.2 1208.8,312.0 1211.4,344.3 1215.3,333.5 1219.6,324.9 1222.8,324.9 1226.0,333.5 1229.2,329.2 1232.5,320.6 1235.7,329.2 1240.4,320.2 1242.2,332.5 1244.8,348.3 1247.5,344.8 1250.1,346.6 1253.6,345.7 1257.1,350.1 1259.8,351.9 1262.4,360.6 1265.0,353.6 1267.7,348.3 1270.3,358.9 1272.9,351.9 1276.4,348.3 1279.1,343.1 1281.7,351.9 1284.4,360.6 1287.0,362.4 1288.7,371.2 1291.4,372.9 1294.0,378.2 1296.6,364.2 1298.9,390.5 1301.0,365.9 1303.7,348.3 1305.4,364.2 1307.2,376.4 1309.8,379.1 1312.5,376.4 1316.0,357.1 1318.6,380.0 1320.4,397.5 1322.1,390.5 1323.9,387.0 1325.6,397.5 1327.4,411.6 1328.8,429.1 1330.0,425.6 1332.3,394.0 1333.5,453.7" fill="none" stroke="#231f20" stroke-width="4.0" stroke-linejoin="round" stroke-linecap="round" /><polyline points="347.7,1457.3 352.6,1457.8 355.8,1442.7 359.0,1443.7 362.3,1434.5 365.5,1421.0 368.7,1390.7 373.5,1393.3 378.4,1382.4 381.6,1395.3 384.8,1380.2 388.1,1372.4 391.3,1346.1 394.5,1324.1 399.4,1323.8 404.2,1330.6 409.0,1327.7 412.3,1296.6 415.5,1280.2 418.7,1269.7 421.9,1278.5 425.2,1294.3 428.4,1247.7 432.6,1283.4 436.5,1255.3 441.3,1245.6 444.5,1244.8 448.7,1240.9 452.6,1238.0 457.4,1247.4 461.6,1249.5 465.5,1230.3 469.4,1215.9 473.5,1201.0 478.4,1180.5 483.2,1173.3 487.4,1143.6 491.3,1166.9 496.1,1144.7 501.0,1162.6 504.2,1147.7 507.4,1190.3 510.6,1171.2 513.9,1193.8 517.1,1183.5 520.3,1173.5 523.5,1161.6 525.2,1160.2 527.4,1175.1 529.4,1132.3 532.6,1137.2 534.8,1129.7 538.1,1143.8 541.3,1128.3 544.5,1151.5 547.7,1189.9 551.0,1178.0 554.2,1194.8 557.4,1208.3 562.3,1199.7 565.5,1198.7 568.7,1178.7 572.6,1199.4 576.8,1207.1 581.6,1199.9 584.8,1200.2 588.1,1197.5 591.3,1177.0 594.5,1158.6 598.7,1136.5 601.0,1166.5 604.2,1170.3 607.4,1175.8 610.6,1197.2 614.5,1223.3 617.1,1185.4 620.3,1203.7 623.5,1190.0 626.8,1197.6 630.0,1193.5 633.2,1201.9 636.5,1187.3 639.7,1197.3 642.9,1193.1 647.7,1165.4 651.0,1203.0 654.2,1182.6 657.4,1151.3 660.6,1115.9 663.9,1134.0 667.1,1117.9 670.3,1126.5 674.5,1098.9 678.4,1118.8 683.2,1104.5 686.5,1106.2 691.3,1108.4 694.5,1122.1 699.4,1111.8 704.2,1122.0 709.0,1107.9 712.3,1118.4 715.5,1093.9 718.7,1119.8 721.9,1123.8 725.2,1128.6 728.4,1133.1 731.6,1161.7 734.8,1148.3 738.1,1167.1 741.3,1162.2 744.5,1149.9 747.7,1140.7 751.0,1146.0 754.2,1186.4 759.0,1195.4 762.3,1219.0 767.1,1307.9 770.3,1274.6 773.5,1241.1 779.0,1241.0 780.6,1265.5 783.9,1273.1 787.1,1294.7 790.3,1269.6 793.5,1287.7 798.4,1271.3 801.6,1274.1 804.8,1266.0 809.7,1266.0 812.9,1268.8 817.7,1285.7 822.6,1295.9 825.8,1308.3 827.4,1328.1 830.6,1309.6 833.2,1274.6 835.5,1254.2 837.7,1283.2 841.9,1296.5 845.2,1263.3 848.4,1273.4 851.6,1254.6 854.8,1277.5 858.1,1247.3 861.3,1273.2 866.1,1262.9 869.4,1266.8 872.6,1265.1 875.2,1260.2 877.4,1290.8 880.6,1288.9 883.9,1282.2 887.1,1278.3 890.3,1278.5 893.5,1284.2 896.8,1294.0 900.0,1288.2 903.2,1265.5 908.1,1250.0 911.3,1236.6 914.5,1231.7 917.7,1239.5 922.6,1249.4 925.8,1254.7 929.0,1267.4 933.9,1263.9 937.1,1332.6 940.3,1341.1 943.5,1355.9 946.8,1375.5 950.0,1403.2 953.2,1398.6 956.5,1390.3 959.7,1373.4 962.9,1372.9 966.1,1361.7 969.4,1370.7 972.6,1355.0 975.8,1354.3 980.6,1350.2 983.9,1347.9 987.1,1332.1 988.7,1390.2 991.9,1388.0 995.2,1416.6 1000.0,1402.2 1004.8,1404.3 1009.7,1394.5 1012.9,1416.5 1017.7,1387.0 1022.6,1369.4 1025.8,1356.0 1029.0,1369.8 1033.9,1369.7 1037.1,1389.5 1040.3,1396.5 1045.2,1413.1 1048.4,1407.0 1051.6,1422.5 1056.5,1427.7 1059.7,1442.3 1064.5,1438.7 1069.4,1444.0 1072.6,1431.5 1075.8,1446.0 1079.0,1439.9 1082.3,1453.1 1087.1,1442.3 1090.3,1453.8 1095.2,1450.9 1101.6,1464.5 1104.8,1451.9 1109.7,1448.1 1114.5,1448.8 1119.4,1451.6 1124.2,1448.6 1129.0,1457.8 1133.9,1451.9 1137.1,1458.9 1140.3,1450.8 1143.5,1458.4 1148.4,1446.3 1153.2,1450.4 1158.1,1451.3 1161.3,1453.2 1165.5,1434.1 1169.4,1442.5 1174.2,1439.0 1177.4,1455.3 1179.7,1464.5" fill="none" stroke="#d2d2d2" stroke-width="2.2" stroke-linejoin="round" stroke-linecap="round" /><polyline points="347.7,1460.0 352.6,1453.5 355.8,1447.1 359.0,1439.0 362.3,1437.4 365.5,1418.1 368.7,1395.5 373.5,1390.6 378.4,1387.4 381.6,1390.6 384.8,1382.6 388.1,1369.7 391.3,1350.3 394.5,1321.3 399.4,1326.1 404.2,1326.1 409.0,1331.0 412.3,1292.3 415.5,1282.6 418.7,1266.5 421.9,1282.6 425.2,1292.3 428.4,1250.3 432.6,1279.4 436.5,1260.0 441.3,1240.6 444.5,1247.1 448.7,1237.4 452.6,1242.3 457.4,1243.9 461.6,1253.5 465.5,1227.7 469.4,1218.1 473.5,1198.7 478.4,1182.6 483.2,1169.7 487.4,1147.1 491.3,1163.2 496.1,1147.1 501.0,1160.0 504.2,1150.3 507.4,1185.8 510.6,1176.1 513.9,1189.0 517.1,1185.8 520.3,1171.3 523.5,1166.5 525.2,1156.8 527.4,1179.4 529.4,1129.4 532.6,1140.6 534.8,1126.1 538.1,1147.1 541.3,1124.5 544.5,1153.5 547.7,1185.8 551.0,1182.6 554.2,1192.3 557.4,1211.6 562.3,1195.5 565.5,1201.9 568.7,1176.1 572.6,1201.9 576.8,1203.5 581.6,1201.9 584.8,1195.5 588.1,1201.9 591.3,1172.9 594.5,1163.2 598.7,1132.6 601.0,1169.7 604.2,1166.5 607.4,1179.4 610.6,1192.3 614.5,1227.7 617.1,1182.6 620.3,1208.4 623.5,1185.8 626.8,1201.9 630.0,1189.0 633.2,1205.2 636.5,1182.6 639.7,1201.9 642.9,1189.0 647.7,1169.7 651.0,1198.7 654.2,1185.8 657.4,1147.1 660.6,1118.1 663.9,1131.0 667.1,1121.3 670.3,1124.5 674.5,1101.9 678.4,1114.8 683.2,1108.4 686.5,1103.5 691.3,1113.2 694.5,1118.1 699.4,1114.8 704.2,1118.1 709.0,1111.6 712.3,1114.8 715.5,1097.1 718.7,1114.8 721.9,1127.7 725.2,1124.5 728.4,1137.4 731.6,1156.8 734.8,1150.3 738.1,1163.2 741.3,1166.5 744.5,1147.1 747.7,1143.9 751.0,1143.9 754.2,1189.0 759.0,1192.3 762.3,1221.3 767.1,1305.2 770.3,1279.4 773.5,1237.4 779.0,1244.5 780.6,1260.6 783.9,1276.8 787.1,1289.7 790.3,1273.5 793.5,1283.2 798.4,1273.5 801.6,1270.3 804.8,1270.3 809.7,1263.9 812.9,1273.5 817.7,1283.2 822.6,1299.4 825.8,1305.8 827.4,1331.6 830.6,1305.8 833.2,1276.8 835.5,1249.4 837.7,1286.5 841.9,1292.9 845.2,1267.1 848.4,1270.3 851.6,1257.4 854.8,1273.5 858.1,1251.0 861.3,1270.3 866.1,1267.1 869.4,1263.9 872.6,1267.1 875.2,1257.4 877.4,1292.9 880.6,1286.5 883.9,1286.5 887.1,1275.2 890.3,1283.2 893.5,1280.0 896.8,1296.1 900.0,1283.2 903.2,1270.3 908.1,1247.7 911.3,1241.3 914.5,1228.4 917.7,1242.9 922.6,1244.5 925.8,1257.4 929.0,1263.9 933.9,1268.7 937.1,1328.4 940.3,1344.5 943.5,1351.0 946.8,1380.0 950.0,1399.4 953.2,1401.0 956.5,1386.5 959.7,1376.8 962.9,1370.3 966.1,1363.9 969.4,1367.1 972.6,1357.4 975.8,1351.0 980.6,1354.2 983.9,1344.5 987.1,1334.8 988.7,1386.5 991.9,1391.3 995.2,1412.3 1000.0,1405.8 1004.8,1399.4 1009.7,1399.4 1012.9,1412.3 1017.7,1389.7 1022.6,1367.1 1025.8,1360.6 1029.0,1365.5 1033.9,1373.5 1037.1,1386.5 1040.3,1399.4 1045.2,1409.0 1048.4,1410.6 1051.6,1418.7 1056.5,1431.6 1059.7,1438.1 1064.5,1441.3 1069.4,1441.3 1072.6,1436.5 1075.8,1441.3 1079.0,1444.5 1082.3,1451.0 1087.1,1444.5 1090.3,1451.0 1095.2,1454.2 1101.6,1460.6 1104.8,1454.2 1109.7,1444.5 1114.5,1451.0 1119.4,1449.4 1124.2,1452.6 1129.0,1454.2 1133.9,1455.8 1137.1,1455.8 1140.3,1454.2 1143.5,1455.8 1148.4,1449.4 1153.2,1446.1 1158.1,1455.8 1161.3,1451.0 1165.5,1436.5 1169.4,1438.1 1174.2,1442.9 1177.4,1451.0 1179.7,1467.1" fill="none" stroke="#c8c8c8" stroke-width="7" stroke-linejoin="round" stroke-linecap="round" opacity="0.7"/><polyline points="347.7,1460.0 352.6,1453.5 355.8,1447.1 359.0,1439.0 362.3,1437.4 365.5,1418.1 368.7,1395.5 373.5,1390.6 378.4,1387.4 381.6,1390.6 384.8,1382.6 388.1,1369.7 391.3,1350.3 394.5,1321.3 399.4,1326.1 404.2,1326.1 409.0,1331.0 412.3,1292.3 415.5,1282.6 418.7,1266.5 421.9,1282.6 425.2,1292.3 428.4,1250.3 432.6,1279.4 436.5,1260.0 441.3,1240.6 444.5,1247.1 448.7,1237.4 452.6,1242.3 457.4,1243.9 461.6,1253.5 465.5,1227.7 469.4,1218.1 473.5,1198.7 478.4,1182.6 483.2,1169.7 487.4,1147.1 491.3,1163.2 496.1,1147.1 501.0,1160.0 504.2,1150.3 507.4,1185.8 510.6,1176.1 513.9,1189.0 517.1,1185.8 520.3,1171.3 523.5,1166.5 525.2,1156.8 527.4,1179.4 529.4,1129.4 532.6,1140.6 534.8,1126.1 538.1,1147.1 541.3,1124.5 544.5,1153.5 547.7,1185.8 551.0,1182.6 554.2,1192.3 557.4,1211.6 562.3,1195.5 565.5,1201.9 568.7,1176.1 572.6,1201.9 576.8,1203.5 581.6,1201.9 584.8,1195.5 588.1,1201.9 591.3,1172.9 594.5,1163.2 598.7,1132.6 601.0,1169.7 604.2,1166.5 607.4,1179.4 610.6,1192.3 614.5,1227.7 617.1,1182.6 620.3,1208.4 623.5,1185.8 626.8,1201.9 630.0,1189.0 633.2,1205.2 636.5,1182.6 639.7,1201.9 642.9,1189.0 647.7,1169.7 651.0,1198.7 654.2,1185.8 657.4,1147.1 660.6,1118.1 663.9,1131.0 667.1,1121.3 670.3,1124.5 674.5,1101.9 678.4,1114.8 683.2,1108.4 686.5,1103.5 691.3,1113.2 694.5,1118.1 699.4,1114.8 704.2,1118.1 709.0,1111.6 712.3,1114.8 715.5,1097.1 718.7,1114.8 721.9,1127.7 725.2,1124.5 728.4,1137.4 731.6,1156.8 734.8,1150.3 738.1,1163.2 741.3,1166.5 744.5,1147.1 747.7,1143.9 751.0,1143.9 754.2,1189.0 759.0,1192.3 762.3,1221.3 767.1,1305.2 770.3,1279.4 773.5,1237.4 779.0,1244.5 780.6,1260.6 783.9,1276.8 787.1,1289.7 790.3,1273.5 793.5,1283.2 798.4,1273.5 801.6,1270.3 804.8,1270.3 809.7,1263.9 812.9,1273.5 817.7,1283.2 822.6,1299.4 825.8,1305.8 827.4,1331.6 830.6,1305.8 833.2,1276.8 835.5,1249.4 837.7,1286.5 841.9,1292.9 845.2,1267.1 848.4,1270.3 851.6,1257.4 854.8,1273.5 858.1,1251.0 861.3,1270.3 866.1,1267.1 869.4,1263.9 872.6,1267.1 875.2,1257.4 877.4,1292.9 880.6,1286.5 883.9,1286.5 887.1,1275.2 890.3,1283.2 893.5,1280.0 896.8,1296.1 900.0,1283.2 903.2,1270.3 908.1,1247.7 911.3,1241.3 914.5,1228.4 917.7,1242.9 922.6,1244.5 925.8,1257.4 929.0,1263.9 933.9,1268.7 937.1,1328.4 940.3,1344.5 943.5,1351.0 946.8,1380.0 950.0,1399.4 953.2,1401.0 956.5,1386.5 959.7,1376.8 962.9,1370.3 966.1,1363.9 969.4,1367.1 972.6,1357.4 975.8,1351.0 980.6,1354.2 983.9,1344.5 987.1,1334.8 988.7,1386.5 991.9,1391.3 995.2,1412.3 1000.0,1405.8 1004.8,1399.4 1009.7,1399.4 1012.9,1412.3 1017.7,1389.7 1022.6,1367.1 1025.8,1360.6 1029.0,1365.5 1033.9,1373.5 1037.1,1386.5 1040.3,1399.4 1045.2,1409.0 1048.4,1410.6 1051.6,1418.7 1056.5,1431.6 1059.7,1438.1 1064.5,1441.3 1069.4,1441.3 1072.6,1436.5 1075.8,1441.3 1079.0,1444.5 1082.3,1451.0 1087.1,1444.5 1090.3,1451.0 1095.2,1454.2 1101.6,1460.6 1104.8,1454.2 1109.7,1444.5 1114.5,1451.0 1119.4,1449.4 1124.2,1452.6 1129.0,1454.2 1133.9,1455.8 1137.1,1455.8 1140.3,1454.2 1143.5,1455.8 1148.4,1449.4 1153.2,1446.1 1158.1,1455.8 1161.3,1451.0 1165.5,1436.5 1169.4,1438.1 1174.2,1442.9 1177.4,1451.0 1179.7,1467.1" fill="none" stroke="#231f20" stroke-width="3.4" stroke-linejoin="round" stroke-linecap="round" />
<line x1="101" y1="12.5" x2="101" y2="489" stroke="#231f20" stroke-width="4"/><line x1="75.5" y1="487.3" x2="1379" y2="487.3" stroke="#231f20" stroke-width="4"/><line x1="76" y1="487.3" x2="101" y2="487.3" stroke="#231f20" stroke-width="3.5"/><line x1="76" y1="419.8" x2="101" y2="419.8" stroke="#231f20" stroke-width="3.5"/><line x1="76" y1="352.2" x2="101" y2="352.2" stroke="#231f20" stroke-width="3.5"/><line x1="76" y1="284.7" x2="101" y2="284.7" stroke="#231f20" stroke-width="3.5"/><line x1="76" y1="217.2" x2="101" y2="217.2" stroke="#231f20" stroke-width="3.5"/><line x1="76" y1="149.7" x2="101" y2="149.7" stroke="#231f20" stroke-width="3.5"/><line x1="76" y1="82.1" x2="101" y2="82.1" stroke="#231f20" stroke-width="3.5"/><line x1="76" y1="14.6" x2="101" y2="14.6" stroke="#231f20" stroke-width="3.5"/><line x1="101.0" y1="487" x2="101.0" y2="504" stroke="#231f20" stroke-width="3.5"/><line x1="283.3" y1="487" x2="283.3" y2="504" stroke="#231f20" stroke-width="3.5"/><line x1="465.6" y1="487" x2="465.6" y2="504" stroke="#231f20" stroke-width="3.5"/><line x1="647.9" y1="487" x2="647.9" y2="504" stroke="#231f20" stroke-width="3.5"/><line x1="830.2" y1="487" x2="830.2" y2="504" stroke="#231f20" stroke-width="3.5"/><line x1="1012.5" y1="487" x2="1012.5" y2="504" stroke="#231f20" stroke-width="3.5"/><line x1="1194.8" y1="487" x2="1194.8" y2="504" stroke="#231f20" stroke-width="3.5"/><line x1="1377.1" y1="487" x2="1377.1" y2="504" stroke="#231f20" stroke-width="3.5"/><line x1="347.3" y1="1067" x2="347.3" y2="1478" stroke="#231f20" stroke-width="4"/><line x1="330" y1="1475.5" x2="1186" y2="1475.5" stroke="#231f20" stroke-width="4"/><line x1="330.4" y1="1475.5" x2="347" y2="1475.5" stroke="#231f20" stroke-width="3.5"/><line x1="330.4" y1="1407.8" x2="347" y2="1407.8" stroke="#231f20" stroke-width="3.5"/><line x1="330.4" y1="1340.0" x2="347" y2="1340.0" stroke="#231f20" stroke-width="3.5"/><line x1="330.4" y1="1272.3" x2="347" y2="1272.3" stroke="#231f20" stroke-width="3.5"/><line x1="330.4" y1="1204.6" x2="347" y2="1204.6" stroke="#231f20" stroke-width="3.5"/><line x1="330.4" y1="1136.8" x2="347" y2="1136.8" stroke="#231f20" stroke-width="3.5"/><line x1="330.4" y1="1069.1" x2="347" y2="1069.1" stroke="#231f20" stroke-width="3.5"/><line x1="347.3" y1="1475" x2="347.3" y2="1488" stroke="#231f20" stroke-width="3.5"/><line x1="530.3" y1="1475" x2="530.3" y2="1488" stroke="#231f20" stroke-width="3.5"/><line x1="713.3" y1="1475" x2="713.3" y2="1488" stroke="#231f20" stroke-width="3.5"/><line x1="896.3" y1="1475" x2="896.3" y2="1488" stroke="#231f20" stroke-width="3.5"/><line x1="1079.3" y1="1475" x2="1079.3" y2="1488" stroke="#231f20" stroke-width="3.5"/>
<rect x="1167" y="48" width="77" height="9" fill="url(#gRedH)"/><polygon points="1242,38 1269,52.5 1242,67" fill="#ed2224"/><rect x="1173" y="92" width="87" height="30" fill="url(#gBlueH)"/><rect x="1177" y="143" width="83" height="59" fill="url(#gGreenH)"/><rect x="779" y="940" width="183" height="18" fill="#231f20"/><rect x="856" y="1846" width="183" height="18" fill="#231f20"/>
<text x="-2" y="26" font-size="48" text-anchor="start" fill="#231f20" font-family="Liberation Sans, sans-serif" font-weight="bold">a</text><text x="26" y="1097.5" font-size="51" text-anchor="start" fill="#231f20" font-family="Liberation Sans, sans-serif" font-weight="bold">b</text><text x="66.5" y="498.8" font-size="32" text-anchor="end" fill="#231f20" font-family="Liberation Sans, sans-serif" >0</text><text x="66.5" y="431.27" font-size="32" text-anchor="end" fill="#231f20" font-family="Liberation Sans, sans-serif" >1</text><text x="66.5" y="363.74" font-size="32" text-anchor="end" fill="#231f20" font-family="Liberation Sans, sans-serif" >2</text><text x="66.5" y="296.21000000000004" font-size="32" text-anchor="end" fill="#231f20" font-family="Liberation Sans, sans-serif" >3</text><text x="66.5" y="228.68" font-size="32" text-anchor="end" fill="#231f20" font-family="Liberation Sans, sans-serif" >4</text><text x="66.5" y="161.15000000000003" font-size="32" text-anchor="end" fill="#231f20" font-family="Liberation Sans, sans-serif" >5</text><text x="66.5" y="93.62" font-size="32" text-anchor="end" fill="#231f20" font-family="Liberation Sans, sans-serif" >6</text><text x="66.5" y="26.089999999999975" font-size="32" text-anchor="end" fill="#231f20" font-family="Liberation Sans, sans-serif" >7</text><text x="99.5" y="529.5" font-size="32" text-anchor="middle" fill="#231f20" font-family="Liberation Sans, sans-serif" >0</text><text x="281.8" y="529.5" font-size="32" text-anchor="middle" fill="#231f20" font-family="Liberation Sans, sans-serif" >10</text><text x="464.1" y="529.5" font-size="32" text-anchor="middle" fill="#231f20" font-family="Liberation Sans, sans-serif" >20</text><text x="646.4000000000001" y="529.5" font-size="32" text-anchor="middle" fill="#231f20" font-family="Liberation Sans, sans-serif" >30</text><text x="828.7" y="529.5" font-size="32" text-anchor="middle" fill="#231f20" font-family="Liberation Sans, sans-serif" >40</text><text x="1011.0" y="529.5" font-size="32" text-anchor="middle" fill="#231f20" font-family="Liberation Sans, sans-serif" >50</text><text x="1193.3000000000002" y="529.5" font-size="32" text-anchor="middle" fill="#231f20" font-family="Liberation Sans, sans-serif" >60</text><text x="1375.6000000000001" y="529.5" font-size="32" text-anchor="middle" fill="#231f20" font-family="Liberation Sans, sans-serif" >70</text><text x="98" y="566" font-size="32" text-anchor="start" fill="#231f20" font-family="Liberation Sans, sans-serif" textLength="364" lengthAdjust="spacingAndGlyphs">Distance along strike (km)</text><text x="28.5" y="401.5" font-size="32" text-anchor="start" fill="#231f20" font-family="Liberation Sans, sans-serif" transform="rotate(-90 28.5 401.5)" textLength="252" lengthAdjust="spacingAndGlyphs">Displacement (m)</text><text x="326" y="1487.0" font-size="32" text-anchor="end" fill="#231f20" font-family="Liberation Sans, sans-serif" >0</text><text x="326" y="1419.27" font-size="32" text-anchor="end" fill="#231f20" font-family="Liberation Sans, sans-serif" >1</text><text x="326" y="1351.54" font-size="32" text-anchor="end" fill="#231f20" font-family="Liberation Sans, sans-serif" >2</text><text x="326" y="1283.81" font-size="32" text-anchor="end" fill="#231f20" font-family="Liberation Sans, sans-serif" >3</text><text x="326" y="1216.08" font-size="32" text-anchor="end" fill="#231f20" font-family="Liberation Sans, sans-serif" >4</text><text x="326" y="1148.35" font-size="32" text-anchor="end" fill="#231f20" font-family="Liberation Sans, sans-serif" >5</text><text x="326" y="1080.62" font-size="32" text-anchor="end" fill="#231f20" font-family="Liberation Sans, sans-serif" >6</text><text x="343.5" y="1512.5" font-size="32" text-anchor="middle" fill="#231f20" font-family="Liberation Sans, sans-serif" >0</text><text x="526.5" y="1512.5" font-size="32" text-anchor="middle" fill="#231f20" font-family="Liberation Sans, sans-serif" >10</text><text x="709.5" y="1512.5" font-size="32" text-anchor="middle" fill="#231f20" font-family="Liberation Sans, sans-serif" >20</text><text x="892.5" y="1512.5" font-size="32" text-anchor="middle" fill="#231f20" font-family="Liberation Sans, sans-serif" >30</text><text x="1075.5" y="1512.5" font-size="32" text-anchor="middle" fill="#231f20" font-family="Liberation Sans, sans-serif" >40</text><text x="584" y="1545" font-size="32" text-anchor="start" fill="#231f20" font-family="Liberation Sans, sans-serif" textLength="364" lengthAdjust="spacingAndGlyphs">Distance along strike (km)</text><text x="296.5" y="1425" font-size="32" text-anchor="start" fill="#231f20" font-family="Liberation Sans, sans-serif" transform="rotate(-90 296.5 1425)" textLength="254" lengthAdjust="spacingAndGlyphs">Displacement (m)</text><text x="1215" y="24" font-size="30" text-anchor="start" fill="#231f20" font-family="Liberation Sans, sans-serif" textLength="153" lengthAdjust="spacingAndGlyphs">Width (km)</text><text x="1304" y="69" font-size="30" text-anchor="start" fill="#231f20" font-family="Liberation Sans, sans-serif" textLength="67" lengthAdjust="spacingAndGlyphs">&lt; 0.2</text><text x="1304" y="123" font-size="30" text-anchor="start" fill="#231f20" font-family="Liberation Sans, sans-serif" textLength="67" lengthAdjust="spacingAndGlyphs">0.2-2</text><text x="1310" y="191" font-size="30" text-anchor="start" fill="#231f20" font-family="Liberation Sans, sans-serif" textLength="42" lengthAdjust="spacingAndGlyphs">&gt; 2</text><text x="813" y="933" font-size="42" text-anchor="start" fill="#231f20" font-family="Liberation Sans, sans-serif" textLength="115" lengthAdjust="spacingAndGlyphs">10 km</text><text x="888" y="1839" font-size="42" text-anchor="start" fill="#231f20" font-family="Liberation Sans, sans-serif" textLength="117" lengthAdjust="spacingAndGlyphs">10 km</text>
</svg></body></html>
